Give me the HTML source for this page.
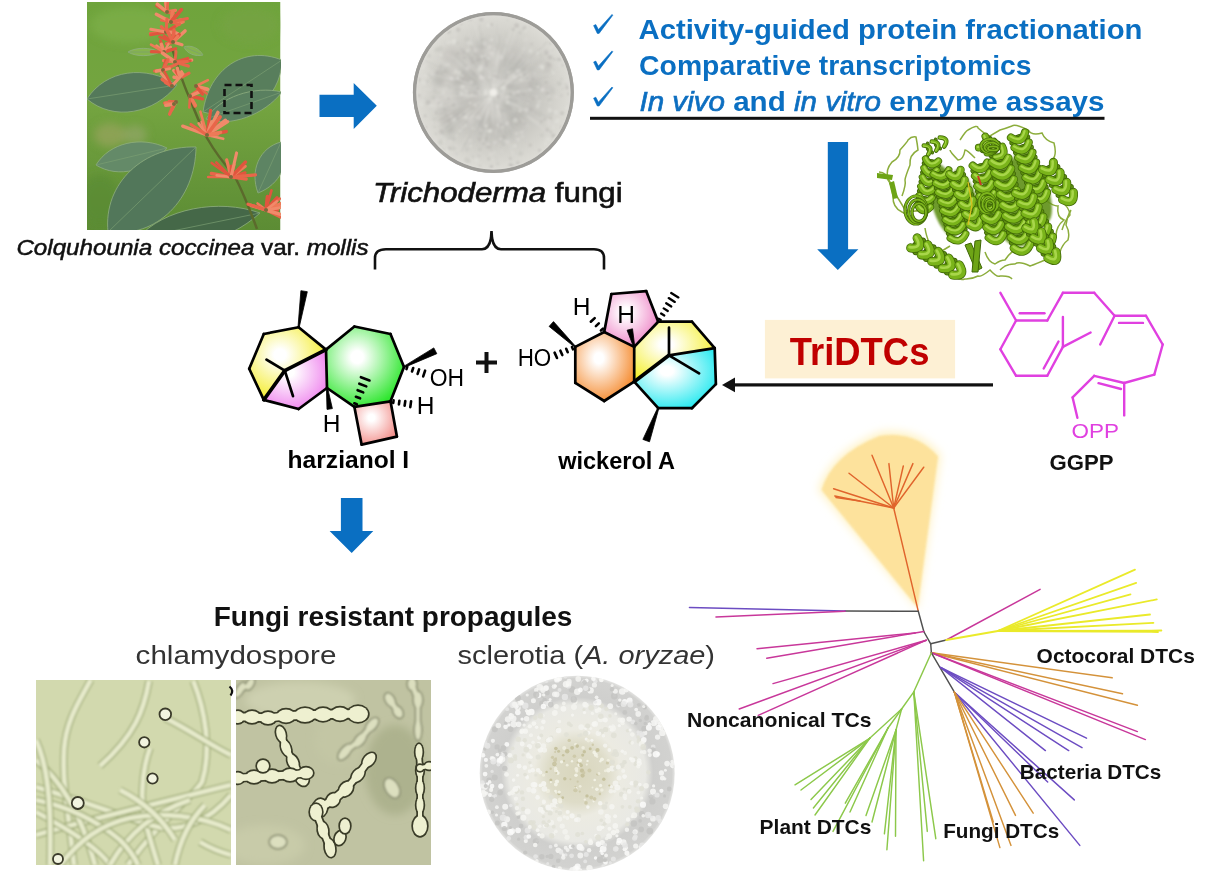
<!DOCTYPE html>
<html><head><meta charset="utf-8"><title>TriDTCs graphical abstract</title>
<style>
html,body{margin:0;padding:0;background:#fff;}
body{width:1230px;height:874px;overflow:hidden;font-family:"Liberation Sans",sans-serif;}
svg{display:block;}
</style></head><body>
<svg width="1230" height="874" viewBox="0 0 1230 874">
<rect width="1230" height="874" fill="#fff"/>
<defs>
<radialGradient id="petri" cx="50%" cy="50%" r="50%">
 <stop offset="0" stop-color="#e8e7e2"/><stop offset="0.08" stop-color="#d4d3ce"/>
 <stop offset="0.45" stop-color="#c2c1bc"/><stop offset="0.75" stop-color="#d2d1cb"/>
 <stop offset="0.95" stop-color="#dcdbd5"/><stop offset="1" stop-color="#b0afab"/>
</radialGradient>
<radialGradient id="scler" cx="50%" cy="50%" r="50%">
 <stop offset="0" stop-color="#d9d6bd"/><stop offset="0.3" stop-color="#dedcc8"/>
 <stop offset="0.45" stop-color="#ecebe2"/><stop offset="0.7" stop-color="#e9e9e4"/>
 <stop offset="0.78" stop-color="#cfcfcd"/><stop offset="0.97" stop-color="#d2d2d0"/><stop offset="1" stop-color="#e4e4e2"/>
</radialGradient>
<linearGradient id="plantbg" x1="0" y1="0" x2="0" y2="1">
 <stop offset="0" stop-color="#6fa43c"/><stop offset="0.45" stop-color="#74a440"/><stop offset="1" stop-color="#5c8c34"/>
</linearGradient>
<radialGradient id="wedgeg" cx="0.5" cy="1" r="1">
 <stop offset="0" stop-color="#fde7a8"/><stop offset="1" stop-color="#fde09a"/>
</radialGradient>
<radialGradient id="gG" cx="0.4" cy="0.38" r="0.65"><stop offset="0" stop-color="#ffffff"/><stop offset="0.12" stop-color="#ffffff"/><stop offset="1" stop-color="#2ee62e"/></radialGradient>
<radialGradient id="gY" cx="0.4" cy="0.38" r="0.65"><stop offset="0" stop-color="#ffffff"/><stop offset="0.12" stop-color="#ffffff"/><stop offset="1" stop-color="#f4ec2a"/></radialGradient>
<radialGradient id="gP" cx="0.4" cy="0.38" r="0.65"><stop offset="0" stop-color="#ffffff"/><stop offset="0.12" stop-color="#ffffff"/><stop offset="1" stop-color="#ef88ee"/></radialGradient>
<radialGradient id="gS" cx="0.4" cy="0.38" r="0.65"><stop offset="0" stop-color="#ffffff"/><stop offset="0.12" stop-color="#ffffff"/><stop offset="1" stop-color="#f3928e"/></radialGradient>
<radialGradient id="gO" cx="0.4" cy="0.38" r="0.65"><stop offset="0" stop-color="#ffffff"/><stop offset="0.12" stop-color="#ffffff"/><stop offset="1" stop-color="#f58d33"/></radialGradient>
<radialGradient id="gC" cx="0.4" cy="0.38" r="0.65"><stop offset="0" stop-color="#ffffff"/><stop offset="0.12" stop-color="#ffffff"/><stop offset="1" stop-color="#2eeaf0"/></radialGradient>
<radialGradient id="gP2" cx="0.4" cy="0.38" r="0.65"><stop offset="0" stop-color="#ffffff"/><stop offset="0.12" stop-color="#ffffff"/><stop offset="1" stop-color="#ee84c6"/></radialGradient>
<radialGradient id="gY2" cx="0.4" cy="0.38" r="0.65"><stop offset="0" stop-color="#ffffff"/><stop offset="0.12" stop-color="#ffffff"/><stop offset="1" stop-color="#f5ef2e"/></radialGradient>
<filter id="blur1"><feGaussianBlur stdDeviation="1.2"/></filter>
<filter id="blur2"><feGaussianBlur stdDeviation="2.5"/></filter>
<filter id="blur4"><feGaussianBlur stdDeviation="4"/></filter>
<clipPath id="cplant"><rect x="87" y="2" width="193.5" height="228"/></clipPath>
<clipPath id="cm1"><rect x="36" y="680" width="195" height="185"/></clipPath>
<clipPath id="cm2"><rect x="236" y="680" width="195" height="185"/></clipPath>
<clipPath id="cpetri"><circle cx="493.4" cy="92.5" r="80"/></clipPath>
<clipPath id="cscl"><circle cx="577.2" cy="773.2" r="97.5"/></clipPath>
</defs>
<g clip-path="url(#cplant)"><rect x="87" y="2" width="193.5" height="228" fill="url(#plantbg)"/><g filter="url(#blur4)"><ellipse cx="110" cy="135" rx="16" ry="12" fill="#93a45a" opacity="0.8"/><ellipse cx="135" cy="135" rx="12" ry="10" fill="#9aa870" opacity="0.6"/><ellipse cx="130" cy="25" rx="40" ry="18" fill="#80b24c" opacity="0.6"/><ellipse cx="250" cy="25" rx="30" ry="18" fill="#77a444" opacity="0.6"/><ellipse cx="100" cy="200" rx="20" ry="25" fill="#5a8a34" opacity="0.7"/></g><path d="M87.0,99.0 C113.5,121.4 153.9,114.1 177.0,85.0 C146.1,64.3 105.5,69.6 87.0,99.0Z" fill="#54795a" stroke="#8fae80" stroke-width="0.8"/><path d="M87.0,99.0 L177.0,85.0" stroke="#7a9e72" stroke-width="1" opacity="0.7"/><path d="M282.0,60.0 C243.7,44.8 208.9,69.3 203.0,112.0 C244.5,123.5 280.8,101.2 282.0,60.0Z" fill="#587e5c" stroke="#8fae80" stroke-width="0.8"/><path d="M282.0,60.0 L203.0,112.0" stroke="#7a9e72" stroke-width="1" opacity="0.7"/><path d="M206.0,119.0 C230.4,127.6 264.4,114.8 282.0,92.0 C254.0,85.4 219.6,96.9 206.0,119.0Z" fill="#5a8060" stroke="#8fae80" stroke-width="0.8"/><path d="M206.0,119.0 L282.0,92.0" stroke="#7a9e72" stroke-width="1" opacity="0.7"/><path d="M96.0,165.0 C118.1,179.0 149.9,170.6 167.0,148.0 C141.5,135.6 109.4,142.5 96.0,165.0Z" fill="#648a68" stroke="#8fae80" stroke-width="0.8"/><path d="M96.0,165.0 L167.0,148.0" stroke="#7a9e72" stroke-width="1" opacity="0.7"/><path d="M108.0,232.0 C156.9,238.6 195.4,199.3 196.0,147.0 C143.8,145.7 103.1,182.9 108.0,232.0Z" fill="#52775a" stroke="#8fae80" stroke-width="0.8"/><path d="M108.0,232.0 L196.0,147.0" stroke="#7a9e72" stroke-width="1" opacity="0.7"/><path d="M138.0,238.0 C173.3,255.0 228.0,242.8 260.0,213.0 C218.8,198.2 163.7,208.5 138.0,238.0Z" fill="#456848" stroke="#8fae80" stroke-width="0.8"/><path d="M138.0,238.0 L260.0,213.0" stroke="#7a9e72" stroke-width="1" opacity="0.7"/><path d="M281.0,142.0 C259.3,147.6 249.6,170.8 258.0,193.0 C280.2,184.6 291.2,161.9 281.0,142.0Z" fill="#5d8463" stroke="#8fae80" stroke-width="0.8"/><path d="M281.0,142.0 L258.0,193.0" stroke="#7a9e72" stroke-width="1" opacity="0.7"/><path d="M172,48 C180,75 188,95 191,101 C197,118 203,130 207,138 C215,152 225,165 234,175 C242,190 250,210 257,229" stroke="#5b6a2c" stroke-width="2.5" fill="none"/><path d="M128.0,52.0 C136.0,57.0 150.4,56.8 160.0,52.0 C150.4,47.2 136.0,47.0 128.0,52.0Z" fill="#86b44e" stroke="#8fae80" stroke-width="0.8"/><path d="M128.0,52.0 L160.0,52.0" stroke="#7a9e72" stroke-width="1" opacity="0.7"/><path d="M184.0,47.0 C186.8,53.6 195.4,57.0 203.0,55.0 C199.2,48.2 190.7,44.4 184.0,47.0Z" fill="#86b44e" stroke="#8fae80" stroke-width="0.8"/><path d="M184.0,47.0 L203.0,55.0" stroke="#7a9e72" stroke-width="1" opacity="0.7"/><line x1="167.0" y1="12.0" x2="156.9" y2="5.6" stroke="#e0553e" stroke-width="3.5" stroke-linecap="round"/><line x1="167.0" y1="12.0" x2="165.8" y2="-0.3" stroke="#e8664a" stroke-width="3.5" stroke-linecap="round"/><line x1="167.0" y1="12.0" x2="165.6" y2="0.0" stroke="#ee7a58" stroke-width="3.6" stroke-linecap="round"/><line x1="167.0" y1="12.0" x2="165.3" y2="-3.1" stroke="#f08a6a" stroke-width="2.9" stroke-linecap="round"/><line x1="167.0" y1="12.0" x2="175.4" y2="10.4" stroke="#ee7a58" stroke-width="3.5" stroke-linecap="round"/><line x1="167.0" y1="12.0" x2="168.3" y2="-2.1" stroke="#e8664a" stroke-width="2.7" stroke-linecap="round"/><line x1="167.0" y1="12.0" x2="173.4" y2="13.2" stroke="#e8664a" stroke-width="3.4" stroke-linecap="round"/><line x1="167.0" y1="12.0" x2="157.3" y2="4.1" stroke="#f08a6a" stroke-width="3.3" stroke-linecap="round"/><circle cx="167" cy="12" r="2" fill="#7a6a3a"/><line x1="171.0" y1="22.0" x2="181.3" y2="22.5" stroke="#f08a6a" stroke-width="3.6" stroke-linecap="round"/><line x1="171.0" y1="22.0" x2="161.1" y2="20.3" stroke="#e8664a" stroke-width="2.6" stroke-linecap="round"/><line x1="171.0" y1="22.0" x2="156.3" y2="14.3" stroke="#f08a6a" stroke-width="3.4" stroke-linecap="round"/><line x1="171.0" y1="22.0" x2="181.4" y2="19.8" stroke="#f08a6a" stroke-width="3.1" stroke-linecap="round"/><line x1="171.0" y1="22.0" x2="172.4" y2="11.6" stroke="#ee7a58" stroke-width="3.5" stroke-linecap="round"/><line x1="171.0" y1="22.0" x2="181.4" y2="9.6" stroke="#e0553e" stroke-width="3.6" stroke-linecap="round"/><line x1="171.0" y1="22.0" x2="175.8" y2="15.8" stroke="#e0553e" stroke-width="3.6" stroke-linecap="round"/><line x1="171.0" y1="22.0" x2="183.3" y2="21.8" stroke="#ee7a58" stroke-width="3.2" stroke-linecap="round"/><line x1="171.0" y1="22.0" x2="179.5" y2="24.7" stroke="#e8664a" stroke-width="2.6" stroke-linecap="round"/><line x1="171.0" y1="22.0" x2="187.5" y2="18.5" stroke="#e8664a" stroke-width="2.9" stroke-linecap="round"/><circle cx="171" cy="22" r="2" fill="#7a6a3a"/><line x1="166.0" y1="32.0" x2="150.2" y2="33.5" stroke="#e8664a" stroke-width="2.8" stroke-linecap="round"/><line x1="166.0" y1="32.0" x2="179.4" y2="24.0" stroke="#e8664a" stroke-width="3.2" stroke-linecap="round"/><line x1="166.0" y1="32.0" x2="174.6" y2="26.6" stroke="#e0553e" stroke-width="3.1" stroke-linecap="round"/><line x1="166.0" y1="32.0" x2="175.1" y2="32.4" stroke="#ee7a58" stroke-width="3.6" stroke-linecap="round"/><line x1="166.0" y1="32.0" x2="161.4" y2="26.9" stroke="#e8664a" stroke-width="3.5" stroke-linecap="round"/><line x1="166.0" y1="32.0" x2="174.9" y2="34.2" stroke="#e0553e" stroke-width="2.7" stroke-linecap="round"/><line x1="166.0" y1="32.0" x2="150.7" y2="34.9" stroke="#e0553e" stroke-width="2.9" stroke-linecap="round"/><line x1="166.0" y1="32.0" x2="150.8" y2="29.2" stroke="#f08a6a" stroke-width="3.0" stroke-linecap="round"/><line x1="166.0" y1="32.0" x2="167.0" y2="19.0" stroke="#e8664a" stroke-width="3.2" stroke-linecap="round"/><line x1="166.0" y1="32.0" x2="177.5" y2="33.4" stroke="#f08a6a" stroke-width="3.2" stroke-linecap="round"/><circle cx="166" cy="32" r="2" fill="#7a6a3a"/><line x1="173.0" y1="42.0" x2="185.0" y2="31.0" stroke="#f08a6a" stroke-width="3.6" stroke-linecap="round"/><line x1="173.0" y1="42.0" x2="174.0" y2="30.0" stroke="#e8664a" stroke-width="3.4" stroke-linecap="round"/><line x1="173.0" y1="42.0" x2="182.0" y2="44.8" stroke="#f08a6a" stroke-width="3.2" stroke-linecap="round"/><line x1="173.0" y1="42.0" x2="176.2" y2="36.2" stroke="#e0553e" stroke-width="3.0" stroke-linecap="round"/><line x1="173.0" y1="42.0" x2="179.3" y2="34.4" stroke="#e0553e" stroke-width="3.3" stroke-linecap="round"/><line x1="173.0" y1="42.0" x2="166.6" y2="43.7" stroke="#e8664a" stroke-width="3.6" stroke-linecap="round"/><line x1="173.0" y1="42.0" x2="164.0" y2="35.6" stroke="#e0553e" stroke-width="2.7" stroke-linecap="round"/><line x1="173.0" y1="42.0" x2="159.6" y2="36.9" stroke="#e0553e" stroke-width="2.8" stroke-linecap="round"/><line x1="173.0" y1="42.0" x2="166.4" y2="29.1" stroke="#e8664a" stroke-width="3.6" stroke-linecap="round"/><line x1="173.0" y1="42.0" x2="177.8" y2="36.3" stroke="#ee7a58" stroke-width="3.2" stroke-linecap="round"/><circle cx="173" cy="42" r="2" fill="#7a6a3a"/><line x1="164.0" y1="52.0" x2="156.6" y2="45.9" stroke="#f08a6a" stroke-width="3.2" stroke-linecap="round"/><line x1="164.0" y1="52.0" x2="151.4" y2="51.7" stroke="#e0553e" stroke-width="3.2" stroke-linecap="round"/><line x1="164.0" y1="52.0" x2="151.0" y2="44.7" stroke="#ee7a58" stroke-width="2.6" stroke-linecap="round"/><line x1="164.0" y1="52.0" x2="170.7" y2="47.0" stroke="#f08a6a" stroke-width="2.8" stroke-linecap="round"/><line x1="164.0" y1="52.0" x2="169.7" y2="49.1" stroke="#ee7a58" stroke-width="2.8" stroke-linecap="round"/><line x1="164.0" y1="52.0" x2="175.8" y2="48.6" stroke="#e0553e" stroke-width="2.9" stroke-linecap="round"/><line x1="164.0" y1="52.0" x2="170.6" y2="49.9" stroke="#e0553e" stroke-width="3.1" stroke-linecap="round"/><line x1="164.0" y1="52.0" x2="160.5" y2="40.8" stroke="#e0553e" stroke-width="3.0" stroke-linecap="round"/><line x1="164.0" y1="52.0" x2="168.5" y2="44.0" stroke="#f08a6a" stroke-width="2.5" stroke-linecap="round"/><line x1="164.0" y1="52.0" x2="161.3" y2="44.3" stroke="#f08a6a" stroke-width="3.5" stroke-linecap="round"/><circle cx="164" cy="52" r="2" fill="#7a6a3a"/><line x1="175.0" y1="62.0" x2="191.8" y2="60.1" stroke="#f08a6a" stroke-width="3.1" stroke-linecap="round"/><line x1="175.0" y1="62.0" x2="188.3" y2="66.0" stroke="#e8664a" stroke-width="3.3" stroke-linecap="round"/><line x1="175.0" y1="62.0" x2="187.8" y2="58.4" stroke="#e0553e" stroke-width="3.1" stroke-linecap="round"/><line x1="175.0" y1="62.0" x2="190.4" y2="60.8" stroke="#e0553e" stroke-width="2.6" stroke-linecap="round"/><line x1="175.0" y1="62.0" x2="169.7" y2="58.4" stroke="#ee7a58" stroke-width="3.5" stroke-linecap="round"/><line x1="175.0" y1="62.0" x2="187.3" y2="61.6" stroke="#e8664a" stroke-width="3.0" stroke-linecap="round"/><line x1="175.0" y1="62.0" x2="163.5" y2="60.7" stroke="#ee7a58" stroke-width="3.2" stroke-linecap="round"/><line x1="175.0" y1="62.0" x2="176.0" y2="51.5" stroke="#e8664a" stroke-width="2.9" stroke-linecap="round"/><line x1="175.0" y1="62.0" x2="162.4" y2="53.0" stroke="#f08a6a" stroke-width="3.4" stroke-linecap="round"/><circle cx="175" cy="62" r="2" fill="#7a6a3a"/><line x1="163.0" y1="70.0" x2="154.6" y2="71.0" stroke="#e8664a" stroke-width="3.1" stroke-linecap="round"/><line x1="163.0" y1="70.0" x2="170.4" y2="67.3" stroke="#e0553e" stroke-width="3.5" stroke-linecap="round"/><line x1="163.0" y1="70.0" x2="176.9" y2="64.2" stroke="#e8664a" stroke-width="3.0" stroke-linecap="round"/><line x1="163.0" y1="70.0" x2="165.8" y2="60.0" stroke="#e0553e" stroke-width="2.8" stroke-linecap="round"/><line x1="163.0" y1="70.0" x2="168.1" y2="59.5" stroke="#e8664a" stroke-width="3.0" stroke-linecap="round"/><line x1="163.0" y1="70.0" x2="168.3" y2="67.1" stroke="#e8664a" stroke-width="3.4" stroke-linecap="round"/><line x1="163.0" y1="70.0" x2="156.5" y2="71.1" stroke="#f08a6a" stroke-width="3.6" stroke-linecap="round"/><line x1="163.0" y1="70.0" x2="169.8" y2="68.6" stroke="#f08a6a" stroke-width="2.8" stroke-linecap="round"/><circle cx="163" cy="70" r="2" fill="#7a6a3a"/><line x1="180.0" y1="78.0" x2="173.6" y2="70.5" stroke="#f08a6a" stroke-width="3.1" stroke-linecap="round"/><line x1="180.0" y1="78.0" x2="175.9" y2="71.0" stroke="#e0553e" stroke-width="3.0" stroke-linecap="round"/><line x1="180.0" y1="78.0" x2="174.0" y2="77.2" stroke="#f08a6a" stroke-width="3.4" stroke-linecap="round"/><line x1="180.0" y1="78.0" x2="181.6" y2="71.7" stroke="#f08a6a" stroke-width="3.2" stroke-linecap="round"/><line x1="180.0" y1="78.0" x2="189.0" y2="73.2" stroke="#e8664a" stroke-width="3.2" stroke-linecap="round"/><line x1="180.0" y1="78.0" x2="177.4" y2="68.2" stroke="#f08a6a" stroke-width="3.3" stroke-linecap="round"/><circle cx="180" cy="78" r="2" fill="#7a6a3a"/><line x1="172.0" y1="86.0" x2="161.3" y2="73.5" stroke="#f08a6a" stroke-width="3.0" stroke-linecap="round"/><line x1="172.0" y1="86.0" x2="162.1" y2="79.4" stroke="#e8664a" stroke-width="3.4" stroke-linecap="round"/><line x1="172.0" y1="86.0" x2="165.5" y2="82.4" stroke="#e8664a" stroke-width="3.5" stroke-linecap="round"/><line x1="172.0" y1="86.0" x2="164.6" y2="71.9" stroke="#e0553e" stroke-width="2.6" stroke-linecap="round"/><line x1="172.0" y1="86.0" x2="182.9" y2="73.8" stroke="#f08a6a" stroke-width="3.2" stroke-linecap="round"/><circle cx="172" cy="86" r="2" fill="#7a6a3a"/><line x1="190.0" y1="96.0" x2="195.2" y2="106.1" stroke="#e8664a" stroke-width="3.4" stroke-linecap="round"/><line x1="190.0" y1="96.0" x2="195.4" y2="105.4" stroke="#ee7a58" stroke-width="3.4" stroke-linecap="round"/><line x1="190.0" y1="96.0" x2="197.1" y2="91.2" stroke="#e8664a" stroke-width="3.2" stroke-linecap="round"/><line x1="190.0" y1="96.0" x2="202.6" y2="98.8" stroke="#e0553e" stroke-width="3.4" stroke-linecap="round"/><line x1="190.0" y1="96.0" x2="202.0" y2="90.9" stroke="#f08a6a" stroke-width="3.4" stroke-linecap="round"/><line x1="190.0" y1="96.0" x2="189.3" y2="107.5" stroke="#e8664a" stroke-width="2.5" stroke-linecap="round"/><circle cx="190" cy="96" r="2" fill="#7a6a3a"/><line x1="176.0" y1="102.0" x2="166.9" y2="102.5" stroke="#ee7a58" stroke-width="2.6" stroke-linecap="round"/><line x1="176.0" y1="102.0" x2="164.4" y2="103.0" stroke="#e8664a" stroke-width="3.1" stroke-linecap="round"/><line x1="176.0" y1="102.0" x2="169.0" y2="101.1" stroke="#e8664a" stroke-width="2.8" stroke-linecap="round"/><line x1="176.0" y1="102.0" x2="172.5" y2="108.6" stroke="#f08a6a" stroke-width="2.8" stroke-linecap="round"/><circle cx="176" cy="102" r="2" fill="#7a6a3a"/><line x1="207.0" y1="135.0" x2="217.9" y2="112.5" stroke="#f08a6a" stroke-width="3.6" stroke-linecap="round"/><line x1="207.0" y1="135.0" x2="202.0" y2="122.2" stroke="#f08a6a" stroke-width="3.4" stroke-linecap="round"/><line x1="207.0" y1="135.0" x2="223.2" y2="138.8" stroke="#f08a6a" stroke-width="2.7" stroke-linecap="round"/><line x1="207.0" y1="135.0" x2="200.4" y2="111.7" stroke="#ee7a58" stroke-width="2.6" stroke-linecap="round"/><line x1="207.0" y1="135.0" x2="227.7" y2="121.6" stroke="#f08a6a" stroke-width="3.1" stroke-linecap="round"/><line x1="207.0" y1="135.0" x2="219.0" y2="132.9" stroke="#ee7a58" stroke-width="2.7" stroke-linecap="round"/><line x1="207.0" y1="135.0" x2="210.6" y2="110.3" stroke="#e0553e" stroke-width="3.2" stroke-linecap="round"/><line x1="207.0" y1="135.0" x2="226.2" y2="131.5" stroke="#e0553e" stroke-width="3.5" stroke-linecap="round"/><line x1="207.0" y1="135.0" x2="198.7" y2="123.4" stroke="#f08a6a" stroke-width="2.7" stroke-linecap="round"/><line x1="207.0" y1="135.0" x2="211.7" y2="122.0" stroke="#f08a6a" stroke-width="3.4" stroke-linecap="round"/><line x1="207.0" y1="135.0" x2="182.7" y2="126.1" stroke="#f08a6a" stroke-width="3.3" stroke-linecap="round"/><line x1="207.0" y1="135.0" x2="190.9" y2="124.4" stroke="#e8664a" stroke-width="3.0" stroke-linecap="round"/><line x1="207.0" y1="135.0" x2="225.5" y2="120.2" stroke="#f08a6a" stroke-width="3.4" stroke-linecap="round"/><line x1="207.0" y1="135.0" x2="217.7" y2="134.1" stroke="#ee7a58" stroke-width="3.5" stroke-linecap="round"/><line x1="207.0" y1="135.0" x2="220.2" y2="116.9" stroke="#e8664a" stroke-width="3.6" stroke-linecap="round"/><line x1="207.0" y1="135.0" x2="220.6" y2="132.4" stroke="#ee7a58" stroke-width="3.4" stroke-linecap="round"/><circle cx="207" cy="135" r="2" fill="#7a6a3a"/><line x1="231.0" y1="177.0" x2="211.4" y2="173.5" stroke="#e8664a" stroke-width="3.5" stroke-linecap="round"/><line x1="231.0" y1="177.0" x2="211.7" y2="163.0" stroke="#e0553e" stroke-width="2.7" stroke-linecap="round"/><line x1="231.0" y1="177.0" x2="208.2" y2="177.0" stroke="#e8664a" stroke-width="2.6" stroke-linecap="round"/><line x1="231.0" y1="177.0" x2="245.1" y2="172.8" stroke="#e0553e" stroke-width="3.0" stroke-linecap="round"/><line x1="231.0" y1="177.0" x2="243.0" y2="167.4" stroke="#e8664a" stroke-width="2.9" stroke-linecap="round"/><line x1="231.0" y1="177.0" x2="226.7" y2="159.8" stroke="#ee7a58" stroke-width="3.2" stroke-linecap="round"/><line x1="231.0" y1="177.0" x2="245.3" y2="166.3" stroke="#ee7a58" stroke-width="3.1" stroke-linecap="round"/><line x1="231.0" y1="177.0" x2="216.7" y2="175.4" stroke="#f08a6a" stroke-width="2.6" stroke-linecap="round"/><line x1="231.0" y1="177.0" x2="255.5" y2="174.9" stroke="#e8664a" stroke-width="3.1" stroke-linecap="round"/><line x1="231.0" y1="177.0" x2="245.5" y2="162.0" stroke="#e0553e" stroke-width="3.3" stroke-linecap="round"/><line x1="231.0" y1="177.0" x2="216.3" y2="162.3" stroke="#e0553e" stroke-width="2.6" stroke-linecap="round"/><line x1="231.0" y1="177.0" x2="246.3" y2="179.1" stroke="#e8664a" stroke-width="3.2" stroke-linecap="round"/><line x1="231.0" y1="177.0" x2="231.4" y2="166.1" stroke="#e0553e" stroke-width="3.2" stroke-linecap="round"/><line x1="231.0" y1="177.0" x2="234.3" y2="164.5" stroke="#ee7a58" stroke-width="2.7" stroke-linecap="round"/><line x1="231.0" y1="177.0" x2="251.4" y2="175.5" stroke="#e8664a" stroke-width="2.6" stroke-linecap="round"/><line x1="231.0" y1="177.0" x2="236.6" y2="152.9" stroke="#f08a6a" stroke-width="3.1" stroke-linecap="round"/><circle cx="231" cy="177" r="2" fill="#7a6a3a"/><line x1="266.0" y1="210.0" x2="277.0" y2="197.8" stroke="#e0553e" stroke-width="3.4" stroke-linecap="round"/><line x1="266.0" y1="210.0" x2="275.6" y2="203.6" stroke="#ee7a58" stroke-width="3.3" stroke-linecap="round"/><line x1="266.0" y1="210.0" x2="271.5" y2="190.4" stroke="#e0553e" stroke-width="2.6" stroke-linecap="round"/><line x1="266.0" y1="210.0" x2="257.5" y2="203.4" stroke="#ee7a58" stroke-width="2.5" stroke-linecap="round"/><line x1="266.0" y1="210.0" x2="267.4" y2="196.6" stroke="#e0553e" stroke-width="3.5" stroke-linecap="round"/><line x1="266.0" y1="210.0" x2="280.6" y2="217.2" stroke="#e8664a" stroke-width="2.9" stroke-linecap="round"/><line x1="266.0" y1="210.0" x2="277.6" y2="210.3" stroke="#e0553e" stroke-width="3.1" stroke-linecap="round"/><line x1="266.0" y1="210.0" x2="279.8" y2="198.6" stroke="#e8664a" stroke-width="2.7" stroke-linecap="round"/><line x1="266.0" y1="210.0" x2="250.9" y2="205.3" stroke="#f08a6a" stroke-width="3.4" stroke-linecap="round"/><line x1="266.0" y1="210.0" x2="282.9" y2="202.9" stroke="#ee7a58" stroke-width="3.4" stroke-linecap="round"/><line x1="266.0" y1="210.0" x2="283.3" y2="206.8" stroke="#ee7a58" stroke-width="3.1" stroke-linecap="round"/><line x1="266.0" y1="210.0" x2="253.4" y2="205.3" stroke="#e0553e" stroke-width="2.5" stroke-linecap="round"/><line x1="266.0" y1="210.0" x2="288.2" y2="206.4" stroke="#f08a6a" stroke-width="2.8" stroke-linecap="round"/><line x1="266.0" y1="210.0" x2="279.7" y2="214.1" stroke="#f08a6a" stroke-width="3.6" stroke-linecap="round"/><line x1="266.0" y1="210.0" x2="277.1" y2="201.2" stroke="#f08a6a" stroke-width="2.5" stroke-linecap="round"/><line x1="266.0" y1="210.0" x2="248.0" y2="204.3" stroke="#e8664a" stroke-width="3.3" stroke-linecap="round"/><circle cx="266" cy="210" r="2" fill="#7a6a3a"/><line x1="196.0" y1="86.0" x2="207.3" y2="90.0" stroke="#f08a6a" stroke-width="2.7" stroke-linecap="round"/><line x1="196.0" y1="86.0" x2="204.1" y2="91.4" stroke="#f08a6a" stroke-width="2.6" stroke-linecap="round"/><line x1="196.0" y1="86.0" x2="207.9" y2="80.2" stroke="#ee7a58" stroke-width="2.6" stroke-linecap="round"/><line x1="196.0" y1="86.0" x2="206.6" y2="93.5" stroke="#e8664a" stroke-width="2.5" stroke-linecap="round"/><line x1="196.0" y1="86.0" x2="207.7" y2="89.0" stroke="#f08a6a" stroke-width="3.1" stroke-linecap="round"/><line x1="196.0" y1="86.0" x2="202.6" y2="94.3" stroke="#e0553e" stroke-width="3.3" stroke-linecap="round"/><circle cx="196" cy="86" r="2" fill="#7a6a3a"/><line x1="174.0" y1="104.0" x2="169.6" y2="114.2" stroke="#e8664a" stroke-width="3.3" stroke-linecap="round"/><line x1="174.0" y1="104.0" x2="166.0" y2="104.8" stroke="#ee7a58" stroke-width="3.5" stroke-linecap="round"/><line x1="174.0" y1="104.0" x2="165.4" y2="103.1" stroke="#ee7a58" stroke-width="3.0" stroke-linecap="round"/><line x1="174.0" y1="104.0" x2="171.8" y2="109.8" stroke="#e8664a" stroke-width="3.4" stroke-linecap="round"/><line x1="174.0" y1="104.0" x2="165.8" y2="105.4" stroke="#f08a6a" stroke-width="3.3" stroke-linecap="round"/><circle cx="174" cy="104" r="2" fill="#7a6a3a"/></g><rect x="224.5" y="85" width="27" height="28" fill="none" stroke="#111" stroke-width="2.6" stroke-dasharray="7,4"/>
<polygon points="319.5,94.8 353.7,94.8 353.7,83 376.8,105.8 353.7,129 353.7,117 319.5,117" fill="#0A6FC2"/>
<polygon points="827.8,142 848.1,142 848.1,249.3 858.4,249.3 837.8,270 817.2,249.3 827.8,249.3" fill="#0A6FC2"/>
<polygon points="340.9,498 362.5,498 362.5,531 373.3,531 351.7,553.1 329.6,531 340.9,531" fill="#0A6FC2"/>
<circle cx="493.4" cy="92.5" r="80.5" fill="url(#petri)"/><g clip-path="url(#cpetri)"><g filter="url(#blur2)"><circle cx="453.7" cy="104.7" r="6.3" fill="#d8d7d2" opacity="0.55"/><circle cx="509.3" cy="72.0" r="7.1" fill="#d8d7d2" opacity="0.55"/><circle cx="499.3" cy="71.3" r="4.7" fill="#c4c3be" opacity="0.55"/><circle cx="439.6" cy="79.2" r="7.0" fill="#b3b2ad" opacity="0.55"/><circle cx="464.0" cy="115.0" r="7.1" fill="#bdbcb7" opacity="0.55"/><circle cx="503.5" cy="74.5" r="5.0" fill="#b3b2ad" opacity="0.55"/><circle cx="494.4" cy="111.7" r="5.6" fill="#d8d7d2" opacity="0.55"/><circle cx="471.4" cy="78.3" r="7.2" fill="#bdbcb7" opacity="0.55"/><circle cx="447.6" cy="92.6" r="7.3" fill="#d8d7d2" opacity="0.55"/><circle cx="459.1" cy="115.2" r="7.5" fill="#b3b2ad" opacity="0.55"/><circle cx="482.4" cy="117.9" r="4.1" fill="#c4c3be" opacity="0.55"/><circle cx="472.6" cy="83.8" r="8.2" fill="#b3b2ad" opacity="0.55"/><circle cx="449.4" cy="130.6" r="5.1" fill="#b3b2ad" opacity="0.55"/><circle cx="511.5" cy="83.6" r="8.9" fill="#d8d7d2" opacity="0.55"/><circle cx="476.6" cy="105.2" r="7.9" fill="#bdbcb7" opacity="0.55"/><circle cx="490.7" cy="114.0" r="4.1" fill="#c4c3be" opacity="0.55"/><circle cx="445.5" cy="122.9" r="5.2" fill="#bdbcb7" opacity="0.55"/><circle cx="509.9" cy="104.7" r="4.9" fill="#d8d7d2" opacity="0.55"/><circle cx="459.1" cy="79.1" r="8.9" fill="#bdbcb7" opacity="0.55"/><circle cx="497.8" cy="57.2" r="4.6" fill="#d8d7d2" opacity="0.55"/><circle cx="469.7" cy="105.4" r="8.3" fill="#c4c3be" opacity="0.55"/><circle cx="535.8" cy="85.8" r="5.1" fill="#b3b2ad" opacity="0.55"/><circle cx="451.0" cy="125.7" r="4.2" fill="#b3b2ad" opacity="0.55"/><circle cx="515.6" cy="121.6" r="7.9" fill="#b3b2ad" opacity="0.55"/><circle cx="478.9" cy="119.3" r="4.4" fill="#b3b2ad" opacity="0.55"/><circle cx="504.9" cy="135.7" r="7.0" fill="#b3b2ad" opacity="0.55"/><circle cx="467.8" cy="119.2" r="8.2" fill="#d8d7d2" opacity="0.55"/><circle cx="515.9" cy="118.3" r="5.6" fill="#bdbcb7" opacity="0.55"/><circle cx="499.3" cy="135.7" r="4.8" fill="#bdbcb7" opacity="0.55"/><circle cx="465.0" cy="62.6" r="8.4" fill="#d8d7d2" opacity="0.55"/><circle cx="465.0" cy="70.9" r="4.5" fill="#b3b2ad" opacity="0.55"/><circle cx="464.8" cy="90.3" r="5.3" fill="#d8d7d2" opacity="0.55"/><circle cx="512.6" cy="54.0" r="6.6" fill="#c4c3be" opacity="0.55"/><circle cx="546.7" cy="67.1" r="5.1" fill="#bdbcb7" opacity="0.55"/><circle cx="443.3" cy="72.9" r="5.4" fill="#b3b2ad" opacity="0.55"/><circle cx="516.5" cy="79.3" r="4.3" fill="#b3b2ad" opacity="0.55"/><circle cx="469.2" cy="107.5" r="4.9" fill="#b3b2ad" opacity="0.55"/><circle cx="464.9" cy="123.4" r="4.5" fill="#bdbcb7" opacity="0.55"/><circle cx="517.2" cy="120.7" r="7.3" fill="#c4c3be" opacity="0.55"/><circle cx="478.0" cy="52.8" r="6.9" fill="#bdbcb7" opacity="0.55"/><circle cx="527.1" cy="75.0" r="7.5" fill="#c4c3be" opacity="0.55"/><circle cx="511.8" cy="88.1" r="6.4" fill="#b3b2ad" opacity="0.55"/><circle cx="489.6" cy="61.3" r="4.4" fill="#b3b2ad" opacity="0.55"/><circle cx="446.5" cy="78.5" r="8.0" fill="#bdbcb7" opacity="0.55"/><circle cx="521.6" cy="75.8" r="8.5" fill="#d8d7d2" opacity="0.55"/><circle cx="517.9" cy="66.8" r="8.3" fill="#b3b2ad" opacity="0.55"/><circle cx="453.7" cy="73.0" r="5.9" fill="#d8d7d2" opacity="0.55"/><circle cx="514.4" cy="94.1" r="7.2" fill="#b3b2ad" opacity="0.55"/><circle cx="548.3" cy="90.2" r="5.9" fill="#c4c3be" opacity="0.55"/><circle cx="489.4" cy="50.3" r="6.3" fill="#d8d7d2" opacity="0.55"/><circle cx="454.9" cy="82.3" r="5.6" fill="#b3b2ad" opacity="0.55"/><circle cx="509.5" cy="102.4" r="6.5" fill="#b3b2ad" opacity="0.55"/><circle cx="450.8" cy="55.2" r="8.5" fill="#c4c3be" opacity="0.55"/><circle cx="477.2" cy="110.2" r="6.6" fill="#bdbcb7" opacity="0.55"/><circle cx="494.2" cy="60.1" r="6.5" fill="#d8d7d2" opacity="0.55"/><circle cx="495.3" cy="127.4" r="5.0" fill="#c4c3be" opacity="0.55"/><circle cx="446.4" cy="114.3" r="8.4" fill="#bdbcb7" opacity="0.55"/><circle cx="461.6" cy="120.7" r="5.0" fill="#c4c3be" opacity="0.55"/><circle cx="515.1" cy="117.0" r="7.6" fill="#b3b2ad" opacity="0.55"/><circle cx="521.6" cy="83.3" r="4.6" fill="#bdbcb7" opacity="0.55"/><circle cx="437.4" cy="102.7" r="5.9" fill="#d8d7d2" opacity="0.55"/><circle cx="447.5" cy="86.7" r="5.6" fill="#d8d7d2" opacity="0.55"/><circle cx="507.5" cy="66.4" r="7.4" fill="#b3b2ad" opacity="0.55"/><circle cx="487.0" cy="124.8" r="7.2" fill="#b3b2ad" opacity="0.55"/><circle cx="471.9" cy="107.1" r="5.2" fill="#c4c3be" opacity="0.55"/><circle cx="506.0" cy="108.0" r="6.2" fill="#b3b2ad" opacity="0.55"/><circle cx="462.2" cy="59.3" r="8.8" fill="#c4c3be" opacity="0.55"/><circle cx="482.8" cy="68.3" r="5.3" fill="#d8d7d2" opacity="0.55"/><circle cx="482.3" cy="44.0" r="4.9" fill="#b3b2ad" opacity="0.55"/><circle cx="488.8" cy="124.7" r="6.0" fill="#bdbcb7" opacity="0.55"/></g><g filter="url(#blur1)"><line x1="505.3" y1="48.5" x2="507.9" y2="38.9" stroke="#c9c8c3" stroke-width="0.9" opacity="0.35"/><line x1="462.4" y1="101.8" x2="435.5" y2="109.9" stroke="#c9c8c3" stroke-width="1.2" opacity="0.35"/><line x1="478.1" y1="70.7" x2="463.2" y2="49.4" stroke="#b8b7b2" stroke-width="1.2" opacity="0.35"/><line x1="486.1" y1="82.2" x2="472.2" y2="62.8" stroke="#e4e3de" stroke-width="1.0" opacity="0.35"/><line x1="533.1" y1="63.6" x2="557.0" y2="46.3" stroke="#b8b7b2" stroke-width="1.0" opacity="0.35"/><line x1="492.7" y1="88.8" x2="488.9" y2="70.1" stroke="#e4e3de" stroke-width="1.2" opacity="0.35"/><line x1="456.2" y1="80.3" x2="438.4" y2="74.5" stroke="#e4e3de" stroke-width="1.0" opacity="0.35"/><line x1="509.0" y1="75.4" x2="514.9" y2="68.9" stroke="#b8b7b2" stroke-width="1.3" opacity="0.35"/><line x1="515.1" y1="79.9" x2="541.0" y2="64.7" stroke="#c9c8c3" stroke-width="1.6" opacity="0.35"/><line x1="445.8" y1="94.7" x2="436.0" y2="95.2" stroke="#d9d8d3" stroke-width="1.2" opacity="0.35"/><line x1="454.2" y1="77.3" x2="435.2" y2="70.0" stroke="#d9d8d3" stroke-width="1.2" opacity="0.35"/><line x1="509.7" y1="68.1" x2="517.9" y2="55.7" stroke="#c9c8c3" stroke-width="1.6" opacity="0.35"/><line x1="515.1" y1="69.4" x2="525.1" y2="58.7" stroke="#d9d8d3" stroke-width="1.6" opacity="0.35"/><line x1="463.8" y1="88.0" x2="451.5" y2="86.1" stroke="#e4e3de" stroke-width="1.2" opacity="0.35"/><line x1="490.0" y1="89.9" x2="466.9" y2="71.8" stroke="#c9c8c3" stroke-width="1.2" opacity="0.35"/><line x1="502.1" y1="91.9" x2="512.1" y2="91.3" stroke="#d9d8d3" stroke-width="0.9" opacity="0.35"/><line x1="471.6" y1="87.1" x2="443.4" y2="80.1" stroke="#c9c8c3" stroke-width="1.0" opacity="0.35"/><line x1="484.6" y1="94.0" x2="467.3" y2="96.9" stroke="#c9c8c3" stroke-width="1.2" opacity="0.35"/><line x1="511.0" y1="106.8" x2="517.7" y2="112.3" stroke="#b8b7b2" stroke-width="0.9" opacity="0.35"/><line x1="494.1" y1="88.5" x2="496.4" y2="76.4" stroke="#d9d8d3" stroke-width="0.8" opacity="0.35"/><line x1="485.5" y1="128.7" x2="482.7" y2="141.7" stroke="#c9c8c3" stroke-width="0.9" opacity="0.35"/><line x1="492.3" y1="83.8" x2="490.0" y2="64.7" stroke="#b8b7b2" stroke-width="1.4" opacity="0.35"/><line x1="480.1" y1="50.3" x2="477.5" y2="42.1" stroke="#c9c8c3" stroke-width="1.5" opacity="0.35"/><line x1="472.3" y1="73.7" x2="452.1" y2="55.7" stroke="#d9d8d3" stroke-width="1.2" opacity="0.35"/><line x1="512.3" y1="67.0" x2="528.2" y2="45.4" stroke="#d9d8d3" stroke-width="1.5" opacity="0.35"/><line x1="480.0" y1="78.6" x2="471.7" y2="70.0" stroke="#b8b7b2" stroke-width="1.5" opacity="0.35"/><line x1="506.9" y1="129.7" x2="511.1" y2="141.3" stroke="#e4e3de" stroke-width="0.9" opacity="0.35"/><line x1="495.9" y1="129.6" x2="496.8" y2="143.2" stroke="#e4e3de" stroke-width="1.1" opacity="0.35"/><line x1="520.0" y1="82.2" x2="541.9" y2="73.7" stroke="#d9d8d3" stroke-width="1.1" opacity="0.35"/><line x1="491.9" y1="89.0" x2="487.0" y2="77.6" stroke="#b8b7b2" stroke-width="1.5" opacity="0.35"/><line x1="501.7" y1="90.8" x2="520.4" y2="87.1" stroke="#b8b7b2" stroke-width="1.2" opacity="0.35"/><line x1="488.7" y1="81.6" x2="485.0" y2="72.8" stroke="#e4e3de" stroke-width="0.8" opacity="0.35"/><line x1="495.8" y1="60.8" x2="497.9" y2="32.9" stroke="#c9c8c3" stroke-width="0.9" opacity="0.35"/><line x1="498.4" y1="104.0" x2="509.0" y2="128.3" stroke="#b8b7b2" stroke-width="1.5" opacity="0.35"/><line x1="498.3" y1="95.8" x2="522.2" y2="112.1" stroke="#c9c8c3" stroke-width="0.9" opacity="0.35"/><line x1="510.9" y1="104.7" x2="525.2" y2="114.6" stroke="#b8b7b2" stroke-width="1.1" opacity="0.35"/><line x1="490.5" y1="90.4" x2="471.6" y2="76.5" stroke="#d9d8d3" stroke-width="0.9" opacity="0.35"/><line x1="457.2" y1="103.3" x2="441.0" y2="108.1" stroke="#d9d8d3" stroke-width="1.3" opacity="0.35"/><line x1="526.7" y1="115.1" x2="539.2" y2="123.6" stroke="#e4e3de" stroke-width="1.4" opacity="0.35"/><line x1="481.2" y1="50.8" x2="475.1" y2="29.8" stroke="#c9c8c3" stroke-width="1.3" opacity="0.35"/><line x1="504.5" y1="120.9" x2="510.1" y2="135.3" stroke="#b8b7b2" stroke-width="1.0" opacity="0.35"/><line x1="521.6" y1="117.8" x2="530.2" y2="125.5" stroke="#c9c8c3" stroke-width="0.9" opacity="0.35"/><line x1="479.8" y1="117.3" x2="472.0" y2="131.5" stroke="#c9c8c3" stroke-width="1.4" opacity="0.35"/><line x1="462.7" y1="113.1" x2="454.8" y2="118.5" stroke="#b8b7b2" stroke-width="1.0" opacity="0.35"/><line x1="529.5" y1="119.0" x2="553.5" y2="136.6" stroke="#e4e3de" stroke-width="1.0" opacity="0.35"/><line x1="525.7" y1="80.8" x2="540.2" y2="75.6" stroke="#c9c8c3" stroke-width="1.3" opacity="0.35"/><line x1="472.5" y1="88.1" x2="443.2" y2="81.9" stroke="#d9d8d3" stroke-width="1.4" opacity="0.35"/><line x1="497.0" y1="43.6" x2="497.6" y2="35.1" stroke="#e4e3de" stroke-width="1.4" opacity="0.35"/><line x1="492.5" y1="114.4" x2="492.1" y2="123.5" stroke="#d9d8d3" stroke-width="1.3" opacity="0.35"/><line x1="508.5" y1="93.5" x2="522.6" y2="94.5" stroke="#b8b7b2" stroke-width="1.2" opacity="0.35"/><line x1="445.0" y1="90.1" x2="424.5" y2="89.1" stroke="#e4e3de" stroke-width="1.3" opacity="0.35"/><line x1="495.8" y1="86.4" x2="503.5" y2="66.7" stroke="#e4e3de" stroke-width="1.1" opacity="0.35"/><line x1="513.0" y1="84.5" x2="540.2" y2="73.5" stroke="#c9c8c3" stroke-width="1.2" opacity="0.35"/><line x1="474.3" y1="79.3" x2="458.8" y2="68.5" stroke="#b8b7b2" stroke-width="1.2" opacity="0.35"/><line x1="476.9" y1="80.9" x2="465.2" y2="72.6" stroke="#b8b7b2" stroke-width="1.2" opacity="0.35"/><line x1="485.7" y1="128.4" x2="482.7" y2="142.6" stroke="#e4e3de" stroke-width="1.4" opacity="0.35"/><line x1="465.3" y1="75.7" x2="450.7" y2="67.0" stroke="#c9c8c3" stroke-width="0.8" opacity="0.35"/><line x1="484.8" y1="112.4" x2="476.5" y2="131.5" stroke="#b8b7b2" stroke-width="0.9" opacity="0.35"/><line x1="512.6" y1="79.5" x2="528.0" y2="69.2" stroke="#d9d8d3" stroke-width="0.8" opacity="0.35"/><line x1="526.9" y1="116.3" x2="549.7" y2="132.6" stroke="#d9d8d3" stroke-width="1.6" opacity="0.35"/><line x1="506.2" y1="63.8" x2="510.5" y2="54.2" stroke="#c9c8c3" stroke-width="1.2" opacity="0.35"/><line x1="495.0" y1="97.7" x2="500.6" y2="116.5" stroke="#e4e3de" stroke-width="1.1" opacity="0.35"/><line x1="507.8" y1="109.9" x2="521.4" y2="126.2" stroke="#c9c8c3" stroke-width="1.1" opacity="0.35"/><line x1="491.8" y1="51.2" x2="491.4" y2="40.2" stroke="#b8b7b2" stroke-width="1.4" opacity="0.35"/><line x1="494.0" y1="100.8" x2="496.0" y2="128.4" stroke="#b8b7b2" stroke-width="1.0" opacity="0.35"/><line x1="464.8" y1="68.9" x2="446.8" y2="54.0" stroke="#d9d8d3" stroke-width="1.3" opacity="0.35"/><line x1="493.7" y1="80.6" x2="493.9" y2="67.1" stroke="#d9d8d3" stroke-width="1.5" opacity="0.35"/><line x1="499.1" y1="93.9" x2="512.6" y2="97.4" stroke="#c9c8c3" stroke-width="0.8" opacity="0.35"/><line x1="506.5" y1="95.7" x2="520.2" y2="99.0" stroke="#e4e3de" stroke-width="1.5" opacity="0.35"/><line x1="500.9" y1="104.4" x2="516.6" y2="129.5" stroke="#c9c8c3" stroke-width="1.2" opacity="0.35"/><line x1="498.1" y1="111.1" x2="504.1" y2="134.7" stroke="#e4e3de" stroke-width="1.4" opacity="0.35"/><line x1="454.0" y1="106.0" x2="429.0" y2="114.6" stroke="#d9d8d3" stroke-width="1.2" opacity="0.35"/><line x1="493.0" y1="71.2" x2="492.9" y2="59.9" stroke="#d9d8d3" stroke-width="1.3" opacity="0.35"/><line x1="511.7" y1="91.3" x2="531.7" y2="89.9" stroke="#d9d8d3" stroke-width="1.1" opacity="0.35"/><line x1="488.3" y1="98.0" x2="469.7" y2="118.0" stroke="#e4e3de" stroke-width="1.2" opacity="0.35"/><line x1="466.4" y1="104.8" x2="442.8" y2="115.6" stroke="#c9c8c3" stroke-width="1.0" opacity="0.35"/><line x1="494.4" y1="86.0" x2="496.5" y2="73.5" stroke="#e4e3de" stroke-width="1.4" opacity="0.35"/><line x1="454.5" y1="93.8" x2="439.3" y2="94.3" stroke="#d9d8d3" stroke-width="1.0" opacity="0.35"/><line x1="483.3" y1="77.2" x2="467.9" y2="53.8" stroke="#b8b7b2" stroke-width="1.4" opacity="0.35"/><line x1="451.5" y1="73.0" x2="425.5" y2="60.9" stroke="#b8b7b2" stroke-width="1.2" opacity="0.35"/><line x1="499.1" y1="76.1" x2="504.0" y2="62.0" stroke="#c9c8c3" stroke-width="1.6" opacity="0.35"/><line x1="489.9" y1="65.5" x2="488.7" y2="55.7" stroke="#b8b7b2" stroke-width="0.8" opacity="0.35"/><line x1="479.9" y1="65.2" x2="468.6" y2="42.3" stroke="#b8b7b2" stroke-width="1.4" opacity="0.35"/><line x1="452.5" y1="81.8" x2="432.7" y2="76.7" stroke="#d9d8d3" stroke-width="0.9" opacity="0.35"/><line x1="452.0" y1="104.7" x2="427.2" y2="112.0" stroke="#d9d8d3" stroke-width="1.2" opacity="0.35"/><line x1="464.9" y1="84.4" x2="436.7" y2="76.4" stroke="#c9c8c3" stroke-width="0.9" opacity="0.35"/><line x1="455.1" y1="80.9" x2="445.7" y2="78.0" stroke="#e4e3de" stroke-width="1.0" opacity="0.35"/><line x1="507.4" y1="103.4" x2="514.2" y2="108.7" stroke="#d9d8d3" stroke-width="0.9" opacity="0.35"/><line x1="502.6" y1="71.6" x2="512.2" y2="50.0" stroke="#c9c8c3" stroke-width="1.4" opacity="0.35"/><line x1="454.8" y1="87.2" x2="438.3" y2="85.0" stroke="#b8b7b2" stroke-width="1.4" opacity="0.35"/><line x1="488.7" y1="100.7" x2="479.4" y2="116.9" stroke="#e4e3de" stroke-width="1.4" opacity="0.35"/><line x1="512.6" y1="81.1" x2="535.1" y2="67.8" stroke="#b8b7b2" stroke-width="1.5" opacity="0.35"/><line x1="507.9" y1="52.9" x2="517.4" y2="27.0" stroke="#e4e3de" stroke-width="1.2" opacity="0.35"/><line x1="483.3" y1="53.1" x2="479.0" y2="36.3" stroke="#c9c8c3" stroke-width="1.5" opacity="0.35"/><line x1="493.7" y1="103.1" x2="494.3" y2="125.1" stroke="#d9d8d3" stroke-width="1.1" opacity="0.35"/><line x1="472.0" y1="110.4" x2="461.2" y2="119.3" stroke="#e4e3de" stroke-width="1.2" opacity="0.35"/><line x1="491.3" y1="75.4" x2="489.9" y2="64.0" stroke="#d9d8d3" stroke-width="1.5" opacity="0.35"/><line x1="493.5" y1="88.7" x2="493.8" y2="70.1" stroke="#e4e3de" stroke-width="1.1" opacity="0.35"/><line x1="499.8" y1="111.3" x2="506.6" y2="131.1" stroke="#c9c8c3" stroke-width="1.3" opacity="0.35"/><line x1="495.3" y1="104.0" x2="497.6" y2="118.0" stroke="#d9d8d3" stroke-width="1.5" opacity="0.35"/><line x1="523.4" y1="80.1" x2="549.9" y2="69.0" stroke="#c9c8c3" stroke-width="1.5" opacity="0.35"/><line x1="471.6" y1="94.6" x2="442.7" y2="97.4" stroke="#e4e3de" stroke-width="1.2" opacity="0.35"/><line x1="494.4" y1="97.7" x2="499.6" y2="126.1" stroke="#c9c8c3" stroke-width="1.6" opacity="0.35"/><line x1="504.3" y1="54.7" x2="511.3" y2="30.3" stroke="#e4e3de" stroke-width="1.3" opacity="0.35"/><line x1="493.7" y1="96.0" x2="495.1" y2="114.3" stroke="#b8b7b2" stroke-width="1.2" opacity="0.35"/><line x1="493.9" y1="115.3" x2="494.5" y2="142.5" stroke="#c9c8c3" stroke-width="0.9" opacity="0.35"/><line x1="486.8" y1="106.2" x2="474.9" y2="130.6" stroke="#d9d8d3" stroke-width="1.3" opacity="0.35"/><line x1="508.9" y1="91.8" x2="528.7" y2="91.0" stroke="#d9d8d3" stroke-width="1.3" opacity="0.35"/><line x1="498.9" y1="103.8" x2="511.1" y2="129.2" stroke="#d9d8d3" stroke-width="1.5" opacity="0.35"/><line x1="507.0" y1="100.3" x2="527.7" y2="112.0" stroke="#e4e3de" stroke-width="1.5" opacity="0.35"/><line x1="491.0" y1="86.0" x2="482.5" y2="63.1" stroke="#b8b7b2" stroke-width="0.8" opacity="0.35"/><line x1="498.0" y1="103.7" x2="506.8" y2="124.9" stroke="#c9c8c3" stroke-width="1.0" opacity="0.35"/><line x1="466.7" y1="85.0" x2="455.7" y2="82.0" stroke="#b8b7b2" stroke-width="1.1" opacity="0.35"/><line x1="469.2" y1="108.8" x2="444.4" y2="125.6" stroke="#e4e3de" stroke-width="1.1" opacity="0.35"/><line x1="490.3" y1="85.1" x2="483.9" y2="69.8" stroke="#c9c8c3" stroke-width="1.4" opacity="0.35"/><line x1="495.3" y1="84.0" x2="499.1" y2="66.6" stroke="#c9c8c3" stroke-width="1.4" opacity="0.35"/><line x1="476.8" y1="95.1" x2="466.4" y2="96.7" stroke="#e4e3de" stroke-width="1.5" opacity="0.35"/><line x1="514.0" y1="62.0" x2="529.6" y2="38.9" stroke="#d9d8d3" stroke-width="1.0" opacity="0.35"/><line x1="473.2" y1="112.4" x2="462.9" y2="122.7" stroke="#b8b7b2" stroke-width="1.4" opacity="0.35"/><line x1="486.7" y1="90.1" x2="475.3" y2="85.9" stroke="#c9c8c3" stroke-width="1.4" opacity="0.35"/><line x1="470.7" y1="134.1" x2="461.0" y2="152.0" stroke="#b8b7b2" stroke-width="1.2" opacity="0.35"/><line x1="487.6" y1="97.7" x2="471.6" y2="112.3" stroke="#d9d8d3" stroke-width="1.3" opacity="0.35"/><line x1="490.4" y1="81.4" x2="486.1" y2="65.2" stroke="#c9c8c3" stroke-width="1.3" opacity="0.35"/><line x1="504.9" y1="99.8" x2="514.6" y2="106.0" stroke="#e4e3de" stroke-width="1.1" opacity="0.35"/><line x1="495.9" y1="73.6" x2="499.4" y2="47.7" stroke="#d9d8d3" stroke-width="1.3" opacity="0.35"/><line x1="497.8" y1="51.1" x2="499.5" y2="34.7" stroke="#b8b7b2" stroke-width="1.5" opacity="0.35"/><line x1="466.8" y1="66.5" x2="451.4" y2="51.5" stroke="#b8b7b2" stroke-width="1.6" opacity="0.35"/><line x1="501.8" y1="59.5" x2="507.1" y2="38.8" stroke="#e4e3de" stroke-width="1.0" opacity="0.35"/><line x1="499.9" y1="108.6" x2="506.6" y2="125.1" stroke="#c9c8c3" stroke-width="1.0" opacity="0.35"/><line x1="485.1" y1="107.1" x2="480.0" y2="116.0" stroke="#d9d8d3" stroke-width="1.0" opacity="0.35"/><line x1="476.9" y1="88.4" x2="464.1" y2="85.2" stroke="#d9d8d3" stroke-width="1.3" opacity="0.35"/><line x1="508.4" y1="136.9" x2="518.0" y2="165.3" stroke="#d9d8d3" stroke-width="1.3" opacity="0.35"/><line x1="526.9" y1="98.2" x2="551.6" y2="102.4" stroke="#d9d8d3" stroke-width="1.0" opacity="0.35"/><line x1="461.7" y1="76.0" x2="448.2" y2="68.9" stroke="#b8b7b2" stroke-width="1.0" opacity="0.35"/><line x1="511.4" y1="76.2" x2="529.2" y2="60.1" stroke="#d9d8d3" stroke-width="1.5" opacity="0.35"/><line x1="465.1" y1="84.6" x2="445.6" y2="79.1" stroke="#b8b7b2" stroke-width="0.9" opacity="0.35"/><line x1="492.2" y1="47.4" x2="491.8" y2="32.0" stroke="#d9d8d3" stroke-width="0.9" opacity="0.35"/><line x1="500.9" y1="77.7" x2="513.4" y2="53.0" stroke="#d9d8d3" stroke-width="1.4" opacity="0.35"/><line x1="486.4" y1="100.7" x2="472.6" y2="116.7" stroke="#e4e3de" stroke-width="1.2" opacity="0.35"/><line x1="460.7" y1="115.2" x2="437.3" y2="131.4" stroke="#d9d8d3" stroke-width="1.0" opacity="0.35"/><line x1="475.5" y1="59.3" x2="467.7" y2="44.9" stroke="#e4e3de" stroke-width="0.9" opacity="0.35"/><line x1="489.5" y1="94.9" x2="472.8" y2="105.2" stroke="#e4e3de" stroke-width="1.3" opacity="0.35"/><line x1="506.1" y1="116.8" x2="512.4" y2="129.1" stroke="#b8b7b2" stroke-width="0.8" opacity="0.35"/><line x1="501.2" y1="56.4" x2="506.6" y2="31.7" stroke="#c9c8c3" stroke-width="1.6" opacity="0.35"/><line x1="473.1" y1="77.7" x2="459.3" y2="67.7" stroke="#c9c8c3" stroke-width="1.4" opacity="0.35"/><line x1="443.9" y1="96.9" x2="417.5" y2="99.3" stroke="#c9c8c3" stroke-width="1.5" opacity="0.35"/><line x1="499.6" y1="98.1" x2="520.8" y2="117.4" stroke="#b8b7b2" stroke-width="1.2" opacity="0.35"/><line x1="452.0" y1="111.3" x2="438.3" y2="117.5" stroke="#e4e3de" stroke-width="1.0" opacity="0.35"/><line x1="476.0" y1="76.9" x2="463.9" y2="66.1" stroke="#b8b7b2" stroke-width="1.4" opacity="0.35"/><line x1="483.0" y1="121.6" x2="479.8" y2="130.6" stroke="#e4e3de" stroke-width="1.5" opacity="0.35"/><line x1="495.5" y1="136.5" x2="496.9" y2="165.8" stroke="#c9c8c3" stroke-width="1.4" opacity="0.35"/><line x1="479.4" y1="90.2" x2="464.8" y2="87.7" stroke="#c9c8c3" stroke-width="1.6" opacity="0.35"/><line x1="529.8" y1="58.2" x2="547.3" y2="41.7" stroke="#b8b7b2" stroke-width="1.5" opacity="0.35"/><line x1="457.4" y1="111.9" x2="446.1" y2="118.0" stroke="#c9c8c3" stroke-width="1.3" opacity="0.35"/><line x1="499.7" y1="88.1" x2="520.6" y2="73.6" stroke="#e4e3de" stroke-width="1.5" opacity="0.35"/><line x1="471.8" y1="81.3" x2="458.9" y2="74.7" stroke="#b8b7b2" stroke-width="0.8" opacity="0.35"/><line x1="504.6" y1="113.4" x2="513.0" y2="129.2" stroke="#c9c8c3" stroke-width="0.9" opacity="0.35"/><line x1="488.5" y1="79.6" x2="483.3" y2="65.8" stroke="#c9c8c3" stroke-width="1.5" opacity="0.35"/><line x1="484.0" y1="117.2" x2="473.9" y2="143.9" stroke="#c9c8c3" stroke-width="1.5" opacity="0.35"/><line x1="506.1" y1="134.0" x2="512.9" y2="156.2" stroke="#e4e3de" stroke-width="1.0" opacity="0.35"/><line x1="503.7" y1="75.8" x2="513.4" y2="60.1" stroke="#d9d8d3" stroke-width="1.3" opacity="0.35"/><line x1="484.0" y1="64.7" x2="477.6" y2="46.1" stroke="#d9d8d3" stroke-width="1.0" opacity="0.35"/><line x1="497.3" y1="88.8" x2="504.8" y2="81.8" stroke="#b8b7b2" stroke-width="1.6" opacity="0.35"/><line x1="490.0" y1="115.0" x2="485.9" y2="142.0" stroke="#b8b7b2" stroke-width="1.4" opacity="0.35"/><line x1="515.5" y1="83.4" x2="524.5" y2="79.7" stroke="#d9d8d3" stroke-width="1.5" opacity="0.35"/><line x1="519.2" y1="116.9" x2="529.3" y2="126.5" stroke="#d9d8d3" stroke-width="1.2" opacity="0.35"/><line x1="488.9" y1="107.7" x2="481.7" y2="132.3" stroke="#e4e3de" stroke-width="1.3" opacity="0.35"/><line x1="495.7" y1="109.5" x2="499.4" y2="137.6" stroke="#d9d8d3" stroke-width="1.0" opacity="0.35"/><line x1="488.8" y1="86.9" x2="469.9" y2="64.1" stroke="#c9c8c3" stroke-width="1.5" opacity="0.35"/><line x1="534.2" y1="112.9" x2="541.5" y2="116.6" stroke="#b8b7b2" stroke-width="1.2" opacity="0.35"/><line x1="467.0" y1="106.3" x2="456.7" y2="111.6" stroke="#d9d8d3" stroke-width="1.0" opacity="0.35"/><line x1="488.2" y1="120.8" x2="486.0" y2="132.7" stroke="#d9d8d3" stroke-width="1.6" opacity="0.35"/><line x1="517.5" y1="97.7" x2="541.5" y2="102.8" stroke="#c9c8c3" stroke-width="0.8" opacity="0.35"/><line x1="497.9" y1="88.8" x2="505.2" y2="82.9" stroke="#b8b7b2" stroke-width="1.1" opacity="0.35"/><line x1="488.9" y1="93.0" x2="474.6" y2="94.5" stroke="#d9d8d3" stroke-width="1.3" opacity="0.35"/><line x1="494.5" y1="84.3" x2="496.8" y2="66.9" stroke="#c9c8c3" stroke-width="1.2" opacity="0.35"/><line x1="492.0" y1="129.1" x2="491.1" y2="153.0" stroke="#b8b7b2" stroke-width="1.2" opacity="0.35"/><line x1="498.8" y1="122.3" x2="502.3" y2="140.9" stroke="#e4e3de" stroke-width="1.0" opacity="0.35"/><line x1="498.8" y1="91.5" x2="516.3" y2="88.2" stroke="#d9d8d3" stroke-width="1.1" opacity="0.35"/><line x1="468.8" y1="72.6" x2="448.8" y2="56.4" stroke="#c9c8c3" stroke-width="1.4" opacity="0.35"/><line x1="496.2" y1="89.0" x2="502.7" y2="80.8" stroke="#d9d8d3" stroke-width="1.3" opacity="0.35"/><line x1="454.7" y1="81.7" x2="441.9" y2="78.2" stroke="#d9d8d3" stroke-width="0.8" opacity="0.35"/><line x1="461.6" y1="108.6" x2="438.3" y2="120.4" stroke="#b8b7b2" stroke-width="1.4" opacity="0.35"/><line x1="459.8" y1="92.8" x2="440.6" y2="93.0" stroke="#c9c8c3" stroke-width="1.0" opacity="0.35"/><line x1="512.4" y1="122.4" x2="526.5" y2="144.6" stroke="#c9c8c3" stroke-width="0.8" opacity="0.35"/><line x1="476.4" y1="103.2" x2="465.6" y2="110.0" stroke="#e4e3de" stroke-width="0.9" opacity="0.35"/><line x1="494.5" y1="61.3" x2="494.8" y2="50.3" stroke="#c9c8c3" stroke-width="1.2" opacity="0.35"/><line x1="496.5" y1="92.2" x2="513.5" y2="90.7" stroke="#d9d8d3" stroke-width="0.9" opacity="0.35"/><line x1="469.8" y1="83.8" x2="442.9" y2="73.9" stroke="#e4e3de" stroke-width="1.3" opacity="0.35"/><line x1="483.3" y1="44.7" x2="478.9" y2="23.7" stroke="#b8b7b2" stroke-width="1.0" opacity="0.35"/><line x1="479.8" y1="87.9" x2="462.6" y2="82.1" stroke="#d9d8d3" stroke-width="1.1" opacity="0.35"/><line x1="467.9" y1="134.5" x2="456.7" y2="152.8" stroke="#e4e3de" stroke-width="0.9" opacity="0.35"/><line x1="450.6" y1="67.1" x2="429.8" y2="54.8" stroke="#d9d8d3" stroke-width="1.2" opacity="0.35"/><line x1="460.1" y1="119.1" x2="447.2" y2="129.3" stroke="#e4e3de" stroke-width="1.0" opacity="0.35"/><line x1="486.7" y1="102.0" x2="475.2" y2="118.5" stroke="#d9d8d3" stroke-width="1.2" opacity="0.35"/><line x1="468.4" y1="110.6" x2="448.4" y2="125.1" stroke="#c9c8c3" stroke-width="1.2" opacity="0.35"/><line x1="528.3" y1="91.0" x2="555.2" y2="89.9" stroke="#d9d8d3" stroke-width="1.2" opacity="0.35"/><line x1="488.8" y1="95.0" x2="476.5" y2="101.9" stroke="#b8b7b2" stroke-width="1.3" opacity="0.35"/><line x1="455.8" y1="88.0" x2="436.7" y2="85.7" stroke="#d9d8d3" stroke-width="1.0" opacity="0.35"/><line x1="486.8" y1="100.3" x2="468.4" y2="122.2" stroke="#b8b7b2" stroke-width="0.9" opacity="0.35"/><line x1="495.8" y1="134.9" x2="496.4" y2="145.5" stroke="#b8b7b2" stroke-width="1.5" opacity="0.35"/><line x1="452.4" y1="105.9" x2="436.8" y2="110.9" stroke="#b8b7b2" stroke-width="1.4" opacity="0.35"/><line x1="487.9" y1="91.8" x2="471.3" y2="89.8" stroke="#d9d8d3" stroke-width="1.2" opacity="0.35"/><line x1="503.8" y1="117.6" x2="507.9" y2="127.6" stroke="#d9d8d3" stroke-width="1.0" opacity="0.35"/><line x1="468.0" y1="105.6" x2="458.3" y2="110.7" stroke="#b8b7b2" stroke-width="1.1" opacity="0.35"/><line x1="473.6" y1="98.7" x2="447.5" y2="106.9" stroke="#b8b7b2" stroke-width="1.2" opacity="0.35"/><line x1="484.4" y1="95.4" x2="466.1" y2="101.5" stroke="#b8b7b2" stroke-width="1.0" opacity="0.35"/><line x1="488.4" y1="111.0" x2="485.0" y2="123.3" stroke="#e4e3de" stroke-width="1.5" opacity="0.35"/><line x1="492.9" y1="66.8" x2="492.8" y2="58.6" stroke="#b8b7b2" stroke-width="1.3" opacity="0.35"/><line x1="532.7" y1="110.1" x2="551.3" y2="118.4" stroke="#b8b7b2" stroke-width="1.3" opacity="0.35"/><line x1="535.5" y1="80.3" x2="548.1" y2="76.7" stroke="#b8b7b2" stroke-width="0.9" opacity="0.35"/><line x1="474.1" y1="101.9" x2="465.8" y2="106.0" stroke="#c9c8c3" stroke-width="1.5" opacity="0.35"/><line x1="485.6" y1="127.7" x2="482.9" y2="140.3" stroke="#c9c8c3" stroke-width="1.0" opacity="0.35"/><line x1="495.6" y1="73.1" x2="498.3" y2="49.6" stroke="#e4e3de" stroke-width="1.4" opacity="0.35"/><line x1="527.5" y1="70.1" x2="543.0" y2="59.9" stroke="#b8b7b2" stroke-width="1.4" opacity="0.35"/><line x1="459.5" y1="80.7" x2="451.4" y2="77.9" stroke="#c9c8c3" stroke-width="0.9" opacity="0.35"/><line x1="532.1" y1="67.8" x2="543.9" y2="60.3" stroke="#c9c8c3" stroke-width="1.2" opacity="0.35"/><line x1="471.9" y1="79.6" x2="458.9" y2="71.8" stroke="#b8b7b2" stroke-width="0.9" opacity="0.35"/><line x1="511.2" y1="96.5" x2="527.0" y2="100.1" stroke="#b8b7b2" stroke-width="1.0" opacity="0.35"/><line x1="487.6" y1="82.3" x2="478.6" y2="66.3" stroke="#b8b7b2" stroke-width="1.6" opacity="0.35"/><line x1="473.8" y1="115.4" x2="455.2" y2="137.2" stroke="#e4e3de" stroke-width="1.3" opacity="0.35"/><line x1="477.2" y1="77.1" x2="464.8" y2="65.3" stroke="#b8b7b2" stroke-width="0.9" opacity="0.35"/><line x1="469.9" y1="97.9" x2="441.4" y2="104.5" stroke="#c9c8c3" stroke-width="0.8" opacity="0.35"/><line x1="511.0" y1="112.7" x2="520.8" y2="123.9" stroke="#b8b7b2" stroke-width="1.2" opacity="0.35"/><line x1="524.6" y1="96.7" x2="538.4" y2="98.5" stroke="#b8b7b2" stroke-width="1.3" opacity="0.35"/><line x1="493.7" y1="95.5" x2="495.6" y2="115.4" stroke="#c9c8c3" stroke-width="0.8" opacity="0.35"/><line x1="452.4" y1="80.0" x2="428.6" y2="72.8" stroke="#e4e3de" stroke-width="1.3" opacity="0.35"/><line x1="454.4" y1="76.8" x2="427.2" y2="65.9" stroke="#b8b7b2" stroke-width="1.0" opacity="0.35"/><line x1="496.5" y1="94.9" x2="516.9" y2="110.5" stroke="#d9d8d3" stroke-width="1.4" opacity="0.35"/><line x1="474.6" y1="48.0" x2="464.5" y2="23.9" stroke="#d9d8d3" stroke-width="1.1" opacity="0.35"/><line x1="478.2" y1="54.6" x2="472.8" y2="41.2" stroke="#c9c8c3" stroke-width="1.0" opacity="0.35"/><line x1="493.2" y1="64.4" x2="493.1" y2="51.2" stroke="#d9d8d3" stroke-width="1.1" opacity="0.35"/><line x1="480.9" y1="48.1" x2="474.3" y2="24.8" stroke="#e4e3de" stroke-width="1.6" opacity="0.35"/><line x1="511.8" y1="51.9" x2="518.0" y2="38.4" stroke="#c9c8c3" stroke-width="1.2" opacity="0.35"/><line x1="491.3" y1="88.1" x2="482.0" y2="68.5" stroke="#c9c8c3" stroke-width="1.5" opacity="0.35"/><line x1="507.5" y1="97.4" x2="525.6" y2="103.7" stroke="#c9c8c3" stroke-width="1.0" opacity="0.35"/><line x1="480.0" y1="77.3" x2="464.7" y2="60.1" stroke="#d9d8d3" stroke-width="1.1" opacity="0.35"/><line x1="495.9" y1="50.0" x2="497.4" y2="23.8" stroke="#c9c8c3" stroke-width="1.3" opacity="0.35"/><line x1="520.0" y1="119.3" x2="529.8" y2="129.2" stroke="#d9d8d3" stroke-width="0.9" opacity="0.35"/><line x1="468.7" y1="116.6" x2="459.4" y2="125.7" stroke="#d9d8d3" stroke-width="1.6" opacity="0.35"/><circle cx="429.4" cy="103.9" r="1.4" fill="#dddcd7" opacity="0.5"/><circle cx="488.2" cy="131.3" r="1.6" fill="#e4e3de" opacity="0.5"/><circle cx="480.9" cy="66.3" r="2.1" fill="#dddcd7" opacity="0.5"/><circle cx="505.2" cy="103.4" r="1.6" fill="#c6c5c0" opacity="0.5"/><circle cx="425.6" cy="75.8" r="1.5" fill="#e4e3de" opacity="0.5"/><circle cx="550.1" cy="102.0" r="1.3" fill="#e4e3de" opacity="0.5"/><circle cx="540.5" cy="113.7" r="1.4" fill="#c6c5c0" opacity="0.5"/><circle cx="484.6" cy="43.4" r="2.6" fill="#dddcd7" opacity="0.5"/><circle cx="443.5" cy="134.1" r="2.3" fill="#c6c5c0" opacity="0.5"/><circle cx="513.1" cy="118.5" r="1.9" fill="#b7b6b1" opacity="0.5"/><circle cx="551.7" cy="48.3" r="1.2" fill="#e4e3de" opacity="0.5"/><circle cx="488.6" cy="102.2" r="1.4" fill="#dddcd7" opacity="0.5"/><circle cx="457.6" cy="118.5" r="1.8" fill="#b7b6b1" opacity="0.5"/><circle cx="467.0" cy="122.2" r="1.2" fill="#b7b6b1" opacity="0.5"/><circle cx="561.4" cy="95.5" r="1.0" fill="#b7b6b1" opacity="0.5"/><circle cx="478.4" cy="117.5" r="2.6" fill="#dddcd7" opacity="0.5"/><circle cx="481.7" cy="100.1" r="2.3" fill="#c6c5c0" opacity="0.5"/><circle cx="478.5" cy="103.9" r="1.4" fill="#c6c5c0" opacity="0.5"/><circle cx="560.6" cy="65.3" r="1.9" fill="#e4e3de" opacity="0.5"/><circle cx="509.2" cy="86.4" r="2.5" fill="#b7b6b1" opacity="0.5"/><circle cx="431.2" cy="77.0" r="1.6" fill="#c6c5c0" opacity="0.5"/><circle cx="494.4" cy="49.1" r="1.0" fill="#e4e3de" opacity="0.5"/><circle cx="512.3" cy="166.5" r="2.2" fill="#b7b6b1" opacity="0.5"/><circle cx="489.8" cy="130.9" r="1.6" fill="#e4e3de" opacity="0.5"/><circle cx="516.6" cy="25.4" r="2.5" fill="#b7b6b1" opacity="0.5"/><circle cx="422.4" cy="100.5" r="1.4" fill="#e4e3de" opacity="0.5"/><circle cx="503.5" cy="86.1" r="1.4" fill="#dddcd7" opacity="0.5"/><circle cx="457.2" cy="123.1" r="2.3" fill="#c6c5c0" opacity="0.5"/><circle cx="452.3" cy="139.3" r="1.5" fill="#c6c5c0" opacity="0.5"/><circle cx="551.0" cy="118.1" r="1.4" fill="#b7b6b1" opacity="0.5"/><circle cx="500.9" cy="124.7" r="2.2" fill="#b7b6b1" opacity="0.5"/><circle cx="431.8" cy="74.1" r="1.6" fill="#dddcd7" opacity="0.5"/><circle cx="520.0" cy="132.0" r="1.7" fill="#dddcd7" opacity="0.5"/><circle cx="548.6" cy="95.8" r="1.2" fill="#e4e3de" opacity="0.5"/><circle cx="561.5" cy="70.7" r="1.0" fill="#dddcd7" opacity="0.5"/><circle cx="502.6" cy="110.4" r="1.9" fill="#b7b6b1" opacity="0.5"/><circle cx="470.1" cy="140.8" r="1.8" fill="#dddcd7" opacity="0.5"/><circle cx="507.4" cy="20.3" r="1.1" fill="#c6c5c0" opacity="0.5"/><circle cx="435.7" cy="140.2" r="2.2" fill="#dddcd7" opacity="0.5"/><circle cx="485.7" cy="91.3" r="2.5" fill="#e4e3de" opacity="0.5"/><circle cx="551.0" cy="113.4" r="2.4" fill="#c6c5c0" opacity="0.5"/><circle cx="531.7" cy="44.0" r="1.2" fill="#b7b6b1" opacity="0.5"/><circle cx="488.6" cy="25.4" r="2.1" fill="#e4e3de" opacity="0.5"/><circle cx="451.1" cy="116.0" r="1.6" fill="#dddcd7" opacity="0.5"/><circle cx="477.8" cy="88.4" r="1.8" fill="#b7b6b1" opacity="0.5"/><circle cx="453.7" cy="104.9" r="2.0" fill="#b7b6b1" opacity="0.5"/><circle cx="521.0" cy="79.8" r="1.5" fill="#e4e3de" opacity="0.5"/><circle cx="491.1" cy="154.0" r="2.2" fill="#dddcd7" opacity="0.5"/><circle cx="542.8" cy="89.2" r="2.2" fill="#dddcd7" opacity="0.5"/><circle cx="514.2" cy="76.9" r="2.3" fill="#dddcd7" opacity="0.5"/><circle cx="448.7" cy="31.6" r="2.3" fill="#b7b6b1" opacity="0.5"/><circle cx="415.9" cy="86.8" r="1.3" fill="#b7b6b1" opacity="0.5"/><circle cx="537.7" cy="103.4" r="1.7" fill="#c6c5c0" opacity="0.5"/><circle cx="422.7" cy="76.1" r="1.8" fill="#dddcd7" opacity="0.5"/><circle cx="530.4" cy="83.4" r="1.9" fill="#b7b6b1" opacity="0.5"/><circle cx="506.0" cy="39.3" r="1.1" fill="#dddcd7" opacity="0.5"/><circle cx="475.0" cy="92.9" r="2.3" fill="#b7b6b1" opacity="0.5"/><circle cx="520.7" cy="131.0" r="1.5" fill="#b7b6b1" opacity="0.5"/><circle cx="562.1" cy="59.5" r="2.3" fill="#dddcd7" opacity="0.5"/><circle cx="518.0" cy="114.9" r="1.0" fill="#e4e3de" opacity="0.5"/><circle cx="471.3" cy="44.1" r="1.1" fill="#e4e3de" opacity="0.5"/><circle cx="528.8" cy="89.8" r="2.4" fill="#c6c5c0" opacity="0.5"/><circle cx="488.6" cy="58.2" r="1.6" fill="#e4e3de" opacity="0.5"/><circle cx="519.9" cy="32.9" r="2.1" fill="#c6c5c0" opacity="0.5"/><circle cx="502.6" cy="127.0" r="1.3" fill="#dddcd7" opacity="0.5"/><circle cx="479.5" cy="84.8" r="1.2" fill="#c6c5c0" opacity="0.5"/><circle cx="550.2" cy="70.4" r="1.5" fill="#c6c5c0" opacity="0.5"/><circle cx="513.9" cy="93.5" r="2.2" fill="#dddcd7" opacity="0.5"/><circle cx="465.6" cy="125.9" r="1.3" fill="#e4e3de" opacity="0.5"/><circle cx="529.6" cy="110.0" r="2.3" fill="#c6c5c0" opacity="0.5"/><circle cx="449.1" cy="121.0" r="2.5" fill="#b7b6b1" opacity="0.5"/><circle cx="456.2" cy="146.3" r="1.8" fill="#dddcd7" opacity="0.5"/><circle cx="513.6" cy="110.9" r="2.5" fill="#c6c5c0" opacity="0.5"/><circle cx="548.8" cy="122.1" r="2.5" fill="#dddcd7" opacity="0.5"/><circle cx="442.2" cy="136.1" r="1.7" fill="#dddcd7" opacity="0.5"/><circle cx="539.8" cy="112.3" r="1.9" fill="#c6c5c0" opacity="0.5"/><circle cx="471.5" cy="58.6" r="2.1" fill="#b7b6b1" opacity="0.5"/><circle cx="495.1" cy="142.5" r="1.9" fill="#dddcd7" opacity="0.5"/><circle cx="525.8" cy="56.3" r="1.5" fill="#c6c5c0" opacity="0.5"/><circle cx="524.2" cy="27.5" r="1.9" fill="#b7b6b1" opacity="0.5"/><circle cx="553.3" cy="135.7" r="2.3" fill="#b7b6b1" opacity="0.5"/><circle cx="506.9" cy="93.9" r="2.6" fill="#c6c5c0" opacity="0.5"/><circle cx="522.6" cy="25.7" r="1.8" fill="#dddcd7" opacity="0.5"/><circle cx="459.1" cy="133.1" r="1.8" fill="#c6c5c0" opacity="0.5"/><circle cx="482.3" cy="76.8" r="2.6" fill="#dddcd7" opacity="0.5"/><circle cx="542.4" cy="90.2" r="2.0" fill="#dddcd7" opacity="0.5"/><circle cx="469.8" cy="18.2" r="2.6" fill="#b7b6b1" opacity="0.5"/><circle cx="454.9" cy="34.9" r="1.8" fill="#dddcd7" opacity="0.5"/><circle cx="445.9" cy="64.7" r="1.8" fill="#dddcd7" opacity="0.5"/><circle cx="550.7" cy="131.9" r="1.3" fill="#b7b6b1" opacity="0.5"/><circle cx="456.9" cy="42.9" r="2.1" fill="#c6c5c0" opacity="0.5"/><circle cx="546.1" cy="82.4" r="1.7" fill="#b7b6b1" opacity="0.5"/><circle cx="519.9" cy="131.9" r="2.5" fill="#c6c5c0" opacity="0.5"/><circle cx="503.0" cy="85.1" r="1.7" fill="#c6c5c0" opacity="0.5"/><circle cx="422.0" cy="63.7" r="1.5" fill="#b7b6b1" opacity="0.5"/><circle cx="465.9" cy="91.2" r="1.2" fill="#dddcd7" opacity="0.5"/><circle cx="540.8" cy="121.9" r="1.6" fill="#c6c5c0" opacity="0.5"/><circle cx="494.9" cy="152.4" r="1.1" fill="#e4e3de" opacity="0.5"/><circle cx="504.0" cy="143.8" r="1.7" fill="#b7b6b1" opacity="0.5"/><circle cx="508.3" cy="72.2" r="1.2" fill="#dddcd7" opacity="0.5"/><circle cx="463.5" cy="79.7" r="1.7" fill="#b7b6b1" opacity="0.5"/><circle cx="523.9" cy="94.6" r="2.2" fill="#b7b6b1" opacity="0.5"/><circle cx="486.2" cy="62.5" r="1.6" fill="#b7b6b1" opacity="0.5"/><circle cx="419.0" cy="95.6" r="1.6" fill="#b7b6b1" opacity="0.5"/><circle cx="482.3" cy="126.9" r="2.1" fill="#b7b6b1" opacity="0.5"/><circle cx="428.9" cy="128.4" r="2.0" fill="#dddcd7" opacity="0.5"/><circle cx="550.8" cy="42.9" r="1.6" fill="#b7b6b1" opacity="0.5"/><circle cx="472.9" cy="156.4" r="1.4" fill="#c6c5c0" opacity="0.5"/><circle cx="553.3" cy="127.6" r="1.6" fill="#e4e3de" opacity="0.5"/><circle cx="445.9" cy="114.7" r="1.5" fill="#b7b6b1" opacity="0.5"/><circle cx="462.5" cy="86.4" r="1.9" fill="#e4e3de" opacity="0.5"/><circle cx="463.7" cy="114.2" r="2.1" fill="#b7b6b1" opacity="0.5"/><circle cx="539.2" cy="102.0" r="1.8" fill="#dddcd7" opacity="0.5"/><circle cx="427.6" cy="81.3" r="1.7" fill="#c6c5c0" opacity="0.5"/><circle cx="499.8" cy="91.1" r="2.5" fill="#c6c5c0" opacity="0.5"/><circle cx="453.3" cy="137.6" r="2.3" fill="#c6c5c0" opacity="0.5"/><circle cx="510.4" cy="158.5" r="1.5" fill="#b7b6b1" opacity="0.5"/><circle cx="437.4" cy="93.3" r="1.1" fill="#c6c5c0" opacity="0.5"/><circle cx="526.1" cy="114.1" r="2.3" fill="#c6c5c0" opacity="0.5"/><circle cx="552.3" cy="70.8" r="1.6" fill="#c6c5c0" opacity="0.5"/><circle cx="479.1" cy="155.2" r="1.6" fill="#b7b6b1" opacity="0.5"/><circle cx="499.4" cy="131.1" r="1.5" fill="#b7b6b1" opacity="0.5"/><circle cx="522.6" cy="29.7" r="1.1" fill="#c6c5c0" opacity="0.5"/><circle cx="494.9" cy="75.5" r="1.9" fill="#b7b6b1" opacity="0.5"/><circle cx="549.3" cy="65.0" r="2.0" fill="#b7b6b1" opacity="0.5"/><circle cx="478.7" cy="59.8" r="2.3" fill="#b7b6b1" opacity="0.5"/><circle cx="448.6" cy="98.4" r="1.3" fill="#b7b6b1" opacity="0.5"/><circle cx="549.3" cy="124.8" r="1.6" fill="#dddcd7" opacity="0.5"/><circle cx="444.6" cy="109.1" r="1.7" fill="#b7b6b1" opacity="0.5"/><circle cx="546.6" cy="52.5" r="2.5" fill="#b7b6b1" opacity="0.5"/><circle cx="449.5" cy="148.5" r="2.1" fill="#b7b6b1" opacity="0.5"/><circle cx="441.6" cy="131.5" r="2.5" fill="#b7b6b1" opacity="0.5"/><circle cx="505.5" cy="141.2" r="2.3" fill="#dddcd7" opacity="0.5"/><circle cx="545.5" cy="143.5" r="1.7" fill="#e4e3de" opacity="0.5"/><circle cx="553.3" cy="47.0" r="2.1" fill="#dddcd7" opacity="0.5"/><circle cx="542.7" cy="68.6" r="1.8" fill="#e4e3de" opacity="0.5"/><circle cx="436.0" cy="99.1" r="2.2" fill="#dddcd7" opacity="0.5"/><circle cx="489.2" cy="101.0" r="2.0" fill="#dddcd7" opacity="0.5"/><circle cx="443.4" cy="141.3" r="1.7" fill="#e4e3de" opacity="0.5"/><circle cx="448.4" cy="64.4" r="1.8" fill="#dddcd7" opacity="0.5"/><circle cx="537.7" cy="87.1" r="1.4" fill="#e4e3de" opacity="0.5"/><circle cx="488.7" cy="159.0" r="1.4" fill="#b7b6b1" opacity="0.5"/><circle cx="558.6" cy="120.3" r="1.4" fill="#e4e3de" opacity="0.5"/><circle cx="510.4" cy="164.9" r="1.9" fill="#b7b6b1" opacity="0.5"/><circle cx="566.9" cy="81.2" r="1.6" fill="#e4e3de" opacity="0.5"/><circle cx="518.3" cy="115.2" r="2.1" fill="#b7b6b1" opacity="0.5"/><circle cx="463.2" cy="92.4" r="1.9" fill="#c6c5c0" opacity="0.5"/><circle cx="450.7" cy="78.2" r="1.7" fill="#dddcd7" opacity="0.5"/><circle cx="539.2" cy="84.0" r="1.2" fill="#c6c5c0" opacity="0.5"/><circle cx="501.1" cy="56.9" r="2.4" fill="#dddcd7" opacity="0.5"/><circle cx="489.8" cy="46.9" r="2.2" fill="#dddcd7" opacity="0.5"/><circle cx="429.1" cy="55.9" r="2.1" fill="#c6c5c0" opacity="0.5"/><circle cx="443.4" cy="149.9" r="2.0" fill="#c6c5c0" opacity="0.5"/><circle cx="530.9" cy="24.9" r="1.4" fill="#b7b6b1" opacity="0.5"/><circle cx="550.1" cy="99.8" r="2.1" fill="#c6c5c0" opacity="0.5"/><circle cx="480.1" cy="149.4" r="1.8" fill="#c6c5c0" opacity="0.5"/><circle cx="487.5" cy="133.7" r="2.5" fill="#c6c5c0" opacity="0.5"/><circle cx="521.5" cy="132.3" r="2.0" fill="#dddcd7" opacity="0.5"/><circle cx="429.1" cy="74.3" r="1.5" fill="#c6c5c0" opacity="0.5"/><circle cx="431.6" cy="123.0" r="1.8" fill="#dddcd7" opacity="0.5"/><circle cx="475.5" cy="50.3" r="2.5" fill="#dddcd7" opacity="0.5"/><circle cx="434.8" cy="90.4" r="2.4" fill="#c6c5c0" opacity="0.5"/><circle cx="544.9" cy="118.9" r="1.5" fill="#b7b6b1" opacity="0.5"/><circle cx="568.7" cy="93.8" r="1.3" fill="#b7b6b1" opacity="0.5"/><circle cx="462.2" cy="126.8" r="1.1" fill="#dddcd7" opacity="0.5"/><circle cx="483.2" cy="74.9" r="1.7" fill="#b7b6b1" opacity="0.5"/><circle cx="539.5" cy="150.5" r="1.7" fill="#b7b6b1" opacity="0.5"/><circle cx="483.6" cy="71.8" r="2.0" fill="#c6c5c0" opacity="0.5"/><circle cx="558.6" cy="59.4" r="1.7" fill="#b7b6b1" opacity="0.5"/><circle cx="471.6" cy="94.4" r="1.0" fill="#e4e3de" opacity="0.5"/><circle cx="562.1" cy="65.3" r="1.2" fill="#b7b6b1" opacity="0.5"/><circle cx="479.4" cy="135.5" r="2.5" fill="#c6c5c0" opacity="0.5"/><circle cx="568.6" cy="81.1" r="2.4" fill="#dddcd7" opacity="0.5"/><circle cx="503.6" cy="88.1" r="2.3" fill="#e4e3de" opacity="0.5"/><circle cx="552.3" cy="91.2" r="2.5" fill="#c6c5c0" opacity="0.5"/><circle cx="541.5" cy="121.5" r="1.2" fill="#b7b6b1" opacity="0.5"/><circle cx="480.7" cy="133.4" r="1.7" fill="#b7b6b1" opacity="0.5"/><circle cx="513.3" cy="119.6" r="1.0" fill="#b7b6b1" opacity="0.5"/><circle cx="556.7" cy="121.3" r="2.3" fill="#e4e3de" opacity="0.5"/><circle cx="455.6" cy="117.3" r="1.6" fill="#c6c5c0" opacity="0.5"/><circle cx="524.2" cy="69.7" r="1.9" fill="#b7b6b1" opacity="0.5"/><circle cx="448.8" cy="85.1" r="1.7" fill="#c6c5c0" opacity="0.5"/><circle cx="500.6" cy="165.4" r="1.3" fill="#dddcd7" opacity="0.5"/><circle cx="506.0" cy="143.4" r="2.3" fill="#dddcd7" opacity="0.5"/><circle cx="474.5" cy="125.5" r="2.0" fill="#c6c5c0" opacity="0.5"/><circle cx="440.7" cy="65.9" r="1.3" fill="#b7b6b1" opacity="0.5"/><circle cx="498.2" cy="135.1" r="2.2" fill="#c6c5c0" opacity="0.5"/><circle cx="497.5" cy="106.4" r="1.9" fill="#dddcd7" opacity="0.5"/><circle cx="553.4" cy="124.8" r="1.7" fill="#dddcd7" opacity="0.5"/><circle cx="549.3" cy="108.7" r="1.6" fill="#dddcd7" opacity="0.5"/><circle cx="447.2" cy="150.9" r="2.6" fill="#e4e3de" opacity="0.5"/><circle cx="437.6" cy="123.6" r="1.5" fill="#dddcd7" opacity="0.5"/><circle cx="505.5" cy="46.0" r="1.9" fill="#c6c5c0" opacity="0.5"/><circle cx="512.5" cy="85.5" r="1.1" fill="#b7b6b1" opacity="0.5"/><circle cx="568.0" cy="108.1" r="2.5" fill="#e4e3de" opacity="0.5"/><circle cx="515.3" cy="120.2" r="2.5" fill="#e4e3de" opacity="0.5"/><circle cx="534.8" cy="73.5" r="1.2" fill="#dddcd7" opacity="0.5"/><circle cx="476.6" cy="18.5" r="1.4" fill="#dddcd7" opacity="0.5"/><circle cx="482.0" cy="56.3" r="1.6" fill="#e4e3de" opacity="0.5"/><circle cx="482.5" cy="18.3" r="2.5" fill="#dddcd7" opacity="0.5"/><circle cx="523.6" cy="107.1" r="2.1" fill="#c6c5c0" opacity="0.5"/><circle cx="525.0" cy="123.4" r="1.4" fill="#b7b6b1" opacity="0.5"/><circle cx="423.6" cy="82.8" r="2.2" fill="#e4e3de" opacity="0.5"/><circle cx="418.6" cy="79.8" r="2.0" fill="#b7b6b1" opacity="0.5"/><circle cx="567.9" cy="100.3" r="1.3" fill="#dddcd7" opacity="0.5"/><circle cx="464.9" cy="144.0" r="1.8" fill="#c6c5c0" opacity="0.5"/><circle cx="540.6" cy="55.0" r="2.0" fill="#c6c5c0" opacity="0.5"/><circle cx="523.6" cy="48.7" r="1.2" fill="#dddcd7" opacity="0.5"/><circle cx="430.4" cy="104.9" r="2.2" fill="#e4e3de" opacity="0.5"/><circle cx="479.0" cy="102.9" r="1.1" fill="#dddcd7" opacity="0.5"/><circle cx="435.9" cy="133.7" r="1.0" fill="#b7b6b1" opacity="0.5"/><circle cx="425.5" cy="127.6" r="1.7" fill="#b7b6b1" opacity="0.5"/><circle cx="497.4" cy="101.3" r="2.6" fill="#c6c5c0" opacity="0.5"/><circle cx="456.2" cy="154.0" r="2.1" fill="#c6c5c0" opacity="0.5"/><circle cx="493.1" cy="159.7" r="1.6" fill="#dddcd7" opacity="0.5"/><circle cx="537.7" cy="52.9" r="1.7" fill="#e4e3de" opacity="0.5"/><circle cx="459.6" cy="72.0" r="1.4" fill="#e4e3de" opacity="0.5"/><circle cx="559.7" cy="64.2" r="1.7" fill="#dddcd7" opacity="0.5"/><circle cx="424.1" cy="64.4" r="2.5" fill="#dddcd7" opacity="0.5"/><circle cx="470.8" cy="146.0" r="1.3" fill="#e4e3de" opacity="0.5"/><circle cx="532.7" cy="79.0" r="2.0" fill="#b7b6b1" opacity="0.5"/><circle cx="547.4" cy="93.6" r="1.8" fill="#b7b6b1" opacity="0.5"/><circle cx="542.8" cy="66.3" r="2.1" fill="#e4e3de" opacity="0.5"/><circle cx="467.7" cy="50.4" r="1.9" fill="#e4e3de" opacity="0.5"/><circle cx="457.6" cy="53.4" r="1.5" fill="#b7b6b1" opacity="0.5"/><circle cx="481.0" cy="77.6" r="2.6" fill="#dddcd7" opacity="0.5"/><circle cx="483.6" cy="143.5" r="1.4" fill="#b7b6b1" opacity="0.5"/><circle cx="550.0" cy="111.1" r="2.3" fill="#e4e3de" opacity="0.5"/><circle cx="491.2" cy="166.6" r="1.7" fill="#b7b6b1" opacity="0.5"/><circle cx="422.1" cy="66.7" r="2.4" fill="#e4e3de" opacity="0.5"/><circle cx="518.8" cy="128.2" r="2.5" fill="#c6c5c0" opacity="0.5"/><circle cx="454.2" cy="40.9" r="2.3" fill="#e4e3de" opacity="0.5"/><circle cx="567.4" cy="82.5" r="2.3" fill="#dddcd7" opacity="0.5"/><circle cx="476.7" cy="24.3" r="1.2" fill="#dddcd7" opacity="0.5"/><circle cx="428.2" cy="102.5" r="2.5" fill="#b7b6b1" opacity="0.5"/><circle cx="548.6" cy="100.5" r="1.8" fill="#c6c5c0" opacity="0.5"/><circle cx="453.8" cy="42.1" r="2.5" fill="#e4e3de" opacity="0.5"/><circle cx="481.2" cy="76.9" r="1.2" fill="#dddcd7" opacity="0.5"/><circle cx="565.8" cy="84.4" r="1.4" fill="#c6c5c0" opacity="0.5"/><circle cx="440.6" cy="48.6" r="2.6" fill="#c6c5c0" opacity="0.5"/><circle cx="473.6" cy="73.2" r="1.7" fill="#b7b6b1" opacity="0.5"/><circle cx="452.4" cy="119.4" r="1.9" fill="#b7b6b1" opacity="0.5"/><circle cx="551.9" cy="70.8" r="1.4" fill="#e4e3de" opacity="0.5"/><circle cx="489.7" cy="77.5" r="1.8" fill="#dddcd7" opacity="0.5"/><circle cx="530.6" cy="87.6" r="2.1" fill="#b7b6b1" opacity="0.5"/><circle cx="449.8" cy="88.1" r="2.1" fill="#c6c5c0" opacity="0.5"/><circle cx="533.1" cy="99.3" r="1.5" fill="#b7b6b1" opacity="0.5"/><circle cx="560.2" cy="59.6" r="1.9" fill="#c6c5c0" opacity="0.5"/><circle cx="455.9" cy="71.7" r="2.2" fill="#e4e3de" opacity="0.5"/><circle cx="472.8" cy="128.2" r="1.1" fill="#e4e3de" opacity="0.5"/><circle cx="547.2" cy="129.9" r="1.8" fill="#b7b6b1" opacity="0.5"/><circle cx="492.1" cy="53.5" r="2.5" fill="#dddcd7" opacity="0.5"/><circle cx="459.6" cy="131.2" r="1.1" fill="#e4e3de" opacity="0.5"/><circle cx="537.4" cy="107.5" r="1.3" fill="#e4e3de" opacity="0.5"/><circle cx="554.2" cy="59.2" r="1.2" fill="#b7b6b1" opacity="0.5"/><circle cx="434.5" cy="118.9" r="1.9" fill="#c6c5c0" opacity="0.5"/><circle cx="485.8" cy="96.7" r="1.3" fill="#b7b6b1" opacity="0.5"/><circle cx="495.3" cy="74.0" r="1.3" fill="#dddcd7" opacity="0.5"/><circle cx="561.3" cy="79.1" r="1.4" fill="#c6c5c0" opacity="0.5"/><circle cx="498.1" cy="77.3" r="1.7" fill="#b7b6b1" opacity="0.5"/><circle cx="470.2" cy="103.0" r="1.3" fill="#e4e3de" opacity="0.5"/><circle cx="492.2" cy="166.7" r="1.0" fill="#b7b6b1" opacity="0.5"/><circle cx="433.7" cy="105.9" r="2.6" fill="#dddcd7" opacity="0.5"/><circle cx="424.3" cy="93.3" r="1.6" fill="#dddcd7" opacity="0.5"/><circle cx="455.4" cy="40.5" r="1.1" fill="#e4e3de" opacity="0.5"/><circle cx="486.5" cy="65.4" r="1.9" fill="#b7b6b1" opacity="0.5"/><circle cx="453.9" cy="120.2" r="2.2" fill="#e4e3de" opacity="0.5"/><circle cx="467.3" cy="68.3" r="2.4" fill="#dddcd7" opacity="0.5"/><circle cx="433.8" cy="97.5" r="2.5" fill="#c6c5c0" opacity="0.5"/><circle cx="464.2" cy="58.0" r="1.4" fill="#b7b6b1" opacity="0.5"/><circle cx="530.4" cy="50.9" r="2.2" fill="#e4e3de" opacity="0.5"/><circle cx="516.7" cy="67.6" r="2.3" fill="#b7b6b1" opacity="0.5"/><circle cx="479.8" cy="42.1" r="2.1" fill="#c6c5c0" opacity="0.5"/><circle cx="507.8" cy="141.9" r="2.0" fill="#dddcd7" opacity="0.5"/><circle cx="456.9" cy="115.3" r="1.7" fill="#b7b6b1" opacity="0.5"/><circle cx="421.3" cy="104.6" r="2.1" fill="#e4e3de" opacity="0.5"/><circle cx="469.1" cy="42.7" r="2.4" fill="#e4e3de" opacity="0.5"/><circle cx="526.5" cy="109.4" r="2.2" fill="#dddcd7" opacity="0.5"/><circle cx="553.4" cy="72.9" r="1.7" fill="#e4e3de" opacity="0.5"/><circle cx="472.3" cy="62.0" r="1.9" fill="#b7b6b1" opacity="0.5"/><circle cx="538.6" cy="86.8" r="1.0" fill="#e4e3de" opacity="0.5"/><circle cx="434.4" cy="126.8" r="1.1" fill="#c6c5c0" opacity="0.5"/><circle cx="440.6" cy="142.2" r="2.6" fill="#c6c5c0" opacity="0.5"/><circle cx="517.9" cy="162.9" r="1.8" fill="#b7b6b1" opacity="0.5"/><circle cx="527.7" cy="104.0" r="1.1" fill="#e4e3de" opacity="0.5"/><circle cx="558.6" cy="83.3" r="2.2" fill="#c6c5c0" opacity="0.5"/><circle cx="459.0" cy="73.9" r="1.9" fill="#e4e3de" opacity="0.5"/><circle cx="522.1" cy="90.2" r="2.3" fill="#c6c5c0" opacity="0.5"/><circle cx="482.0" cy="91.9" r="1.8" fill="#c6c5c0" opacity="0.5"/><circle cx="461.5" cy="93.5" r="2.1" fill="#e4e3de" opacity="0.5"/><circle cx="476.4" cy="160.4" r="2.1" fill="#e4e3de" opacity="0.5"/><circle cx="507.4" cy="102.4" r="1.8" fill="#e4e3de" opacity="0.5"/><circle cx="552.2" cy="89.2" r="1.6" fill="#c6c5c0" opacity="0.5"/><circle cx="494.6" cy="71.1" r="1.9" fill="#c6c5c0" opacity="0.5"/><circle cx="516.5" cy="133.4" r="1.6" fill="#dddcd7" opacity="0.5"/><circle cx="486.5" cy="138.7" r="1.9" fill="#b7b6b1" opacity="0.5"/><circle cx="453.7" cy="122.2" r="2.0" fill="#c6c5c0" opacity="0.5"/><circle cx="524.2" cy="39.9" r="1.3" fill="#dddcd7" opacity="0.5"/><circle cx="510.3" cy="107.9" r="2.2" fill="#b7b6b1" opacity="0.5"/><circle cx="488.5" cy="146.8" r="2.1" fill="#b7b6b1" opacity="0.5"/><circle cx="481.9" cy="135.9" r="2.1" fill="#c6c5c0" opacity="0.5"/><circle cx="455.4" cy="154.9" r="2.4" fill="#dddcd7" opacity="0.5"/><circle cx="489.5" cy="80.1" r="2.0" fill="#c6c5c0" opacity="0.5"/><circle cx="530.1" cy="89.5" r="2.0" fill="#dddcd7" opacity="0.5"/><circle cx="466.9" cy="149.4" r="2.3" fill="#c6c5c0" opacity="0.5"/><circle cx="518.2" cy="71.1" r="2.5" fill="#dddcd7" opacity="0.5"/><circle cx="479.1" cy="63.5" r="2.0" fill="#c6c5c0" opacity="0.5"/><circle cx="453.8" cy="148.3" r="2.4" fill="#c6c5c0" opacity="0.5"/><circle cx="500.3" cy="139.1" r="1.8" fill="#dddcd7" opacity="0.5"/><circle cx="458.3" cy="29.7" r="2.2" fill="#b7b6b1" opacity="0.5"/><circle cx="461.3" cy="24.0" r="1.2" fill="#b7b6b1" opacity="0.5"/><circle cx="538.0" cy="105.2" r="2.0" fill="#e4e3de" opacity="0.5"/><circle cx="506.1" cy="77.6" r="1.7" fill="#b7b6b1" opacity="0.5"/><circle cx="544.8" cy="59.4" r="1.1" fill="#c6c5c0" opacity="0.5"/><circle cx="530.3" cy="145.1" r="1.7" fill="#b7b6b1" opacity="0.5"/><circle cx="479.2" cy="149.2" r="1.4" fill="#c6c5c0" opacity="0.5"/><circle cx="568.4" cy="94.1" r="1.4" fill="#c6c5c0" opacity="0.5"/><circle cx="536.6" cy="96.9" r="1.4" fill="#dddcd7" opacity="0.5"/><circle cx="547.8" cy="139.3" r="2.1" fill="#e4e3de" opacity="0.5"/><circle cx="514.6" cy="146.0" r="2.1" fill="#e4e3de" opacity="0.5"/><circle cx="443.3" cy="92.4" r="1.6" fill="#e4e3de" opacity="0.5"/><circle cx="488.3" cy="144.2" r="1.5" fill="#dddcd7" opacity="0.5"/><circle cx="479.4" cy="139.3" r="2.0" fill="#b7b6b1" opacity="0.5"/><circle cx="485.8" cy="125.8" r="2.1" fill="#e4e3de" opacity="0.5"/><circle cx="491.6" cy="39.9" r="1.8" fill="#e4e3de" opacity="0.5"/><circle cx="502.1" cy="151.3" r="1.1" fill="#dddcd7" opacity="0.5"/><circle cx="494.9" cy="169.3" r="1.8" fill="#e4e3de" opacity="0.5"/><circle cx="466.8" cy="159.9" r="2.6" fill="#c6c5c0" opacity="0.5"/><circle cx="562.5" cy="128.0" r="2.4" fill="#b7b6b1" opacity="0.5"/><circle cx="513.2" cy="29.6" r="1.7" fill="#b7b6b1" opacity="0.5"/><circle cx="567.1" cy="87.7" r="1.9" fill="#b7b6b1" opacity="0.5"/><circle cx="518.1" cy="139.6" r="2.1" fill="#dddcd7" opacity="0.5"/><circle cx="504.2" cy="143.5" r="2.6" fill="#c6c5c0" opacity="0.5"/><circle cx="547.3" cy="63.6" r="1.4" fill="#b7b6b1" opacity="0.5"/><circle cx="473.4" cy="62.4" r="1.4" fill="#b7b6b1" opacity="0.5"/><circle cx="481.1" cy="122.9" r="2.6" fill="#b7b6b1" opacity="0.5"/><circle cx="507.0" cy="123.5" r="2.2" fill="#dddcd7" opacity="0.5"/><circle cx="506.9" cy="97.6" r="2.3" fill="#dddcd7" opacity="0.5"/><circle cx="448.8" cy="42.3" r="2.0" fill="#e4e3de" opacity="0.5"/><circle cx="563.0" cy="85.7" r="1.5" fill="#dddcd7" opacity="0.5"/><circle cx="498.2" cy="96.7" r="2.4" fill="#b7b6b1" opacity="0.5"/><circle cx="469.0" cy="161.4" r="1.6" fill="#c6c5c0" opacity="0.5"/><circle cx="463.3" cy="52.2" r="1.4" fill="#b7b6b1" opacity="0.5"/><circle cx="479.9" cy="166.0" r="1.1" fill="#b7b6b1" opacity="0.5"/><circle cx="508.2" cy="127.5" r="2.5" fill="#c6c5c0" opacity="0.5"/><circle cx="479.7" cy="69.2" r="2.5" fill="#e4e3de" opacity="0.5"/><circle cx="490.6" cy="98.4" r="1.8" fill="#e4e3de" opacity="0.5"/><circle cx="451.0" cy="130.3" r="1.2" fill="#b7b6b1" opacity="0.5"/><circle cx="454.7" cy="139.5" r="1.6" fill="#c6c5c0" opacity="0.5"/><circle cx="552.0" cy="70.5" r="1.3" fill="#dddcd7" opacity="0.5"/><circle cx="556.5" cy="97.0" r="1.7" fill="#dddcd7" opacity="0.5"/><circle cx="477.3" cy="94.1" r="1.2" fill="#b7b6b1" opacity="0.5"/><circle cx="465.8" cy="117.2" r="2.0" fill="#e4e3de" opacity="0.5"/><circle cx="491.6" cy="24.5" r="1.6" fill="#b7b6b1" opacity="0.5"/><circle cx="530.8" cy="109.3" r="2.4" fill="#b7b6b1" opacity="0.5"/><circle cx="496.7" cy="155.2" r="1.1" fill="#dddcd7" opacity="0.5"/><circle cx="562.1" cy="113.2" r="1.9" fill="#b7b6b1" opacity="0.5"/><circle cx="497.6" cy="125.3" r="1.2" fill="#e4e3de" opacity="0.5"/><circle cx="512.5" cy="151.9" r="1.1" fill="#dddcd7" opacity="0.5"/><circle cx="525.5" cy="31.0" r="1.2" fill="#e4e3de" opacity="0.5"/><circle cx="442.8" cy="69.4" r="1.0" fill="#e4e3de" opacity="0.5"/><circle cx="466.0" cy="165.0" r="1.3" fill="#b7b6b1" opacity="0.5"/><circle cx="489.5" cy="99.0" r="1.5" fill="#e4e3de" opacity="0.5"/><circle cx="479.2" cy="154.5" r="1.6" fill="#dddcd7" opacity="0.5"/><circle cx="481.0" cy="46.6" r="2.5" fill="#b7b6b1" opacity="0.5"/><circle cx="533.6" cy="103.1" r="1.4" fill="#c6c5c0" opacity="0.5"/><circle cx="518.0" cy="92.0" r="2.0" fill="#dddcd7" opacity="0.5"/><circle cx="523.6" cy="58.3" r="1.2" fill="#c6c5c0" opacity="0.5"/><circle cx="560.0" cy="84.0" r="1.9" fill="#c6c5c0" opacity="0.5"/><circle cx="467.1" cy="39.4" r="2.6" fill="#c6c5c0" opacity="0.5"/><circle cx="527.0" cy="39.0" r="1.4" fill="#dddcd7" opacity="0.5"/><circle cx="470.0" cy="93.0" r="1.7" fill="#b7b6b1" opacity="0.5"/><circle cx="462.1" cy="75.6" r="1.3" fill="#e4e3de" opacity="0.5"/><circle cx="425.1" cy="115.9" r="1.4" fill="#b7b6b1" opacity="0.5"/><circle cx="450.3" cy="141.1" r="1.9" fill="#dddcd7" opacity="0.5"/><circle cx="489.5" cy="140.4" r="2.2" fill="#c6c5c0" opacity="0.5"/><circle cx="541.9" cy="135.3" r="2.0" fill="#c6c5c0" opacity="0.5"/><circle cx="438.9" cy="103.2" r="1.1" fill="#b7b6b1" opacity="0.5"/><circle cx="485.4" cy="55.7" r="1.3" fill="#e4e3de" opacity="0.5"/><circle cx="441.1" cy="104.9" r="1.4" fill="#e4e3de" opacity="0.5"/><circle cx="457.9" cy="78.0" r="1.9" fill="#e4e3de" opacity="0.5"/><circle cx="438.6" cy="41.9" r="1.2" fill="#dddcd7" opacity="0.5"/><circle cx="440.9" cy="54.9" r="1.7" fill="#e4e3de" opacity="0.5"/><circle cx="520.5" cy="153.4" r="2.5" fill="#c6c5c0" opacity="0.5"/><circle cx="516.2" cy="101.3" r="1.2" fill="#b7b6b1" opacity="0.5"/><circle cx="475.8" cy="57.2" r="1.9" fill="#c6c5c0" opacity="0.5"/><circle cx="522.8" cy="55.1" r="1.1" fill="#b7b6b1" opacity="0.5"/><circle cx="461.3" cy="49.3" r="1.0" fill="#b7b6b1" opacity="0.5"/><circle cx="503.8" cy="109.3" r="1.2" fill="#c6c5c0" opacity="0.5"/><circle cx="437.0" cy="49.7" r="2.5" fill="#c6c5c0" opacity="0.5"/><circle cx="449.6" cy="137.6" r="2.4" fill="#c6c5c0" opacity="0.5"/><circle cx="437.3" cy="72.7" r="2.1" fill="#b7b6b1" opacity="0.5"/><circle cx="534.7" cy="85.9" r="2.0" fill="#c6c5c0" opacity="0.5"/><circle cx="485.5" cy="94.1" r="2.4" fill="#e4e3de" opacity="0.5"/><circle cx="419.5" cy="100.9" r="1.8" fill="#dddcd7" opacity="0.5"/><circle cx="519.8" cy="102.7" r="2.1" fill="#c6c5c0" opacity="0.5"/><circle cx="562.7" cy="88.4" r="1.1" fill="#c6c5c0" opacity="0.5"/><circle cx="454.1" cy="60.7" r="1.6" fill="#c6c5c0" opacity="0.5"/><circle cx="541.0" cy="66.5" r="2.1" fill="#e4e3de" opacity="0.5"/><circle cx="507.0" cy="75.0" r="1.1" fill="#b7b6b1" opacity="0.5"/><circle cx="475.6" cy="105.5" r="1.7" fill="#dddcd7" opacity="0.5"/><circle cx="471.2" cy="82.3" r="2.2" fill="#dddcd7" opacity="0.5"/><circle cx="453.6" cy="107.0" r="1.6" fill="#c6c5c0" opacity="0.5"/><circle cx="550.0" cy="57.5" r="2.4" fill="#b7b6b1" opacity="0.5"/><circle cx="465.2" cy="95.5" r="1.2" fill="#dddcd7" opacity="0.5"/><circle cx="541.3" cy="45.9" r="1.3" fill="#dddcd7" opacity="0.5"/><circle cx="436.2" cy="112.7" r="1.5" fill="#b7b6b1" opacity="0.5"/><circle cx="555.9" cy="112.2" r="2.2" fill="#e4e3de" opacity="0.5"/><circle cx="505.0" cy="102.0" r="1.8" fill="#c6c5c0" opacity="0.5"/><circle cx="549.7" cy="51.9" r="2.3" fill="#dddcd7" opacity="0.5"/><circle cx="521.4" cy="75.1" r="1.5" fill="#e4e3de" opacity="0.5"/><circle cx="524.3" cy="74.7" r="1.7" fill="#b7b6b1" opacity="0.5"/><circle cx="522.4" cy="136.6" r="1.5" fill="#dddcd7" opacity="0.5"/><circle cx="481.3" cy="19.4" r="2.3" fill="#b7b6b1" opacity="0.5"/><circle cx="498.5" cy="164.0" r="1.4" fill="#c6c5c0" opacity="0.5"/><circle cx="451.8" cy="78.4" r="2.0" fill="#dddcd7" opacity="0.5"/><circle cx="490.4" cy="130.8" r="2.4" fill="#e4e3de" opacity="0.5"/><circle cx="527.5" cy="78.3" r="1.2" fill="#b7b6b1" opacity="0.5"/><circle cx="519.9" cy="110.7" r="1.8" fill="#e4e3de" opacity="0.5"/><circle cx="464.4" cy="55.4" r="1.1" fill="#c6c5c0" opacity="0.5"/><circle cx="493.4" cy="92.5" r="3.5" fill="#f2f1ec" opacity="0.8"/></g></g><circle cx="493.4" cy="92.5" r="78.8" fill="none" stroke="#9d9c98" stroke-width="3.4"/><circle cx="493.4" cy="92.5" r="76.2" fill="none" stroke="#dcdbd6" stroke-width="1.6" opacity="0.8"/>
<text x="16.4" y="255.3" font-family="Liberation Sans, sans-serif" font-size="22" font-weight="normal" font-style="normal" fill="#111" textLength="352.2" lengthAdjust="spacingAndGlyphs" stroke="#111" stroke-width="0.5"><tspan font-style="italic">Colquhounia coccinea</tspan> var. <tspan font-style="italic">mollis</tspan></text>
<text x="373" y="201.5" font-family="Liberation Sans, sans-serif" font-size="28" font-weight="normal" font-style="normal" fill="#111" textLength="249.7" lengthAdjust="spacingAndGlyphs" stroke="#111" stroke-width="0.6"><tspan font-style="italic">Trichoderma</tspan> fungi</text>
<text x="638.6" y="38.8" font-family="Liberation Sans, sans-serif" font-size="28" font-weight="bold" font-style="normal" fill="#0A6FC2" textLength="503.8" lengthAdjust="spacingAndGlyphs" >Activity-guided protein fractionation</text>
<polygon points="593.6,25.599999999999998 595.8000000000001,24.599999999999998 598.4000000000001,29.599999999999998 612.0,14.399999999999999 612.8000000000001,15.199999999999996 599.1,33.4 597.3000000000001,33.4" fill="#0A6FC2" stroke="#0A6FC2" stroke-width="0.6" stroke-linejoin="round"/>
<text x="639.1" y="74.6" font-family="Liberation Sans, sans-serif" font-size="28" font-weight="bold" font-style="normal" fill="#0A6FC2" textLength="392.5" lengthAdjust="spacingAndGlyphs" >Comparative transcriptomics</text>
<polygon points="593.6,62.099999999999994 595.8000000000001,61.099999999999994 598.4000000000001,66.1 612.0,50.9 612.8000000000001,51.699999999999996 599.1,69.89999999999999 597.3000000000001,69.89999999999999" fill="#0A6FC2" stroke="#0A6FC2" stroke-width="0.6" stroke-linejoin="round"/>
<text x="639.5" y="111.2" font-family="Liberation Sans, sans-serif" font-size="28" font-weight="bold" font-style="normal" fill="#0A6FC2" textLength="465" lengthAdjust="spacingAndGlyphs" ><tspan font-style="italic" font-weight="normal" stroke="#1570bf" stroke-width="0.7">In vivo</tspan> and <tspan font-style="italic" font-weight="normal" stroke="#1570bf" stroke-width="0.7">in vitro</tspan> enzyme assays</text>
<polygon points="593.6,98.2 595.8000000000001,97.2 598.4000000000001,102.2 612.0,87.0 612.8000000000001,87.80000000000001 599.1,106.0 597.3000000000001,106.0" fill="#0A6FC2" stroke="#0A6FC2" stroke-width="0.6" stroke-linejoin="round"/>
<rect x="590" y="116.8" width="514.5" height="3" fill="#111"/>
<path d="M375,269.5 L375,258 Q375,249.3 386,249.3 L482,249.3 Q489,249.3 491,238 L491.5,231 L492,238 Q494,249.3 501,249.3 L594,249.3 Q604,249.3 604,258 L604,269.5" stroke="#111" stroke-width="2.6" fill="none"/>
<polygon points="263.8,334.0 298.6,327.2 326.0,349.6 284.8,370.6 263.8,399.9 249.2,368.8" fill="url(#gY)" stroke="none" stroke-width="2.7" stroke-linejoin="round" /><polygon points="284.8,370.6 326.0,349.6 327.0,388.0 298.6,409.0 263.8,399.9" fill="url(#gP)" stroke="none" stroke-width="2.7" stroke-linejoin="round" /><polygon points="326.0,349.6 354.4,326.5 390.5,334.0 404.0,366.9 390.5,401.3 354.4,406.9 327.0,388.0" fill="url(#gG)" stroke="none" stroke-width="2.7" stroke-linejoin="round" /><polygon points="354.4,406.9 390.5,401.3 396.9,436.6 361.6,444.6" fill="url(#gS)" stroke="none" stroke-width="2.7" stroke-linejoin="round" /><line x1="263.8" y1="334.0" x2="298.6" y2="327.2" stroke="#000" stroke-width="2.7" stroke-linecap="round" /><line x1="298.6" y1="327.2" x2="326.0" y2="349.6" stroke="#000" stroke-width="2.7" stroke-linecap="round" /><line x1="263.8" y1="399.9" x2="249.2" y2="368.8" stroke="#000" stroke-width="2.7" stroke-linecap="round" /><line x1="249.2" y1="368.8" x2="263.8" y2="334.0" stroke="#000" stroke-width="2.7" stroke-linecap="round" /><line x1="326.0" y1="349.6" x2="327.0" y2="388.0" stroke="#000" stroke-width="2.7" stroke-linecap="round" /><line x1="327.0" y1="388.0" x2="298.6" y2="409.0" stroke="#000" stroke-width="2.7" stroke-linecap="round" /><line x1="298.6" y1="409.0" x2="263.8" y2="399.9" stroke="#000" stroke-width="2.7" stroke-linecap="round" /><line x1="326.0" y1="349.6" x2="354.4" y2="326.5" stroke="#000" stroke-width="2.7" stroke-linecap="round" /><line x1="354.4" y1="326.5" x2="390.5" y2="334.0" stroke="#000" stroke-width="2.7" stroke-linecap="round" /><line x1="390.5" y1="334.0" x2="404.0" y2="366.9" stroke="#000" stroke-width="2.7" stroke-linecap="round" /><line x1="404.0" y1="366.9" x2="390.5" y2="401.3" stroke="#000" stroke-width="2.7" stroke-linecap="round" /><line x1="390.5" y1="401.3" x2="354.4" y2="406.9" stroke="#000" stroke-width="2.7" stroke-linecap="round" /><line x1="354.4" y1="406.9" x2="327.0" y2="388.0" stroke="#000" stroke-width="2.7" stroke-linecap="round" /><line x1="354.4" y1="406.9" x2="361.6" y2="444.6" stroke="#000" stroke-width="2.7" stroke-linecap="round" /><line x1="361.6" y1="444.6" x2="396.9" y2="436.6" stroke="#000" stroke-width="2.7" stroke-linecap="round" /><line x1="396.9" y1="436.6" x2="390.5" y2="401.3" stroke="#000" stroke-width="2.7" stroke-linecap="round" /><line x1="263.8" y1="399.9" x2="284.8" y2="370.6" stroke="#000" stroke-width="3.6" stroke-linecap="round" /><line x1="284.8" y1="370.6" x2="326.0" y2="349.6" stroke="#000" stroke-width="3.6" stroke-linecap="round" /><line x1="284.8" y1="370.6" x2="266.5" y2="359.6" stroke="#000" stroke-width="2.7" stroke-linecap="round" /><line x1="284.8" y1="370.6" x2="293.0" y2="396.2" stroke="#000" stroke-width="2.7" stroke-linecap="round" /><polygon points="299.2,327.3 307.3,291.7 300.9,290.7 298.0,327.1" fill="#000" stroke="#000" stroke-width="0.8" stroke-linejoin="round" /><polygon points="404.3,367.4 436.8,353.7 433.8,347.9 403.7,366.4" fill="#000" stroke="#000" stroke-width="0.8" stroke-linejoin="round" /><polygon points="326.4,388.1 327.0,409.4 332.4,408.6 327.6,387.9" fill="#000" stroke="#000" stroke-width="0.8" stroke-linejoin="round" /><line x1="406.5" y1="369.1" x2="407.3" y2="366.6" stroke="#000" stroke-width="2.6" stroke-linecap="round" stroke-linecap="butt"/><line x1="412.0" y1="371.5" x2="413.2" y2="368.0" stroke="#000" stroke-width="2.6" stroke-linecap="round" stroke-linecap="butt"/><line x1="417.6" y1="373.9" x2="419.1" y2="369.4" stroke="#000" stroke-width="2.6" stroke-linecap="round" stroke-linecap="butt"/><line x1="423.2" y1="376.4" x2="425.1" y2="370.7" stroke="#000" stroke-width="2.6" stroke-linecap="round" stroke-linecap="butt"/><line x1="393.2" y1="403.0" x2="393.6" y2="400.4" stroke="#000" stroke-width="2.6" stroke-linecap="round" stroke-linecap="butt"/><line x1="398.9" y1="404.4" x2="399.4" y2="400.7" stroke="#000" stroke-width="2.6" stroke-linecap="round" stroke-linecap="butt"/><line x1="404.6" y1="405.7" x2="405.3" y2="401.0" stroke="#000" stroke-width="2.6" stroke-linecap="round" stroke-linecap="butt"/><line x1="410.3" y1="407.1" x2="411.1" y2="401.2" stroke="#000" stroke-width="2.6" stroke-linecap="round" stroke-linecap="butt"/><line x1="356.9" y1="404.3" x2="354.3" y2="403.3" stroke="#000" stroke-width="2.6" stroke-linecap="round" stroke-linecap="butt"/><line x1="360.1" y1="398.3" x2="355.9" y2="396.8" stroke="#000" stroke-width="2.6" stroke-linecap="round" stroke-linecap="butt"/><line x1="363.2" y1="392.4" x2="357.6" y2="390.2" stroke="#000" stroke-width="2.6" stroke-linecap="round" stroke-linecap="butt"/><line x1="366.3" y1="386.4" x2="359.3" y2="383.7" stroke="#000" stroke-width="2.6" stroke-linecap="round" stroke-linecap="butt"/><line x1="369.5" y1="380.5" x2="360.9" y2="377.2" stroke="#000" stroke-width="2.6" stroke-linecap="round" stroke-linecap="butt"/><text x="322.8" y="432" font-family="Liberation Sans, sans-serif" font-size="24.5" font-weight="normal" font-style="normal" fill="#000" >H</text><text x="429.7" y="386.2" font-family="Liberation Sans, sans-serif" font-size="24.5" font-weight="normal" font-style="normal" fill="#000" textLength="34.3" lengthAdjust="spacingAndGlyphs" >OH</text><text x="416.8" y="414.2" font-family="Liberation Sans, sans-serif" font-size="24.5" font-weight="normal" font-style="normal" fill="#000" >H</text><text x="287.6" y="468" font-family="Liberation Sans, sans-serif" font-size="23.6" font-weight="bold" font-style="normal" fill="#000" textLength="121.6" lengthAdjust="spacingAndGlyphs" >harzianol I</text>
<rect x="476" y="360.5" width="21" height="4" fill="#111"/><rect x="484.5" y="352" width="4" height="21" fill="#111"/>
<polygon points="575.3,346.9 604.2,332.0 634.2,346.9 634.2,381.7 604.2,401.0 575.3,382.9" fill="url(#gO)" stroke="none" stroke-width="2.7" stroke-linejoin="round" /><polygon points="604.2,332.0 611.4,294.0 646.2,291.1 658.2,321.7 634.2,346.9" fill="url(#gP2)" stroke="none" stroke-width="2.7" stroke-linejoin="round" /><polygon points="634.2,346.9 658.2,321.7 691.9,321.7 714.7,348.1 669.0,355.3 634.2,381.7" fill="url(#gY2)" stroke="none" stroke-width="2.7" stroke-linejoin="round" /><polygon points="634.2,381.7 669.0,355.3 714.7,348.1 715.9,384.1 691.9,408.2 658.2,408.2" fill="url(#gC)" stroke="none" stroke-width="2.7" stroke-linejoin="round" /><line x1="575.3" y1="346.9" x2="604.2" y2="332.0" stroke="#000" stroke-width="2.7" stroke-linecap="round" /><line x1="604.2" y1="332.0" x2="634.2" y2="346.9" stroke="#000" stroke-width="2.7" stroke-linecap="round" /><line x1="634.2" y1="346.9" x2="634.2" y2="381.7" stroke="#000" stroke-width="2.7" stroke-linecap="round" /><line x1="634.2" y1="381.7" x2="604.2" y2="401.0" stroke="#000" stroke-width="2.7" stroke-linecap="round" /><line x1="604.2" y1="401.0" x2="575.3" y2="382.9" stroke="#000" stroke-width="2.7" stroke-linecap="round" /><line x1="575.3" y1="382.9" x2="575.3" y2="346.9" stroke="#000" stroke-width="2.7" stroke-linecap="round" /><line x1="604.2" y1="332.0" x2="611.4" y2="294.0" stroke="#000" stroke-width="2.7" stroke-linecap="round" /><line x1="611.4" y1="294.0" x2="646.2" y2="291.1" stroke="#000" stroke-width="2.7" stroke-linecap="round" /><line x1="646.2" y1="291.1" x2="658.2" y2="321.7" stroke="#000" stroke-width="2.7" stroke-linecap="round" /><line x1="658.2" y1="321.7" x2="634.2" y2="346.9" stroke="#000" stroke-width="2.7" stroke-linecap="round" /><line x1="658.2" y1="321.7" x2="691.9" y2="321.7" stroke="#000" stroke-width="2.7" stroke-linecap="round" /><line x1="691.9" y1="321.7" x2="714.7" y2="348.1" stroke="#000" stroke-width="2.7" stroke-linecap="round" /><line x1="714.7" y1="348.1" x2="715.9" y2="384.1" stroke="#000" stroke-width="2.7" stroke-linecap="round" /><line x1="715.9" y1="384.1" x2="691.9" y2="408.2" stroke="#000" stroke-width="2.7" stroke-linecap="round" /><line x1="691.9" y1="408.2" x2="658.2" y2="408.2" stroke="#000" stroke-width="2.7" stroke-linecap="round" /><line x1="658.2" y1="408.2" x2="634.2" y2="381.7" stroke="#000" stroke-width="2.7" stroke-linecap="round" /><line x1="669.0" y1="355.3" x2="714.7" y2="348.1" stroke="#000" stroke-width="2.7" stroke-linecap="round" /><line x1="669.0" y1="355.3" x2="634.2" y2="381.7" stroke="#000" stroke-width="3.6" stroke-linecap="round" /><line x1="669.0" y1="355.3" x2="669.0" y2="327.7" stroke="#000" stroke-width="2.7" stroke-linecap="round" /><line x1="669.0" y1="355.3" x2="699.1" y2="373.3" stroke="#000" stroke-width="2.7" stroke-linecap="round" /><polygon points="657.6,408.0 642.9,439.4 649.5,441.8 658.8,408.4" fill="#000" stroke="#000" stroke-width="0.8" stroke-linejoin="round" /><polygon points="575.7,346.5 553.5,321.6 549.1,326.4 574.9,347.3" fill="#000" stroke="#000" stroke-width="0.8" stroke-linejoin="round" /><polygon points="634.8,346.8 632.5,328.8 627.1,330.2 633.6,347.0" fill="#000" stroke="#000" stroke-width="0.8" stroke-linejoin="round" /><line x1="660.8" y1="320.0" x2="658.6" y2="318.6" stroke="#000" stroke-width="2.3" stroke-linecap="round" stroke-linecap="butt"/><line x1="664.3" y1="315.5" x2="661.1" y2="313.5" stroke="#000" stroke-width="2.3" stroke-linecap="round" stroke-linecap="butt"/><line x1="667.8" y1="311.0" x2="663.7" y2="308.4" stroke="#000" stroke-width="2.3" stroke-linecap="round" stroke-linecap="butt"/><line x1="671.3" y1="306.5" x2="666.2" y2="303.2" stroke="#000" stroke-width="2.3" stroke-linecap="round" stroke-linecap="butt"/><line x1="674.8" y1="301.9" x2="668.7" y2="298.1" stroke="#000" stroke-width="2.3" stroke-linecap="round" stroke-linecap="butt"/><line x1="678.4" y1="297.4" x2="671.2" y2="293.0" stroke="#000" stroke-width="2.3" stroke-linecap="round" stroke-linecap="butt"/><line x1="572.0" y1="346.9" x2="573.0" y2="349.3" stroke="#000" stroke-width="2.6" stroke-linecap="round" stroke-linecap="butt"/><line x1="566.2" y1="348.8" x2="567.7" y2="352.2" stroke="#000" stroke-width="2.6" stroke-linecap="round" stroke-linecap="butt"/><line x1="560.4" y1="350.7" x2="562.3" y2="355.1" stroke="#000" stroke-width="2.6" stroke-linecap="round" stroke-linecap="butt"/><line x1="554.6" y1="352.6" x2="557.0" y2="358.0" stroke="#000" stroke-width="2.6" stroke-linecap="round" stroke-linecap="butt"/><line x1="602.9" y1="328.7" x2="600.9" y2="330.5" stroke="#000" stroke-width="2.6" stroke-linecap="round" stroke-linecap="butt"/><line x1="598.8" y1="323.4" x2="595.9" y2="326.1" stroke="#000" stroke-width="2.6" stroke-linecap="round" stroke-linecap="butt"/><line x1="594.7" y1="318.1" x2="590.8" y2="321.7" stroke="#000" stroke-width="2.6" stroke-linecap="round" stroke-linecap="butt"/><text x="517.7" y="366.2" font-family="Liberation Sans, sans-serif" font-size="24.5" font-weight="normal" font-style="normal" fill="#000" textLength="33.6" lengthAdjust="spacingAndGlyphs" >HO</text><text x="572.8" y="314.5" font-family="Liberation Sans, sans-serif" font-size="24.5" font-weight="normal" font-style="normal" fill="#000" >H</text><text x="617.2" y="323" font-family="Liberation Sans, sans-serif" font-size="24.5" font-weight="normal" font-style="normal" fill="#000" >H</text><text x="558.2" y="469" font-family="Liberation Sans, sans-serif" font-size="23.6" font-weight="bold" font-style="normal" fill="#000" textLength="116.8" lengthAdjust="spacingAndGlyphs" >wickerol A</text>
<rect x="764.9" y="319.9" width="190.2" height="58.5" fill="#fdf0d4"/>
<text x="789.8" y="365.4" font-family="Liberation Sans, sans-serif" font-size="38.6" font-weight="bold" font-style="normal" fill="#c00000" textLength="139.6" lengthAdjust="spacingAndGlyphs" >TriDTCs</text>
<rect x="733" y="383.3" width="260" height="3.2" fill="#111"/>
<polygon points="722,384.9 735,377.5 735,392.3" fill="#111"/>
<line x1="1000.4" y1="292.8" x2="1016.1" y2="320.5" stroke="#e040e0" stroke-width="2.4" stroke-linecap="round" /><line x1="1016.1" y1="320.5" x2="1047.3" y2="320.5" stroke="#e040e0" stroke-width="2.4" stroke-linecap="round" /><line x1="1047.3" y1="320.5" x2="1062.9" y2="292.8" stroke="#e040e0" stroke-width="2.4" stroke-linecap="round" /><line x1="1062.9" y1="292.8" x2="1094.2" y2="292.8" stroke="#e040e0" stroke-width="2.4" stroke-linecap="round" /><line x1="1094.2" y1="292.8" x2="1114.6" y2="315.7" stroke="#e040e0" stroke-width="2.4" stroke-linecap="round" /><line x1="1114.6" y1="315.7" x2="1145.9" y2="315.7" stroke="#e040e0" stroke-width="2.4" stroke-linecap="round" /><line x1="1114.6" y1="315.7" x2="1100.2" y2="344.5" stroke="#e040e0" stroke-width="2.4" stroke-linecap="round" /><line x1="1145.9" y1="315.7" x2="1162.7" y2="344.5" stroke="#e040e0" stroke-width="2.4" stroke-linecap="round" /><line x1="1162.7" y1="344.5" x2="1154.3" y2="374.6" stroke="#e040e0" stroke-width="2.4" stroke-linecap="round" /><line x1="1154.3" y1="374.6" x2="1124.2" y2="383.0" stroke="#e040e0" stroke-width="2.4" stroke-linecap="round" /><line x1="1124.2" y1="383.0" x2="1124.2" y2="415.4" stroke="#e040e0" stroke-width="2.4" stroke-linecap="round" /><line x1="1124.2" y1="383.0" x2="1094.2" y2="375.8" stroke="#e040e0" stroke-width="2.4" stroke-linecap="round" /><line x1="1094.2" y1="375.8" x2="1072.6" y2="397.4" stroke="#e040e0" stroke-width="2.4" stroke-linecap="round" /><line x1="1072.6" y1="397.4" x2="1077.4" y2="417.8" stroke="#e040e0" stroke-width="2.4" stroke-linecap="round" /><line x1="1016.1" y1="320.5" x2="1000.4" y2="349.3" stroke="#e040e0" stroke-width="2.4" stroke-linecap="round" /><line x1="1000.4" y1="349.3" x2="1016.1" y2="375.8" stroke="#e040e0" stroke-width="2.4" stroke-linecap="round" /><line x1="1016.1" y1="375.8" x2="1047.3" y2="375.8" stroke="#e040e0" stroke-width="2.4" stroke-linecap="round" /><line x1="1047.3" y1="375.8" x2="1062.9" y2="346.9" stroke="#e040e0" stroke-width="2.4" stroke-linecap="round" /><line x1="1062.9" y1="346.9" x2="1062.9" y2="316.9" stroke="#e040e0" stroke-width="2.4" stroke-linecap="round" /><line x1="1062.9" y1="346.9" x2="1090.6" y2="332.5" stroke="#e040e0" stroke-width="2.4" stroke-linecap="round" /><line x1="1019.7" y1="313.3" x2="1044.5" y2="313.3" stroke="#e040e0" stroke-width="2.4" stroke-linecap="round" /><line x1="1119.0" y1="322.9" x2="1143.0" y2="322.9" stroke="#e040e0" stroke-width="2.4" stroke-linecap="round" /><line x1="1043.7" y1="368.5" x2="1058.5" y2="341.5" stroke="#e040e0" stroke-width="2.4" stroke-linecap="round" /><line x1="1098.5" y1="383.2" x2="1121.0" y2="389.0" stroke="#e040e0" stroke-width="2.4" stroke-linecap="round" /><text x="1071.6" y="437.6" font-family="Liberation Sans, sans-serif" font-size="21" font-weight="normal" font-style="normal" fill="#e040e0" textLength="47.4" lengthAdjust="spacingAndGlyphs" >OPP</text><text x="1049.6" y="469.7" font-family="Liberation Sans, sans-serif" font-size="21.5" font-weight="bold" font-style="normal" fill="#111" textLength="64" lengthAdjust="spacingAndGlyphs" >GGPP</text>
<g><path d="M920.0,210.0 Q913.7,212.4 905.0,210.0 Q903.5,206.9 896.0,195.0 Q894.4,190.7 888.0,178.0 Q885.3,169.7 892.0,162.0 Q900.4,157.5 900.0,150.0 Q908.0,141.1 908.0,140.0 Q911.7,136.0 916.0,137.0 Q917.4,144.2 918.0,150.0 Q909.1,154.7 910.0,165.0 Q905.3,176.7 905.0,180.0 Q906.2,184.6 902.0,196.0" stroke="#8cad3c" stroke-width="1.5" fill="none"/><path d="M879.0,172.0 Q886.5,172.4 888.0,180.0 Q891.7,184.3 893.0,196.0 Q892.5,207.7 902.0,212.0 Q903.1,212.2 910.0,218.0" stroke="#8cad3c" stroke-width="1.5" fill="none"/><path d="M945.0,262.0 Q954.8,271.7 955.0,274.0 Q957.9,281.1 965.0,279.0 Q971.9,279.3 978.0,276.0 Q981.0,277.4 990.0,270.0 Q996.9,277.7 1000.0,276.0 Q1009.9,275.5 1012.0,279.0" stroke="#8cad3c" stroke-width="1.5" fill="none"/><path d="M1000.0,270.0 Q1006.1,263.7 1015.0,264.0 Q1019.0,260.7 1030.0,266.0 Q1035.5,264.0 1045.0,260.0 Q1047.5,257.8 1060.0,252.0 Q1062.4,244.1 1068.0,240.0 Q1070.2,232.3 1066.0,225.0 Q1066.7,217.3 1071.0,210.0" stroke="#8cad3c" stroke-width="1.5" fill="none"/><path d="M960.0,140.0 Q966.0,130.6 968.0,130.0 Q977.8,124.2 978.0,128.0 Q986.5,135.4 990.0,136.0 Q990.2,135.9 1000.0,130.0 Q1004.7,128.8 1012.0,126.0 Q1015.1,123.5 1028.0,130.0 Q1031.8,136.1 1042.0,133.0 Q1045.0,140.6 1054.0,143.0 Q1057.3,155.9 1052.0,160.0" stroke="#8cad3c" stroke-width="1.5" fill="none"/><path d="M925.0,228.0 Q925.9,235.0 930.0,245.0 Q935.2,251.3 940.0,252.0 Q941.1,251.5 950.0,246.0" stroke="#8cad3c" stroke-width="1.5" fill="none"/><path d="M1045.0,200.0 Q1054.5,206.6 1058.0,206.0 Q1056.4,217.5 1064.0,220.0 Q1055.9,226.4 1056.0,236.0 Q1052.6,245.2 1047.0,246.0" stroke="#8cad3c" stroke-width="1.5" fill="none"/><path d="M985.0,252.0 Q988.4,262.2 995.0,264.0 Q1000.5,260.1 1005.0,260.0 Q1010.7,250.8 1020.0,248.0" stroke="#8cad3c" stroke-width="1.5" fill="none"/><path d="M950.0,150.0 Q949.8,151.5 958.0,160.0 Q963.4,160.0 965.0,150.0 Q966.6,149.5 975.0,158.0" stroke="#8cad3c" stroke-width="1.5" fill="none"/><path d="M1060.0,200.0 Q1069.9,207.8 1070.0,215.0 Q1065.1,219.9 1062.0,230.0" stroke="#8cad3c" stroke-width="1.5" fill="none"/><g filter="url(#blur1)" opacity="0.9"><ellipse cx="945" cy="200" rx="14" ry="38" transform="rotate(-15 945 200)" fill="#5f8f14"/><ellipse cx="967" cy="200" rx="10" ry="32" transform="rotate(-20 967 200)" fill="#5f8f14"/><ellipse cx="1010" cy="200" rx="24" ry="48" transform="rotate(-15 1010 200)" fill="#5f8f14"/><ellipse cx="1033" cy="185" rx="14" ry="40" transform="rotate(-20 1033 185)" fill="#5f8f14"/><ellipse cx="987" cy="215" rx="8" ry="24" transform="rotate(-20 987 215)" fill="#5f8f14"/></g><path d="M927.8,143.5 Q926.0,150.0 932.2,152.5" stroke="#3a6006" stroke-width="3.8" fill="none" stroke-linecap="round"/><path d="M927.8,143.5 Q926.0,150.0 932.2,152.5" stroke="#5e8f10" stroke-width="2.4" fill="none" stroke-linecap="round"/><path d="M935.8,139.5 Q934.0,146.0 940.2,148.5" stroke="#3a6006" stroke-width="3.8" fill="none" stroke-linecap="round"/><path d="M935.8,139.5 Q934.0,146.0 940.2,148.5" stroke="#5e8f10" stroke-width="2.4" fill="none" stroke-linecap="round"/><path d="M928.2,154.5 Q934.0,146.0 923.8,145.5" stroke="#416a06" stroke-width="4.6" fill="none" stroke-linecap="round"/><path d="M928.2,154.5 Q934.0,146.0 923.8,145.5" stroke="#7ab41a" stroke-width="3.0" fill="none" stroke-linecap="round"/><path d="M928.2,154.5 Q934.0,146.0 923.8,145.5" stroke="#a8d64a" stroke-width="1.0" fill="none" stroke-linecap="round" transform="translate(-0.5,0.3)"/><path d="M936.2,150.5 Q942.0,142.0 931.8,141.5" stroke="#416a06" stroke-width="4.6" fill="none" stroke-linecap="round"/><path d="M936.2,150.5 Q942.0,142.0 931.8,141.5" stroke="#7ab41a" stroke-width="3.0" fill="none" stroke-linecap="round"/><path d="M936.2,150.5 Q942.0,142.0 931.8,141.5" stroke="#a8d64a" stroke-width="1.0" fill="none" stroke-linecap="round" transform="translate(-0.5,0.3)"/><path d="M944.2,146.5 Q950.0,138.0 939.8,137.5" stroke="#416a06" stroke-width="4.6" fill="none" stroke-linecap="round"/><path d="M944.2,146.5 Q950.0,138.0 939.8,137.5" stroke="#7ab41a" stroke-width="3.0" fill="none" stroke-linecap="round"/><path d="M944.2,146.5 Q950.0,138.0 939.8,137.5" stroke="#a8d64a" stroke-width="1.0" fill="none" stroke-linecap="round" transform="translate(-0.5,0.3)"/><path d="M937.6,165.7 Q932.0,160.0 924.8,163.5" stroke="#3a6006" stroke-width="6.0" fill="none" stroke-linecap="round"/><path d="M937.6,165.7 Q932.0,160.0 924.8,163.5" stroke="#5e8f10" stroke-width="4.6" fill="none" stroke-linecap="round"/><path d="M936.0,174.9 Q930.4,169.2 923.2,172.7" stroke="#3a6006" stroke-width="6.0" fill="none" stroke-linecap="round"/><path d="M936.0,174.9 Q930.4,169.2 923.2,172.7" stroke="#5e8f10" stroke-width="4.6" fill="none" stroke-linecap="round"/><path d="M934.4,184.1 Q928.8,178.4 921.6,181.9" stroke="#3a6006" stroke-width="6.0" fill="none" stroke-linecap="round"/><path d="M934.4,184.1 Q928.8,178.4 921.6,181.9" stroke="#5e8f10" stroke-width="4.6" fill="none" stroke-linecap="round"/><path d="M932.8,193.3 Q927.2,187.6 920.0,191.1" stroke="#3a6006" stroke-width="6.0" fill="none" stroke-linecap="round"/><path d="M932.8,193.3 Q927.2,187.6 920.0,191.1" stroke="#5e8f10" stroke-width="4.6" fill="none" stroke-linecap="round"/><path d="M931.2,202.5 Q925.6,196.8 918.4,200.3" stroke="#3a6006" stroke-width="6.0" fill="none" stroke-linecap="round"/><path d="M931.2,202.5 Q925.6,196.8 918.4,200.3" stroke="#5e8f10" stroke-width="4.6" fill="none" stroke-linecap="round"/><path d="M925.6,158.9 Q930.4,169.2 938.4,161.1" stroke="#416a06" stroke-width="7.4" fill="none" stroke-linecap="round"/><path d="M925.6,158.9 Q930.4,169.2 938.4,161.1" stroke="#7ab41a" stroke-width="5.8" fill="none" stroke-linecap="round"/><path d="M925.6,158.9 Q930.4,169.2 938.4,161.1" stroke="#a8d64a" stroke-width="2.0" fill="none" stroke-linecap="round" transform="translate(0.2,-1.1)"/><path d="M924.0,168.1 Q928.8,178.4 936.8,170.3" stroke="#416a06" stroke-width="7.4" fill="none" stroke-linecap="round"/><path d="M924.0,168.1 Q928.8,178.4 936.8,170.3" stroke="#7ab41a" stroke-width="5.8" fill="none" stroke-linecap="round"/><path d="M924.0,168.1 Q928.8,178.4 936.8,170.3" stroke="#a8d64a" stroke-width="2.0" fill="none" stroke-linecap="round" transform="translate(0.2,-1.1)"/><path d="M922.4,177.3 Q927.2,187.6 935.2,179.5" stroke="#416a06" stroke-width="7.4" fill="none" stroke-linecap="round"/><path d="M922.4,177.3 Q927.2,187.6 935.2,179.5" stroke="#7ab41a" stroke-width="5.8" fill="none" stroke-linecap="round"/><path d="M922.4,177.3 Q927.2,187.6 935.2,179.5" stroke="#a8d64a" stroke-width="2.0" fill="none" stroke-linecap="round" transform="translate(0.2,-1.1)"/><path d="M920.8,186.5 Q925.6,196.8 933.6,188.7" stroke="#416a06" stroke-width="7.4" fill="none" stroke-linecap="round"/><path d="M920.8,186.5 Q925.6,196.8 933.6,188.7" stroke="#7ab41a" stroke-width="5.8" fill="none" stroke-linecap="round"/><path d="M920.8,186.5 Q925.6,196.8 933.6,188.7" stroke="#a8d64a" stroke-width="2.0" fill="none" stroke-linecap="round" transform="translate(0.2,-1.1)"/><path d="M919.2,195.7 Q924.0,206.0 932.0,197.9" stroke="#416a06" stroke-width="7.4" fill="none" stroke-linecap="round"/><path d="M919.2,195.7 Q924.0,206.0 932.0,197.9" stroke="#7ab41a" stroke-width="5.8" fill="none" stroke-linecap="round"/><path d="M919.2,195.7 Q924.0,206.0 932.0,197.9" stroke="#a8d64a" stroke-width="2.0" fill="none" stroke-linecap="round" transform="translate(0.2,-1.1)"/><path d="M917.6,204.9 Q922.4,215.2 930.4,207.1" stroke="#416a06" stroke-width="7.4" fill="none" stroke-linecap="round"/><path d="M917.6,204.9 Q922.4,215.2 930.4,207.1" stroke="#7ab41a" stroke-width="5.8" fill="none" stroke-linecap="round"/><path d="M917.6,204.9 Q922.4,215.2 930.4,207.1" stroke="#a8d64a" stroke-width="2.0" fill="none" stroke-linecap="round" transform="translate(0.2,-1.1)"/><path d="M949.9,174.5 Q941.0,172.0 934.5,178.6" stroke="#3a6006" stroke-width="6.1" fill="none" stroke-linecap="round"/><path d="M949.9,174.5 Q941.0,172.0 934.5,178.6" stroke="#5e8f10" stroke-width="4.7" fill="none" stroke-linecap="round"/><path d="M952.4,183.7 Q943.4,181.1 936.9,187.8" stroke="#3a6006" stroke-width="6.1" fill="none" stroke-linecap="round"/><path d="M952.4,183.7 Q943.4,181.1 936.9,187.8" stroke="#5e8f10" stroke-width="4.7" fill="none" stroke-linecap="round"/><path d="M954.8,192.8 Q945.9,190.3 939.3,196.9" stroke="#3a6006" stroke-width="6.1" fill="none" stroke-linecap="round"/><path d="M954.8,192.8 Q945.9,190.3 939.3,196.9" stroke="#5e8f10" stroke-width="4.7" fill="none" stroke-linecap="round"/><path d="M957.2,201.9 Q948.3,199.4 941.8,206.1" stroke="#3a6006" stroke-width="6.1" fill="none" stroke-linecap="round"/><path d="M957.2,201.9 Q948.3,199.4 941.8,206.1" stroke="#5e8f10" stroke-width="4.7" fill="none" stroke-linecap="round"/><path d="M959.7,211.1 Q950.7,208.6 944.2,215.2" stroke="#3a6006" stroke-width="6.1" fill="none" stroke-linecap="round"/><path d="M959.7,211.1 Q950.7,208.6 944.2,215.2" stroke="#5e8f10" stroke-width="4.7" fill="none" stroke-linecap="round"/><path d="M962.1,220.2 Q953.1,217.7 946.6,224.3" stroke="#3a6006" stroke-width="6.1" fill="none" stroke-linecap="round"/><path d="M962.1,220.2 Q953.1,217.7 946.6,224.3" stroke="#5e8f10" stroke-width="4.7" fill="none" stroke-linecap="round"/><path d="M964.5,229.4 Q955.6,226.9 949.1,233.5" stroke="#3a6006" stroke-width="6.1" fill="none" stroke-linecap="round"/><path d="M964.5,229.4 Q955.6,226.9 949.1,233.5" stroke="#5e8f10" stroke-width="4.7" fill="none" stroke-linecap="round"/><path d="M933.3,174.1 Q943.4,181.1 948.7,169.9" stroke="#416a06" stroke-width="7.5" fill="none" stroke-linecap="round"/><path d="M933.3,174.1 Q943.4,181.1 948.7,169.9" stroke="#7ab41a" stroke-width="5.9" fill="none" stroke-linecap="round"/><path d="M933.3,174.1 Q943.4,181.1 948.7,169.9" stroke="#a8d64a" stroke-width="2.1" fill="none" stroke-linecap="round" transform="translate(-0.3,-1.1)"/><path d="M935.7,183.2 Q945.9,190.3 951.2,179.1" stroke="#416a06" stroke-width="7.5" fill="none" stroke-linecap="round"/><path d="M935.7,183.2 Q945.9,190.3 951.2,179.1" stroke="#7ab41a" stroke-width="5.9" fill="none" stroke-linecap="round"/><path d="M935.7,183.2 Q945.9,190.3 951.2,179.1" stroke="#a8d64a" stroke-width="2.1" fill="none" stroke-linecap="round" transform="translate(-0.3,-1.1)"/><path d="M938.1,192.3 Q948.3,199.4 953.6,188.2" stroke="#416a06" stroke-width="7.5" fill="none" stroke-linecap="round"/><path d="M938.1,192.3 Q948.3,199.4 953.6,188.2" stroke="#7ab41a" stroke-width="5.9" fill="none" stroke-linecap="round"/><path d="M938.1,192.3 Q948.3,199.4 953.6,188.2" stroke="#a8d64a" stroke-width="2.1" fill="none" stroke-linecap="round" transform="translate(-0.3,-1.1)"/><path d="M940.6,201.5 Q950.7,208.6 956.0,197.4" stroke="#416a06" stroke-width="7.5" fill="none" stroke-linecap="round"/><path d="M940.6,201.5 Q950.7,208.6 956.0,197.4" stroke="#7ab41a" stroke-width="5.9" fill="none" stroke-linecap="round"/><path d="M940.6,201.5 Q950.7,208.6 956.0,197.4" stroke="#a8d64a" stroke-width="2.1" fill="none" stroke-linecap="round" transform="translate(-0.3,-1.1)"/><path d="M943.0,210.6 Q953.1,217.7 958.4,206.5" stroke="#416a06" stroke-width="7.5" fill="none" stroke-linecap="round"/><path d="M943.0,210.6 Q953.1,217.7 958.4,206.5" stroke="#7ab41a" stroke-width="5.9" fill="none" stroke-linecap="round"/><path d="M943.0,210.6 Q953.1,217.7 958.4,206.5" stroke="#a8d64a" stroke-width="2.1" fill="none" stroke-linecap="round" transform="translate(-0.3,-1.1)"/><path d="M945.4,219.8 Q955.6,226.9 960.9,215.7" stroke="#416a06" stroke-width="7.5" fill="none" stroke-linecap="round"/><path d="M945.4,219.8 Q955.6,226.9 960.9,215.7" stroke="#7ab41a" stroke-width="5.9" fill="none" stroke-linecap="round"/><path d="M945.4,219.8 Q955.6,226.9 960.9,215.7" stroke="#a8d64a" stroke-width="2.1" fill="none" stroke-linecap="round" transform="translate(-0.3,-1.1)"/><path d="M947.8,228.9 Q958.0,236.0 963.3,224.8" stroke="#416a06" stroke-width="7.5" fill="none" stroke-linecap="round"/><path d="M947.8,228.9 Q958.0,236.0 963.3,224.8" stroke="#7ab41a" stroke-width="5.9" fill="none" stroke-linecap="round"/><path d="M947.8,228.9 Q958.0,236.0 963.3,224.8" stroke="#a8d64a" stroke-width="2.1" fill="none" stroke-linecap="round" transform="translate(-0.3,-1.1)"/><path d="M950.3,238.1 Q960.4,245.1 965.7,233.9" stroke="#416a06" stroke-width="7.5" fill="none" stroke-linecap="round"/><path d="M950.3,238.1 Q960.4,245.1 965.7,233.9" stroke="#7ab41a" stroke-width="5.9" fill="none" stroke-linecap="round"/><path d="M950.3,238.1 Q960.4,245.1 965.7,233.9" stroke="#a8d64a" stroke-width="2.1" fill="none" stroke-linecap="round" transform="translate(-0.3,-1.1)"/><path d="M962.6,174.8 Q955.0,172.0 951.4,179.2" stroke="#3a6006" stroke-width="6.7" fill="none" stroke-linecap="round"/><path d="M962.6,174.8 Q955.0,172.0 951.4,179.2" stroke="#5e8f10" stroke-width="5.3" fill="none" stroke-linecap="round"/><path d="M966.6,184.8 Q959.0,182.0 955.4,189.2" stroke="#3a6006" stroke-width="6.7" fill="none" stroke-linecap="round"/><path d="M966.6,184.8 Q959.0,182.0 955.4,189.2" stroke="#5e8f10" stroke-width="5.3" fill="none" stroke-linecap="round"/><path d="M970.6,194.8 Q963.0,192.0 959.4,199.2" stroke="#3a6006" stroke-width="6.7" fill="none" stroke-linecap="round"/><path d="M970.6,194.8 Q963.0,192.0 959.4,199.2" stroke="#5e8f10" stroke-width="5.3" fill="none" stroke-linecap="round"/><path d="M974.6,204.8 Q967.0,202.0 963.4,209.2" stroke="#3a6006" stroke-width="6.7" fill="none" stroke-linecap="round"/><path d="M974.6,204.8 Q967.0,202.0 963.4,209.2" stroke="#5e8f10" stroke-width="5.3" fill="none" stroke-linecap="round"/><path d="M978.6,214.8 Q971.0,212.0 967.4,219.2" stroke="#3a6006" stroke-width="6.7" fill="none" stroke-linecap="round"/><path d="M978.6,214.8 Q971.0,212.0 967.4,219.2" stroke="#5e8f10" stroke-width="5.3" fill="none" stroke-linecap="round"/><path d="M949.4,174.2 Q959.0,182.0 960.6,169.8" stroke="#416a06" stroke-width="8.3" fill="none" stroke-linecap="round"/><path d="M949.4,174.2 Q959.0,182.0 960.6,169.8" stroke="#7ab41a" stroke-width="6.7" fill="none" stroke-linecap="round"/><path d="M949.4,174.2 Q959.0,182.0 960.6,169.8" stroke="#a8d64a" stroke-width="2.3" fill="none" stroke-linecap="round" transform="translate(-0.5,-1.2)"/><path d="M953.4,184.2 Q963.0,192.0 964.6,179.8" stroke="#416a06" stroke-width="8.3" fill="none" stroke-linecap="round"/><path d="M953.4,184.2 Q963.0,192.0 964.6,179.8" stroke="#7ab41a" stroke-width="6.7" fill="none" stroke-linecap="round"/><path d="M953.4,184.2 Q963.0,192.0 964.6,179.8" stroke="#a8d64a" stroke-width="2.3" fill="none" stroke-linecap="round" transform="translate(-0.5,-1.2)"/><path d="M957.4,194.2 Q967.0,202.0 968.6,189.8" stroke="#416a06" stroke-width="8.3" fill="none" stroke-linecap="round"/><path d="M957.4,194.2 Q967.0,202.0 968.6,189.8" stroke="#7ab41a" stroke-width="6.7" fill="none" stroke-linecap="round"/><path d="M957.4,194.2 Q967.0,202.0 968.6,189.8" stroke="#a8d64a" stroke-width="2.3" fill="none" stroke-linecap="round" transform="translate(-0.5,-1.2)"/><path d="M961.4,204.2 Q971.0,212.0 972.6,199.8" stroke="#416a06" stroke-width="8.3" fill="none" stroke-linecap="round"/><path d="M961.4,204.2 Q971.0,212.0 972.6,199.8" stroke="#7ab41a" stroke-width="6.7" fill="none" stroke-linecap="round"/><path d="M961.4,204.2 Q971.0,212.0 972.6,199.8" stroke="#a8d64a" stroke-width="2.3" fill="none" stroke-linecap="round" transform="translate(-0.5,-1.2)"/><path d="M965.4,214.2 Q975.0,222.0 976.6,209.8" stroke="#416a06" stroke-width="8.3" fill="none" stroke-linecap="round"/><path d="M965.4,214.2 Q975.0,222.0 976.6,209.8" stroke="#7ab41a" stroke-width="6.7" fill="none" stroke-linecap="round"/><path d="M965.4,214.2 Q975.0,222.0 976.6,209.8" stroke="#a8d64a" stroke-width="2.3" fill="none" stroke-linecap="round" transform="translate(-0.5,-1.2)"/><path d="M969.4,224.2 Q979.0,232.0 980.6,219.8" stroke="#416a06" stroke-width="8.3" fill="none" stroke-linecap="round"/><path d="M969.4,224.2 Q979.0,232.0 980.6,219.8" stroke="#7ab41a" stroke-width="6.7" fill="none" stroke-linecap="round"/><path d="M969.4,224.2 Q979.0,232.0 980.6,219.8" stroke="#a8d64a" stroke-width="2.3" fill="none" stroke-linecap="round" transform="translate(-0.5,-1.2)"/><path d="M989.5,138.9 Q982.0,142.0 983.0,150.1" stroke="#3a6006" stroke-width="6.3" fill="none" stroke-linecap="round"/><path d="M989.5,138.9 Q982.0,142.0 983.0,150.1" stroke="#5e8f10" stroke-width="4.9" fill="none" stroke-linecap="round"/><path d="M998.0,143.9 Q990.5,147.0 991.5,155.1" stroke="#3a6006" stroke-width="6.3" fill="none" stroke-linecap="round"/><path d="M998.0,143.9 Q990.5,147.0 991.5,155.1" stroke="#5e8f10" stroke-width="4.9" fill="none" stroke-linecap="round"/><path d="M978.7,147.6 Q990.5,147.0 985.3,136.4" stroke="#416a06" stroke-width="7.7" fill="none" stroke-linecap="round"/><path d="M978.7,147.6 Q990.5,147.0 985.3,136.4" stroke="#7ab41a" stroke-width="6.1" fill="none" stroke-linecap="round"/><path d="M978.7,147.6 Q990.5,147.0 985.3,136.4" stroke="#a8d64a" stroke-width="2.1" fill="none" stroke-linecap="round" transform="translate(-1.1,-0.6)"/><path d="M987.2,152.6 Q999.0,152.0 993.8,141.4" stroke="#416a06" stroke-width="7.7" fill="none" stroke-linecap="round"/><path d="M987.2,152.6 Q999.0,152.0 993.8,141.4" stroke="#7ab41a" stroke-width="6.1" fill="none" stroke-linecap="round"/><path d="M987.2,152.6 Q999.0,152.0 993.8,141.4" stroke="#a8d64a" stroke-width="2.1" fill="none" stroke-linecap="round" transform="translate(-1.1,-0.6)"/><path d="M995.7,157.6 Q1007.5,157.0 1002.3,146.4" stroke="#416a06" stroke-width="7.7" fill="none" stroke-linecap="round"/><path d="M995.7,157.6 Q1007.5,157.0 1002.3,146.4" stroke="#7ab41a" stroke-width="6.1" fill="none" stroke-linecap="round"/><path d="M995.7,157.6 Q1007.5,157.0 1002.3,146.4" stroke="#a8d64a" stroke-width="2.1" fill="none" stroke-linecap="round" transform="translate(-1.1,-0.6)"/><path d="M988.5,167.5 Q980.0,164.0 973.8,170.8" stroke="#3a6006" stroke-width="6.6" fill="none" stroke-linecap="round"/><path d="M988.5,167.5 Q980.0,164.0 973.8,170.8" stroke="#5e8f10" stroke-width="5.2" fill="none" stroke-linecap="round"/><path d="M990.7,177.8 Q982.3,174.3 976.1,181.1" stroke="#3a6006" stroke-width="6.6" fill="none" stroke-linecap="round"/><path d="M990.7,177.8 Q982.3,174.3 976.1,181.1" stroke="#5e8f10" stroke-width="5.2" fill="none" stroke-linecap="round"/><path d="M993.0,188.1 Q984.6,184.6 978.4,191.3" stroke="#3a6006" stroke-width="6.6" fill="none" stroke-linecap="round"/><path d="M993.0,188.1 Q984.6,184.6 978.4,191.3" stroke="#5e8f10" stroke-width="5.2" fill="none" stroke-linecap="round"/><path d="M995.3,198.4 Q986.9,194.9 980.7,201.6" stroke="#3a6006" stroke-width="6.6" fill="none" stroke-linecap="round"/><path d="M995.3,198.4 Q986.9,194.9 980.7,201.6" stroke="#5e8f10" stroke-width="5.2" fill="none" stroke-linecap="round"/><path d="M997.6,208.7 Q989.1,205.1 983.0,211.9" stroke="#3a6006" stroke-width="6.6" fill="none" stroke-linecap="round"/><path d="M997.6,208.7 Q989.1,205.1 983.0,211.9" stroke="#5e8f10" stroke-width="5.2" fill="none" stroke-linecap="round"/><path d="M999.9,218.9 Q991.4,215.4 985.3,222.2" stroke="#3a6006" stroke-width="6.6" fill="none" stroke-linecap="round"/><path d="M999.9,218.9 Q991.4,215.4 985.3,222.2" stroke="#5e8f10" stroke-width="5.2" fill="none" stroke-linecap="round"/><path d="M1002.2,229.2 Q993.7,225.7 987.5,232.5" stroke="#3a6006" stroke-width="6.6" fill="none" stroke-linecap="round"/><path d="M1002.2,229.2 Q993.7,225.7 987.5,232.5" stroke="#5e8f10" stroke-width="5.2" fill="none" stroke-linecap="round"/><path d="M972.7,165.6 Q982.3,174.3 987.3,162.4" stroke="#416a06" stroke-width="8.1" fill="none" stroke-linecap="round"/><path d="M972.7,165.6 Q982.3,174.3 987.3,162.4" stroke="#7ab41a" stroke-width="6.5" fill="none" stroke-linecap="round"/><path d="M972.7,165.6 Q982.3,174.3 987.3,162.4" stroke="#a8d64a" stroke-width="2.3" fill="none" stroke-linecap="round" transform="translate(-0.3,-1.3)"/><path d="M975.0,175.9 Q984.6,184.6 989.6,172.7" stroke="#416a06" stroke-width="8.1" fill="none" stroke-linecap="round"/><path d="M975.0,175.9 Q984.6,184.6 989.6,172.7" stroke="#7ab41a" stroke-width="6.5" fill="none" stroke-linecap="round"/><path d="M975.0,175.9 Q984.6,184.6 989.6,172.7" stroke="#a8d64a" stroke-width="2.3" fill="none" stroke-linecap="round" transform="translate(-0.3,-1.3)"/><path d="M977.3,186.2 Q986.9,194.9 991.9,182.9" stroke="#416a06" stroke-width="8.1" fill="none" stroke-linecap="round"/><path d="M977.3,186.2 Q986.9,194.9 991.9,182.9" stroke="#7ab41a" stroke-width="6.5" fill="none" stroke-linecap="round"/><path d="M977.3,186.2 Q986.9,194.9 991.9,182.9" stroke="#a8d64a" stroke-width="2.3" fill="none" stroke-linecap="round" transform="translate(-0.3,-1.3)"/><path d="M979.5,196.5 Q989.1,205.1 994.2,193.2" stroke="#416a06" stroke-width="8.1" fill="none" stroke-linecap="round"/><path d="M979.5,196.5 Q989.1,205.1 994.2,193.2" stroke="#7ab41a" stroke-width="6.5" fill="none" stroke-linecap="round"/><path d="M979.5,196.5 Q989.1,205.1 994.2,193.2" stroke="#a8d64a" stroke-width="2.3" fill="none" stroke-linecap="round" transform="translate(-0.3,-1.3)"/><path d="M981.8,206.8 Q991.4,215.4 996.5,203.5" stroke="#416a06" stroke-width="8.1" fill="none" stroke-linecap="round"/><path d="M981.8,206.8 Q991.4,215.4 996.5,203.5" stroke="#7ab41a" stroke-width="6.5" fill="none" stroke-linecap="round"/><path d="M981.8,206.8 Q991.4,215.4 996.5,203.5" stroke="#a8d64a" stroke-width="2.3" fill="none" stroke-linecap="round" transform="translate(-0.3,-1.3)"/><path d="M984.1,217.1 Q993.7,225.7 998.7,213.8" stroke="#416a06" stroke-width="8.1" fill="none" stroke-linecap="round"/><path d="M984.1,217.1 Q993.7,225.7 998.7,213.8" stroke="#7ab41a" stroke-width="6.5" fill="none" stroke-linecap="round"/><path d="M984.1,217.1 Q993.7,225.7 998.7,213.8" stroke="#a8d64a" stroke-width="2.3" fill="none" stroke-linecap="round" transform="translate(-0.3,-1.3)"/><path d="M986.4,227.3 Q996.0,236.0 1001.0,224.1" stroke="#416a06" stroke-width="8.1" fill="none" stroke-linecap="round"/><path d="M986.4,227.3 Q996.0,236.0 1001.0,224.1" stroke="#7ab41a" stroke-width="6.5" fill="none" stroke-linecap="round"/><path d="M986.4,227.3 Q996.0,236.0 1001.0,224.1" stroke="#a8d64a" stroke-width="2.3" fill="none" stroke-linecap="round" transform="translate(-0.3,-1.3)"/><path d="M988.7,237.6 Q998.3,246.3 1003.3,234.4" stroke="#416a06" stroke-width="8.1" fill="none" stroke-linecap="round"/><path d="M988.7,237.6 Q998.3,246.3 1003.3,234.4" stroke="#7ab41a" stroke-width="6.5" fill="none" stroke-linecap="round"/><path d="M988.7,237.6 Q998.3,246.3 1003.3,234.4" stroke="#a8d64a" stroke-width="2.3" fill="none" stroke-linecap="round" transform="translate(-0.3,-1.3)"/><path d="M1009.6,163.3 Q1000.0,160.0 993.1,167.5" stroke="#3a6006" stroke-width="6.9" fill="none" stroke-linecap="round"/><path d="M1009.6,163.3 Q1000.0,160.0 993.1,167.5" stroke="#5e8f10" stroke-width="5.5" fill="none" stroke-linecap="round"/><path d="M1012.4,174.0 Q1002.8,170.8 995.9,178.2" stroke="#3a6006" stroke-width="6.9" fill="none" stroke-linecap="round"/><path d="M1012.4,174.0 Q1002.8,170.8 995.9,178.2" stroke="#5e8f10" stroke-width="5.5" fill="none" stroke-linecap="round"/><path d="M1015.1,184.8 Q1005.5,181.5 998.6,189.0" stroke="#3a6006" stroke-width="6.9" fill="none" stroke-linecap="round"/><path d="M1015.1,184.8 Q1005.5,181.5 998.6,189.0" stroke="#5e8f10" stroke-width="5.5" fill="none" stroke-linecap="round"/><path d="M1017.9,195.5 Q1008.2,192.2 1001.4,199.7" stroke="#3a6006" stroke-width="6.9" fill="none" stroke-linecap="round"/><path d="M1017.9,195.5 Q1008.2,192.2 1001.4,199.7" stroke="#5e8f10" stroke-width="5.5" fill="none" stroke-linecap="round"/><path d="M1020.6,206.3 Q1011.0,203.0 1004.1,210.5" stroke="#3a6006" stroke-width="6.9" fill="none" stroke-linecap="round"/><path d="M1020.6,206.3 Q1011.0,203.0 1004.1,210.5" stroke="#5e8f10" stroke-width="5.5" fill="none" stroke-linecap="round"/><path d="M1023.4,217.0 Q1013.8,213.8 1006.9,221.2" stroke="#3a6006" stroke-width="6.9" fill="none" stroke-linecap="round"/><path d="M1023.4,217.0 Q1013.8,213.8 1006.9,221.2" stroke="#5e8f10" stroke-width="5.5" fill="none" stroke-linecap="round"/><path d="M1026.1,227.8 Q1016.5,224.5 1009.6,232.0" stroke="#3a6006" stroke-width="6.9" fill="none" stroke-linecap="round"/><path d="M1026.1,227.8 Q1016.5,224.5 1009.6,232.0" stroke="#5e8f10" stroke-width="5.5" fill="none" stroke-linecap="round"/><path d="M1028.9,238.5 Q1019.2,235.2 1012.4,242.7" stroke="#3a6006" stroke-width="6.9" fill="none" stroke-linecap="round"/><path d="M1028.9,238.5 Q1019.2,235.2 1012.4,242.7" stroke="#5e8f10" stroke-width="5.5" fill="none" stroke-linecap="round"/><path d="M991.8,162.1 Q1002.8,170.8 1008.2,157.9" stroke="#416a06" stroke-width="8.5" fill="none" stroke-linecap="round"/><path d="M991.8,162.1 Q1002.8,170.8 1008.2,157.9" stroke="#7ab41a" stroke-width="6.9" fill="none" stroke-linecap="round"/><path d="M991.8,162.1 Q1002.8,170.8 1008.2,157.9" stroke="#a8d64a" stroke-width="2.4" fill="none" stroke-linecap="round" transform="translate(-0.3,-1.3)"/><path d="M994.5,172.9 Q1005.5,181.5 1011.0,168.6" stroke="#416a06" stroke-width="8.5" fill="none" stroke-linecap="round"/><path d="M994.5,172.9 Q1005.5,181.5 1011.0,168.6" stroke="#7ab41a" stroke-width="6.9" fill="none" stroke-linecap="round"/><path d="M994.5,172.9 Q1005.5,181.5 1011.0,168.6" stroke="#a8d64a" stroke-width="2.4" fill="none" stroke-linecap="round" transform="translate(-0.3,-1.3)"/><path d="M997.3,183.6 Q1008.2,192.2 1013.7,179.4" stroke="#416a06" stroke-width="8.5" fill="none" stroke-linecap="round"/><path d="M997.3,183.6 Q1008.2,192.2 1013.7,179.4" stroke="#7ab41a" stroke-width="6.9" fill="none" stroke-linecap="round"/><path d="M997.3,183.6 Q1008.2,192.2 1013.7,179.4" stroke="#a8d64a" stroke-width="2.4" fill="none" stroke-linecap="round" transform="translate(-0.3,-1.3)"/><path d="M1000.0,194.4 Q1011.0,203.0 1016.5,190.1" stroke="#416a06" stroke-width="8.5" fill="none" stroke-linecap="round"/><path d="M1000.0,194.4 Q1011.0,203.0 1016.5,190.1" stroke="#7ab41a" stroke-width="6.9" fill="none" stroke-linecap="round"/><path d="M1000.0,194.4 Q1011.0,203.0 1016.5,190.1" stroke="#a8d64a" stroke-width="2.4" fill="none" stroke-linecap="round" transform="translate(-0.3,-1.3)"/><path d="M1002.8,205.1 Q1013.8,213.8 1019.2,200.9" stroke="#416a06" stroke-width="8.5" fill="none" stroke-linecap="round"/><path d="M1002.8,205.1 Q1013.8,213.8 1019.2,200.9" stroke="#7ab41a" stroke-width="6.9" fill="none" stroke-linecap="round"/><path d="M1002.8,205.1 Q1013.8,213.8 1019.2,200.9" stroke="#a8d64a" stroke-width="2.4" fill="none" stroke-linecap="round" transform="translate(-0.3,-1.3)"/><path d="M1005.5,215.9 Q1016.5,224.5 1022.0,211.6" stroke="#416a06" stroke-width="8.5" fill="none" stroke-linecap="round"/><path d="M1005.5,215.9 Q1016.5,224.5 1022.0,211.6" stroke="#7ab41a" stroke-width="6.9" fill="none" stroke-linecap="round"/><path d="M1005.5,215.9 Q1016.5,224.5 1022.0,211.6" stroke="#a8d64a" stroke-width="2.4" fill="none" stroke-linecap="round" transform="translate(-0.3,-1.3)"/><path d="M1008.3,226.6 Q1019.2,235.2 1024.7,222.4" stroke="#416a06" stroke-width="8.5" fill="none" stroke-linecap="round"/><path d="M1008.3,226.6 Q1019.2,235.2 1024.7,222.4" stroke="#7ab41a" stroke-width="6.9" fill="none" stroke-linecap="round"/><path d="M1008.3,226.6 Q1019.2,235.2 1024.7,222.4" stroke="#a8d64a" stroke-width="2.4" fill="none" stroke-linecap="round" transform="translate(-0.3,-1.3)"/><path d="M1011.0,237.4 Q1022.0,246.0 1027.5,233.1" stroke="#416a06" stroke-width="8.5" fill="none" stroke-linecap="round"/><path d="M1011.0,237.4 Q1022.0,246.0 1027.5,233.1" stroke="#7ab41a" stroke-width="6.9" fill="none" stroke-linecap="round"/><path d="M1011.0,237.4 Q1022.0,246.0 1027.5,233.1" stroke="#a8d64a" stroke-width="2.4" fill="none" stroke-linecap="round" transform="translate(-0.3,-1.3)"/><path d="M1013.8,248.1 Q1024.8,256.8 1030.2,243.9" stroke="#416a06" stroke-width="8.5" fill="none" stroke-linecap="round"/><path d="M1013.8,248.1 Q1024.8,256.8 1030.2,243.9" stroke="#7ab41a" stroke-width="6.9" fill="none" stroke-linecap="round"/><path d="M1013.8,248.1 Q1024.8,256.8 1030.2,243.9" stroke="#a8d64a" stroke-width="2.4" fill="none" stroke-linecap="round" transform="translate(-0.3,-1.3)"/><path d="M1026.9,137.4 Q1018.0,135.0 1012.8,142.6" stroke="#3a6006" stroke-width="6.7" fill="none" stroke-linecap="round"/><path d="M1026.9,137.4 Q1018.0,135.0 1012.8,142.6" stroke="#5e8f10" stroke-width="5.3" fill="none" stroke-linecap="round"/><path d="M1030.5,147.4 Q1021.7,145.0 1016.5,152.6" stroke="#3a6006" stroke-width="6.7" fill="none" stroke-linecap="round"/><path d="M1030.5,147.4 Q1021.7,145.0 1016.5,152.6" stroke="#5e8f10" stroke-width="5.3" fill="none" stroke-linecap="round"/><path d="M1034.2,157.4 Q1025.3,155.0 1020.1,162.6" stroke="#3a6006" stroke-width="6.7" fill="none" stroke-linecap="round"/><path d="M1034.2,157.4 Q1025.3,155.0 1020.1,162.6" stroke="#5e8f10" stroke-width="5.3" fill="none" stroke-linecap="round"/><path d="M1037.9,167.4 Q1029.0,165.0 1023.8,172.6" stroke="#3a6006" stroke-width="6.7" fill="none" stroke-linecap="round"/><path d="M1037.9,167.4 Q1029.0,165.0 1023.8,172.6" stroke="#5e8f10" stroke-width="5.3" fill="none" stroke-linecap="round"/><path d="M1041.5,177.4 Q1032.7,175.0 1027.5,182.6" stroke="#3a6006" stroke-width="6.7" fill="none" stroke-linecap="round"/><path d="M1041.5,177.4 Q1032.7,175.0 1027.5,182.6" stroke="#5e8f10" stroke-width="5.3" fill="none" stroke-linecap="round"/><path d="M1045.2,187.4 Q1036.3,185.0 1031.1,192.6" stroke="#3a6006" stroke-width="6.7" fill="none" stroke-linecap="round"/><path d="M1045.2,187.4 Q1036.3,185.0 1031.1,192.6" stroke="#5e8f10" stroke-width="5.3" fill="none" stroke-linecap="round"/><path d="M1011.0,137.6 Q1021.7,145.0 1025.0,132.4" stroke="#416a06" stroke-width="8.2" fill="none" stroke-linecap="round"/><path d="M1011.0,137.6 Q1021.7,145.0 1025.0,132.4" stroke="#7ab41a" stroke-width="6.6" fill="none" stroke-linecap="round"/><path d="M1011.0,137.6 Q1021.7,145.0 1025.0,132.4" stroke="#a8d64a" stroke-width="2.3" fill="none" stroke-linecap="round" transform="translate(-0.5,-1.2)"/><path d="M1014.6,147.6 Q1025.3,155.0 1028.7,142.4" stroke="#416a06" stroke-width="8.2" fill="none" stroke-linecap="round"/><path d="M1014.6,147.6 Q1025.3,155.0 1028.7,142.4" stroke="#7ab41a" stroke-width="6.6" fill="none" stroke-linecap="round"/><path d="M1014.6,147.6 Q1025.3,155.0 1028.7,142.4" stroke="#a8d64a" stroke-width="2.3" fill="none" stroke-linecap="round" transform="translate(-0.5,-1.2)"/><path d="M1018.3,157.6 Q1029.0,165.0 1032.4,152.4" stroke="#416a06" stroke-width="8.2" fill="none" stroke-linecap="round"/><path d="M1018.3,157.6 Q1029.0,165.0 1032.4,152.4" stroke="#7ab41a" stroke-width="6.6" fill="none" stroke-linecap="round"/><path d="M1018.3,157.6 Q1029.0,165.0 1032.4,152.4" stroke="#a8d64a" stroke-width="2.3" fill="none" stroke-linecap="round" transform="translate(-0.5,-1.2)"/><path d="M1022.0,167.6 Q1032.7,175.0 1036.0,162.4" stroke="#416a06" stroke-width="8.2" fill="none" stroke-linecap="round"/><path d="M1022.0,167.6 Q1032.7,175.0 1036.0,162.4" stroke="#7ab41a" stroke-width="6.6" fill="none" stroke-linecap="round"/><path d="M1022.0,167.6 Q1032.7,175.0 1036.0,162.4" stroke="#a8d64a" stroke-width="2.3" fill="none" stroke-linecap="round" transform="translate(-0.5,-1.2)"/><path d="M1025.6,177.6 Q1036.3,185.0 1039.7,172.4" stroke="#416a06" stroke-width="8.2" fill="none" stroke-linecap="round"/><path d="M1025.6,177.6 Q1036.3,185.0 1039.7,172.4" stroke="#7ab41a" stroke-width="6.6" fill="none" stroke-linecap="round"/><path d="M1025.6,177.6 Q1036.3,185.0 1039.7,172.4" stroke="#a8d64a" stroke-width="2.3" fill="none" stroke-linecap="round" transform="translate(-0.5,-1.2)"/><path d="M1029.3,187.6 Q1040.0,195.0 1043.4,182.4" stroke="#416a06" stroke-width="8.2" fill="none" stroke-linecap="round"/><path d="M1029.3,187.6 Q1040.0,195.0 1043.4,182.4" stroke="#7ab41a" stroke-width="6.6" fill="none" stroke-linecap="round"/><path d="M1029.3,187.6 Q1040.0,195.0 1043.4,182.4" stroke="#a8d64a" stroke-width="2.3" fill="none" stroke-linecap="round" transform="translate(-0.5,-1.2)"/><path d="M1033.0,197.6 Q1043.7,205.0 1047.0,192.4" stroke="#416a06" stroke-width="8.2" fill="none" stroke-linecap="round"/><path d="M1033.0,197.6 Q1043.7,205.0 1047.0,192.4" stroke="#7ab41a" stroke-width="6.6" fill="none" stroke-linecap="round"/><path d="M1033.0,197.6 Q1043.7,205.0 1047.0,192.4" stroke="#a8d64a" stroke-width="2.3" fill="none" stroke-linecap="round" transform="translate(-0.5,-1.2)"/><path d="M1031.2,191.8 Q1022.0,190.0 1017.6,198.2" stroke="#3a6006" stroke-width="6.9" fill="none" stroke-linecap="round"/><path d="M1031.2,191.8 Q1022.0,190.0 1017.6,198.2" stroke="#5e8f10" stroke-width="5.5" fill="none" stroke-linecap="round"/><path d="M1036.0,201.8 Q1026.8,200.0 1022.4,208.2" stroke="#3a6006" stroke-width="6.9" fill="none" stroke-linecap="round"/><path d="M1036.0,201.8 Q1026.8,200.0 1022.4,208.2" stroke="#5e8f10" stroke-width="5.5" fill="none" stroke-linecap="round"/><path d="M1040.8,211.8 Q1031.6,210.0 1027.2,218.2" stroke="#3a6006" stroke-width="6.9" fill="none" stroke-linecap="round"/><path d="M1040.8,211.8 Q1031.6,210.0 1027.2,218.2" stroke="#5e8f10" stroke-width="5.5" fill="none" stroke-linecap="round"/><path d="M1045.6,221.8 Q1036.4,220.0 1032.0,228.2" stroke="#3a6006" stroke-width="6.9" fill="none" stroke-linecap="round"/><path d="M1045.6,221.8 Q1036.4,220.0 1032.0,228.2" stroke="#5e8f10" stroke-width="5.5" fill="none" stroke-linecap="round"/><path d="M1050.4,231.8 Q1041.2,230.0 1036.8,238.2" stroke="#3a6006" stroke-width="6.9" fill="none" stroke-linecap="round"/><path d="M1050.4,231.8 Q1041.2,230.0 1036.8,238.2" stroke="#5e8f10" stroke-width="5.5" fill="none" stroke-linecap="round"/><path d="M1015.2,193.2 Q1026.8,200.0 1028.8,186.8" stroke="#416a06" stroke-width="8.5" fill="none" stroke-linecap="round"/><path d="M1015.2,193.2 Q1026.8,200.0 1028.8,186.8" stroke="#7ab41a" stroke-width="6.9" fill="none" stroke-linecap="round"/><path d="M1015.2,193.2 Q1026.8,200.0 1028.8,186.8" stroke="#a8d64a" stroke-width="2.4" fill="none" stroke-linecap="round" transform="translate(-0.6,-1.2)"/><path d="M1020.0,203.2 Q1031.6,210.0 1033.6,196.8" stroke="#416a06" stroke-width="8.5" fill="none" stroke-linecap="round"/><path d="M1020.0,203.2 Q1031.6,210.0 1033.6,196.8" stroke="#7ab41a" stroke-width="6.9" fill="none" stroke-linecap="round"/><path d="M1020.0,203.2 Q1031.6,210.0 1033.6,196.8" stroke="#a8d64a" stroke-width="2.4" fill="none" stroke-linecap="round" transform="translate(-0.6,-1.2)"/><path d="M1024.8,213.2 Q1036.4,220.0 1038.4,206.8" stroke="#416a06" stroke-width="8.5" fill="none" stroke-linecap="round"/><path d="M1024.8,213.2 Q1036.4,220.0 1038.4,206.8" stroke="#7ab41a" stroke-width="6.9" fill="none" stroke-linecap="round"/><path d="M1024.8,213.2 Q1036.4,220.0 1038.4,206.8" stroke="#a8d64a" stroke-width="2.4" fill="none" stroke-linecap="round" transform="translate(-0.6,-1.2)"/><path d="M1029.6,223.2 Q1041.2,230.0 1043.2,216.8" stroke="#416a06" stroke-width="8.5" fill="none" stroke-linecap="round"/><path d="M1029.6,223.2 Q1041.2,230.0 1043.2,216.8" stroke="#7ab41a" stroke-width="6.9" fill="none" stroke-linecap="round"/><path d="M1029.6,223.2 Q1041.2,230.0 1043.2,216.8" stroke="#a8d64a" stroke-width="2.4" fill="none" stroke-linecap="round" transform="translate(-0.6,-1.2)"/><path d="M1034.4,233.2 Q1046.0,240.0 1048.0,226.8" stroke="#416a06" stroke-width="8.5" fill="none" stroke-linecap="round"/><path d="M1034.4,233.2 Q1046.0,240.0 1048.0,226.8" stroke="#7ab41a" stroke-width="6.9" fill="none" stroke-linecap="round"/><path d="M1034.4,233.2 Q1046.0,240.0 1048.0,226.8" stroke="#a8d64a" stroke-width="2.4" fill="none" stroke-linecap="round" transform="translate(-0.6,-1.2)"/><path d="M1039.2,243.2 Q1050.8,250.0 1052.8,236.8" stroke="#416a06" stroke-width="8.5" fill="none" stroke-linecap="round"/><path d="M1039.2,243.2 Q1050.8,250.0 1052.8,236.8" stroke="#7ab41a" stroke-width="6.9" fill="none" stroke-linecap="round"/><path d="M1039.2,243.2 Q1050.8,250.0 1052.8,236.8" stroke="#a8d64a" stroke-width="2.4" fill="none" stroke-linecap="round" transform="translate(-0.6,-1.2)"/><path d="M922.5,241.3 Q914.0,243.0 916.0,251.4" stroke="#3a6006" stroke-width="7.6" fill="none" stroke-linecap="round"/><path d="M922.5,241.3 Q914.0,243.0 916.0,251.4" stroke="#5e8f10" stroke-width="6.2" fill="none" stroke-linecap="round"/><path d="M933.0,248.1 Q924.5,249.8 926.5,258.2" stroke="#3a6006" stroke-width="7.6" fill="none" stroke-linecap="round"/><path d="M933.0,248.1 Q924.5,249.8 926.5,258.2" stroke="#5e8f10" stroke-width="6.2" fill="none" stroke-linecap="round"/><path d="M943.5,254.8 Q935.0,256.5 937.0,264.9" stroke="#3a6006" stroke-width="7.6" fill="none" stroke-linecap="round"/><path d="M943.5,254.8 Q935.0,256.5 937.0,264.9" stroke="#5e8f10" stroke-width="6.2" fill="none" stroke-linecap="round"/><path d="M954.0,261.6 Q945.5,263.2 947.5,271.7" stroke="#3a6006" stroke-width="7.6" fill="none" stroke-linecap="round"/><path d="M954.0,261.6 Q945.5,263.2 947.5,271.7" stroke="#5e8f10" stroke-width="6.2" fill="none" stroke-linecap="round"/><path d="M910.8,248.0 Q924.5,249.8 917.2,238.0" stroke="#416a06" stroke-width="9.3" fill="none" stroke-linecap="round"/><path d="M910.8,248.0 Q924.5,249.8 917.2,238.0" stroke="#7ab41a" stroke-width="7.7" fill="none" stroke-linecap="round"/><path d="M910.8,248.0 Q924.5,249.8 917.2,238.0" stroke="#a8d64a" stroke-width="2.7" fill="none" stroke-linecap="round" transform="translate(-1.3,-0.8)"/><path d="M921.3,254.8 Q935.0,256.5 927.7,244.7" stroke="#416a06" stroke-width="9.3" fill="none" stroke-linecap="round"/><path d="M921.3,254.8 Q935.0,256.5 927.7,244.7" stroke="#7ab41a" stroke-width="7.7" fill="none" stroke-linecap="round"/><path d="M921.3,254.8 Q935.0,256.5 927.7,244.7" stroke="#a8d64a" stroke-width="2.7" fill="none" stroke-linecap="round" transform="translate(-1.3,-0.8)"/><path d="M931.8,261.5 Q945.5,263.2 938.2,251.5" stroke="#416a06" stroke-width="9.3" fill="none" stroke-linecap="round"/><path d="M931.8,261.5 Q945.5,263.2 938.2,251.5" stroke="#7ab41a" stroke-width="7.7" fill="none" stroke-linecap="round"/><path d="M931.8,261.5 Q945.5,263.2 938.2,251.5" stroke="#a8d64a" stroke-width="2.7" fill="none" stroke-linecap="round" transform="translate(-1.3,-0.8)"/><path d="M942.3,268.3 Q956.0,270.0 948.7,258.2" stroke="#416a06" stroke-width="9.3" fill="none" stroke-linecap="round"/><path d="M942.3,268.3 Q956.0,270.0 948.7,258.2" stroke="#7ab41a" stroke-width="7.7" fill="none" stroke-linecap="round"/><path d="M942.3,268.3 Q956.0,270.0 948.7,258.2" stroke="#a8d64a" stroke-width="2.7" fill="none" stroke-linecap="round" transform="translate(-1.3,-0.8)"/><path d="M952.8,275.0 Q966.5,276.8 959.2,265.0" stroke="#416a06" stroke-width="9.3" fill="none" stroke-linecap="round"/><path d="M952.8,275.0 Q966.5,276.8 959.2,265.0" stroke="#7ab41a" stroke-width="7.7" fill="none" stroke-linecap="round"/><path d="M952.8,275.0 Q966.5,276.8 959.2,265.0" stroke="#a8d64a" stroke-width="2.7" fill="none" stroke-linecap="round" transform="translate(-1.3,-0.8)"/><path d="M1056.7,167.4 Q1048.0,166.0 1045.9,174.6" stroke="#3a6006" stroke-width="7.4" fill="none" stroke-linecap="round"/><path d="M1056.7,167.4 Q1048.0,166.0 1045.9,174.6" stroke="#5e8f10" stroke-width="6.0" fill="none" stroke-linecap="round"/><path d="M1063.4,177.4 Q1054.7,176.0 1052.6,184.6" stroke="#3a6006" stroke-width="7.4" fill="none" stroke-linecap="round"/><path d="M1063.4,177.4 Q1054.7,176.0 1052.6,184.6" stroke="#5e8f10" stroke-width="6.0" fill="none" stroke-linecap="round"/><path d="M1070.1,187.4 Q1061.3,186.0 1059.3,194.6" stroke="#3a6006" stroke-width="7.4" fill="none" stroke-linecap="round"/><path d="M1070.1,187.4 Q1061.3,186.0 1059.3,194.6" stroke="#5e8f10" stroke-width="6.0" fill="none" stroke-linecap="round"/><path d="M1042.6,169.6 Q1054.7,176.0 1053.4,162.4" stroke="#416a06" stroke-width="9.1" fill="none" stroke-linecap="round"/><path d="M1042.6,169.6 Q1054.7,176.0 1053.4,162.4" stroke="#7ab41a" stroke-width="7.5" fill="none" stroke-linecap="round"/><path d="M1042.6,169.6 Q1054.7,176.0 1053.4,162.4" stroke="#a8d64a" stroke-width="2.6" fill="none" stroke-linecap="round" transform="translate(-0.8,-1.2)"/><path d="M1049.3,179.6 Q1061.3,186.0 1060.1,172.4" stroke="#416a06" stroke-width="9.1" fill="none" stroke-linecap="round"/><path d="M1049.3,179.6 Q1061.3,186.0 1060.1,172.4" stroke="#7ab41a" stroke-width="7.5" fill="none" stroke-linecap="round"/><path d="M1049.3,179.6 Q1061.3,186.0 1060.1,172.4" stroke="#a8d64a" stroke-width="2.6" fill="none" stroke-linecap="round" transform="translate(-0.8,-1.2)"/><path d="M1055.9,189.6 Q1068.0,196.0 1066.7,182.4" stroke="#416a06" stroke-width="9.1" fill="none" stroke-linecap="round"/><path d="M1055.9,189.6 Q1068.0,196.0 1066.7,182.4" stroke="#7ab41a" stroke-width="7.5" fill="none" stroke-linecap="round"/><path d="M1055.9,189.6 Q1068.0,196.0 1066.7,182.4" stroke="#a8d64a" stroke-width="2.6" fill="none" stroke-linecap="round" transform="translate(-0.8,-1.2)"/><path d="M1062.6,199.6 Q1074.7,206.0 1073.4,192.4" stroke="#416a06" stroke-width="9.1" fill="none" stroke-linecap="round"/><path d="M1062.6,199.6 Q1074.7,206.0 1073.4,192.4" stroke="#7ab41a" stroke-width="7.5" fill="none" stroke-linecap="round"/><path d="M1062.6,199.6 Q1074.7,206.0 1073.4,192.4" stroke="#a8d64a" stroke-width="2.6" fill="none" stroke-linecap="round" transform="translate(-0.8,-1.2)"/><path d="M1037.7,227.0 Q1030.0,225.0 1029.6,233.0" stroke="#3a6006" stroke-width="7.6" fill="none" stroke-linecap="round"/><path d="M1037.7,227.0 Q1030.0,225.0 1029.6,233.0" stroke="#5e8f10" stroke-width="6.2" fill="none" stroke-linecap="round"/><path d="M1045.0,237.0 Q1037.3,235.0 1037.0,243.0" stroke="#3a6006" stroke-width="7.6" fill="none" stroke-linecap="round"/><path d="M1045.0,237.0 Q1037.3,235.0 1037.0,243.0" stroke="#5e8f10" stroke-width="6.2" fill="none" stroke-linecap="round"/><path d="M1052.4,247.0 Q1044.7,245.0 1044.3,253.0" stroke="#3a6006" stroke-width="7.6" fill="none" stroke-linecap="round"/><path d="M1052.4,247.0 Q1044.7,245.0 1044.3,253.0" stroke="#5e8f10" stroke-width="6.2" fill="none" stroke-linecap="round"/><path d="M1026.0,228.0 Q1037.3,235.0 1034.0,222.0" stroke="#416a06" stroke-width="9.3" fill="none" stroke-linecap="round"/><path d="M1026.0,228.0 Q1037.3,235.0 1034.0,222.0" stroke="#7ab41a" stroke-width="7.7" fill="none" stroke-linecap="round"/><path d="M1026.0,228.0 Q1037.3,235.0 1034.0,222.0" stroke="#a8d64a" stroke-width="2.7" fill="none" stroke-linecap="round" transform="translate(-0.9,-1.2)"/><path d="M1033.3,238.0 Q1044.7,245.0 1041.4,232.0" stroke="#416a06" stroke-width="9.3" fill="none" stroke-linecap="round"/><path d="M1033.3,238.0 Q1044.7,245.0 1041.4,232.0" stroke="#7ab41a" stroke-width="7.7" fill="none" stroke-linecap="round"/><path d="M1033.3,238.0 Q1044.7,245.0 1041.4,232.0" stroke="#a8d64a" stroke-width="2.7" fill="none" stroke-linecap="round" transform="translate(-0.9,-1.2)"/><path d="M1040.6,248.0 Q1052.0,255.0 1048.7,242.0" stroke="#416a06" stroke-width="9.3" fill="none" stroke-linecap="round"/><path d="M1040.6,248.0 Q1052.0,255.0 1048.7,242.0" stroke="#7ab41a" stroke-width="7.7" fill="none" stroke-linecap="round"/><path d="M1040.6,248.0 Q1052.0,255.0 1048.7,242.0" stroke="#a8d64a" stroke-width="2.7" fill="none" stroke-linecap="round" transform="translate(-0.9,-1.2)"/><path d="M1048.0,258.0 Q1059.3,265.0 1056.0,252.0" stroke="#416a06" stroke-width="9.3" fill="none" stroke-linecap="round"/><path d="M1048.0,258.0 Q1059.3,265.0 1056.0,252.0" stroke="#7ab41a" stroke-width="7.7" fill="none" stroke-linecap="round"/><path d="M1048.0,258.0 Q1059.3,265.0 1056.0,252.0" stroke="#a8d64a" stroke-width="2.7" fill="none" stroke-linecap="round" transform="translate(-0.9,-1.2)"/><ellipse cx="916.0" cy="210.0" rx="11" ry="14.0" fill="none" stroke="#3e6606" stroke-width="3.2"/><ellipse cx="916.0" cy="210.0" rx="11" ry="14.0" fill="none" stroke="#7db51c" stroke-width="1.8"/><ellipse cx="917.5" cy="211.2" rx="9" ry="11.5" fill="none" stroke="#3e6606" stroke-width="3.2"/><ellipse cx="917.5" cy="211.2" rx="9" ry="11.5" fill="none" stroke="#7db51c" stroke-width="1.8"/><ellipse cx="919.0" cy="212.4" rx="7" ry="9.0" fill="none" stroke="#3e6606" stroke-width="3.2"/><ellipse cx="919.0" cy="212.4" rx="7" ry="9.0" fill="none" stroke="#7db51c" stroke-width="1.8"/><ellipse cx="987.0" cy="203.0" rx="8" ry="10.0" fill="none" stroke="#3e6606" stroke-width="3.2"/><ellipse cx="987.0" cy="203.0" rx="8" ry="10.0" fill="none" stroke="#7db51c" stroke-width="1.8"/><ellipse cx="988.5" cy="204.2" rx="6" ry="7.5" fill="none" stroke="#3e6606" stroke-width="3.2"/><ellipse cx="988.5" cy="204.2" rx="6" ry="7.5" fill="none" stroke="#7db51c" stroke-width="1.8"/><ellipse cx="990.0" cy="205.4" rx="4" ry="5.0" fill="none" stroke="#3e6606" stroke-width="3.2"/><ellipse cx="990.0" cy="205.4" rx="4" ry="5.0" fill="none" stroke="#7db51c" stroke-width="1.8"/><ellipse cx="990.0" cy="146.0" rx="9" ry="7.0" fill="none" stroke="#3e6606" stroke-width="3.2"/><ellipse cx="990.0" cy="146.0" rx="9" ry="7.0" fill="none" stroke="#7db51c" stroke-width="1.8"/><ellipse cx="991.5" cy="147.2" rx="7" ry="4.5" fill="none" stroke="#3e6606" stroke-width="3.2"/><ellipse cx="991.5" cy="147.2" rx="7" ry="4.5" fill="none" stroke="#7db51c" stroke-width="1.8"/><ellipse cx="993.0" cy="148.4" rx="5" ry="2.0" fill="none" stroke="#3e6606" stroke-width="3.2"/><ellipse cx="993.0" cy="148.4" rx="5" ry="2.0" fill="none" stroke="#7db51c" stroke-width="1.8"/><polygon points="965,245 971,243 982,268 976,271" fill="#6ea416" stroke="#3e6606" stroke-width="1"/><polygon points="975,241 981,240 978,272 972,272" fill="#6ea416" stroke="#3e6606" stroke-width="1"/><polygon points="877,173 893,175 892,180 877,178" fill="#6ea416"/><polygon points="889,183 894,181 898,198 893,199" fill="#6ea416"/><path d="M968,182 L972,205 L968,225" stroke="#d8c020" stroke-width="1.3" fill="none"/><path d="M978,176 L981,185" stroke="#c83a20" stroke-width="2"/></g>
<g filter="url(#blur4)"><path d="M917.7,609 L818,490 Q830,452 879.3,432 Q918,426 941,455 Z" fill="#fef3c8"/></g><g filter="url(#blur1)"><path d="M917.7,607.8 L821.6,490 Q832,455 879.3,436 Q915,430 938,456.4 Z" fill="#fde29c"/></g><line x1="918.3" y1="611.3" x2="893.7" y2="508.0" stroke="#e0642c" stroke-width="1.45" stroke-linecap="round" /><line x1="893.7" y1="508.0" x2="833.6" y2="488.8" stroke="#e0642c" stroke-width="1.45" stroke-linecap="round" /><line x1="893.7" y1="508.0" x2="834.8" y2="496.0" stroke="#e0642c" stroke-width="1.45" stroke-linecap="round" /><line x1="893.7" y1="508.0" x2="849.0" y2="473.2" stroke="#e0642c" stroke-width="1.45" stroke-linecap="round" /><line x1="893.7" y1="508.0" x2="872.0" y2="455.2" stroke="#e0642c" stroke-width="1.45" stroke-linecap="round" /><line x1="893.7" y1="508.0" x2="888.9" y2="463.6" stroke="#e0642c" stroke-width="1.45" stroke-linecap="round" /><line x1="893.7" y1="508.0" x2="903.3" y2="466.0" stroke="#e0642c" stroke-width="1.45" stroke-linecap="round" /><line x1="893.7" y1="508.0" x2="912.9" y2="463.6" stroke="#e0642c" stroke-width="1.45" stroke-linecap="round" /><line x1="893.7" y1="508.0" x2="923.7" y2="467.2" stroke="#e0642c" stroke-width="1.45" stroke-linecap="round" /><line x1="860.0" y1="501.0" x2="836.0" y2="497.5" stroke="#e0642c" stroke-width="1.45" stroke-linecap="round" /><line x1="918.3" y1="611.3" x2="845.0" y2="611.0" stroke="#505050" stroke-width="1.45" stroke-linecap="round" /><line x1="845.0" y1="611.0" x2="689.5" y2="607.5" stroke="#6c4cc2" stroke-width="1.6" stroke-linecap="round" /><line x1="845.0" y1="611.3" x2="716.0" y2="617.0" stroke="#c8379a" stroke-width="1.6" stroke-linecap="round" /><line x1="918.3" y1="611.3" x2="923.8" y2="631.5" stroke="#505050" stroke-width="1.45" stroke-linecap="round" /><line x1="923.8" y1="631.5" x2="930.7" y2="643.8" stroke="#505050" stroke-width="1.45" stroke-linecap="round" /><line x1="930.7" y1="643.8" x2="931.4" y2="652.8" stroke="#505050" stroke-width="1.45" stroke-linecap="round" /><line x1="915.0" y1="633.0" x2="757.0" y2="648.7" stroke="#c8379a" stroke-width="1.45" stroke-linecap="round" /><line x1="915.0" y1="633.0" x2="766.7" y2="658.2" stroke="#c8379a" stroke-width="1.45" stroke-linecap="round" /><line x1="923.8" y1="631.5" x2="915.0" y2="633.0" stroke="#c8379a" stroke-width="1.45" stroke-linecap="round" /><line x1="926.3" y1="640.2" x2="773.0" y2="683.6" stroke="#c8379a" stroke-width="1.45" stroke-linecap="round" /><line x1="926.3" y1="640.2" x2="739.2" y2="709.0" stroke="#c8379a" stroke-width="1.45" stroke-linecap="round" /><line x1="926.3" y1="640.2" x2="758.2" y2="715.3" stroke="#c8379a" stroke-width="1.45" stroke-linecap="round" /><line x1="930.7" y1="643.8" x2="946.3" y2="640.0" stroke="#505050" stroke-width="1.45" stroke-linecap="round" /><line x1="946.3" y1="640.0" x2="1040.1" y2="589.3" stroke="#c8379a" stroke-width="1.45" stroke-linecap="round" /><line x1="946.3" y1="640.0" x2="997.8" y2="631.0" stroke="#eaea2a" stroke-width="2" stroke-linecap="round" /><line x1="997.8" y1="631.0" x2="1135.0" y2="569.6" stroke="#eaea2a" stroke-width="1.8" stroke-linecap="round" /><line x1="997.8" y1="631.0" x2="1136.2" y2="582.9" stroke="#eaea2a" stroke-width="1.8" stroke-linecap="round" /><line x1="997.8" y1="631.0" x2="1130.5" y2="594.3" stroke="#eaea2a" stroke-width="1.8" stroke-linecap="round" /><line x1="997.8" y1="631.0" x2="1156.8" y2="599.4" stroke="#eaea2a" stroke-width="1.8" stroke-linecap="round" /><line x1="997.8" y1="631.0" x2="1150.0" y2="614.5" stroke="#eaea2a" stroke-width="1.8" stroke-linecap="round" /><line x1="997.8" y1="631.0" x2="1153.4" y2="622.9" stroke="#eaea2a" stroke-width="1.8" stroke-linecap="round" /><line x1="997.8" y1="631.0" x2="1161.4" y2="630.5" stroke="#eaea2a" stroke-width="1.8" stroke-linecap="round" /><line x1="997.8" y1="631.0" x2="1158.0" y2="632.0" stroke="#eaea2a" stroke-width="1.8" stroke-linecap="round" /><line x1="931.4" y1="652.8" x2="1112.2" y2="677.8" stroke="#d4923a" stroke-width="1.45" stroke-linecap="round" /><line x1="931.4" y1="652.8" x2="1122.5" y2="693.8" stroke="#d4923a" stroke-width="1.45" stroke-linecap="round" /><line x1="931.4" y1="652.8" x2="1137.4" y2="705.3" stroke="#d4923a" stroke-width="1.45" stroke-linecap="round" /><line x1="931.4" y1="652.8" x2="1137.4" y2="731.6" stroke="#c8379a" stroke-width="1.45" stroke-linecap="round" /><line x1="931.4" y1="652.8" x2="1145.4" y2="739.6" stroke="#c8379a" stroke-width="1.45" stroke-linecap="round" /><line x1="931.4" y1="652.8" x2="954.4" y2="692.2" stroke="#505050" stroke-width="1.45" stroke-linecap="round" /><line x1="940.6" y1="667.5" x2="1086.5" y2="738.2" stroke="#6c4cc2" stroke-width="1.45" stroke-linecap="round" /><line x1="940.6" y1="667.5" x2="1082.0" y2="747.7" stroke="#6c4cc2" stroke-width="1.45" stroke-linecap="round" /><line x1="940.6" y1="667.5" x2="1068.7" y2="750.6" stroke="#6c4cc2" stroke-width="1.45" stroke-linecap="round" /><line x1="940.6" y1="667.5" x2="1045.4" y2="750.6" stroke="#6c4cc2" stroke-width="1.45" stroke-linecap="round" /><line x1="954.4" y1="692.2" x2="1074.3" y2="799.9" stroke="#6c4cc2" stroke-width="1.45" stroke-linecap="round" /><line x1="954.4" y1="692.2" x2="1079.8" y2="845.4" stroke="#6c4cc2" stroke-width="1.45" stroke-linecap="round" /><line x1="954.4" y1="692.2" x2="1047.7" y2="782.0" stroke="#6c4cc2" stroke-width="1.45" stroke-linecap="round" /><line x1="954.4" y1="692.2" x2="999.9" y2="847.6" stroke="#d4923a" stroke-width="1.45" stroke-linecap="round" /><line x1="954.4" y1="692.2" x2="1011.0" y2="845.4" stroke="#d4923a" stroke-width="1.45" stroke-linecap="round" /><line x1="954.4" y1="692.2" x2="1015.5" y2="815.4" stroke="#d4923a" stroke-width="1.45" stroke-linecap="round" /><line x1="954.4" y1="692.2" x2="1033.2" y2="813.2" stroke="#d4923a" stroke-width="1.45" stroke-linecap="round" /><line x1="954.4" y1="692.2" x2="993.3" y2="822.0" stroke="#d4923a" stroke-width="1.45" stroke-linecap="round" /><line x1="931.4" y1="652.8" x2="913.8" y2="691.8" stroke="#8cc84a" stroke-width="1.45" stroke-linecap="round" /><line x1="913.8" y1="691.8" x2="901.6" y2="709.0" stroke="#8cc84a" stroke-width="1.45" stroke-linecap="round" /><line x1="913.8" y1="691.8" x2="923.6" y2="860.7" stroke="#8cc84a" stroke-width="1.45" stroke-linecap="round" /><line x1="913.8" y1="691.8" x2="935.8" y2="838.7" stroke="#8cc84a" stroke-width="1.45" stroke-linecap="round" /><line x1="913.8" y1="691.8" x2="927.3" y2="831.4" stroke="#8cc84a" stroke-width="1.45" stroke-linecap="round" /><line x1="901.6" y1="709.0" x2="869.7" y2="738.3" stroke="#8cc84a" stroke-width="1.45" stroke-linecap="round" /><line x1="869.7" y1="738.3" x2="795.0" y2="784.8" stroke="#8cc84a" stroke-width="1.45" stroke-linecap="round" /><line x1="869.7" y1="738.3" x2="811.0" y2="799.5" stroke="#8cc84a" stroke-width="1.45" stroke-linecap="round" /><line x1="869.7" y1="738.3" x2="813.4" y2="808.0" stroke="#8cc84a" stroke-width="1.45" stroke-linecap="round" /><line x1="869.7" y1="738.3" x2="801.0" y2="790.0" stroke="#8cc84a" stroke-width="1.45" stroke-linecap="round" /><line x1="869.7" y1="738.3" x2="815.0" y2="815.0" stroke="#8cc84a" stroke-width="1.45" stroke-linecap="round" /><line x1="901.6" y1="709.0" x2="896.0" y2="730.0" stroke="#8cc84a" stroke-width="1.45" stroke-linecap="round" /><line x1="896.0" y1="730.0" x2="886.9" y2="849.7" stroke="#8cc84a" stroke-width="1.45" stroke-linecap="round" /><line x1="896.0" y1="730.0" x2="895.5" y2="836.3" stroke="#8cc84a" stroke-width="1.45" stroke-linecap="round" /><line x1="896.0" y1="730.0" x2="884.4" y2="833.8" stroke="#8cc84a" stroke-width="1.45" stroke-linecap="round" /><line x1="896.0" y1="730.0" x2="866.0" y2="815.5" stroke="#8cc84a" stroke-width="1.45" stroke-linecap="round" /><line x1="896.0" y1="730.0" x2="872.0" y2="822.0" stroke="#8cc84a" stroke-width="1.45" stroke-linecap="round" /><line x1="901.6" y1="709.0" x2="888.0" y2="728.0" stroke="#8cc84a" stroke-width="1.45" stroke-linecap="round" /><line x1="888.0" y1="728.0" x2="845.3" y2="803.2" stroke="#8cc84a" stroke-width="1.45" stroke-linecap="round" /><line x1="888.0" y1="728.0" x2="833.0" y2="831.4" stroke="#8cc84a" stroke-width="1.45" stroke-linecap="round" /><line x1="888.0" y1="728.0" x2="850.0" y2="812.0" stroke="#8cc84a" stroke-width="1.45" stroke-linecap="round" /><text x="687" y="727.2" font-family="Liberation Sans, sans-serif" font-size="20.6" font-weight="bold" font-style="normal" fill="#111" textLength="184.4" lengthAdjust="spacingAndGlyphs" >Noncanonical TCs</text><text x="1036.6" y="663" font-family="Liberation Sans, sans-serif" font-size="20.6" font-weight="bold" font-style="normal" fill="#111" textLength="158.2" lengthAdjust="spacingAndGlyphs" >Octocoral DTCs</text><text x="1019.8" y="778.8" font-family="Liberation Sans, sans-serif" font-size="20.6" font-weight="bold" font-style="normal" fill="#111" textLength="141.5" lengthAdjust="spacingAndGlyphs" >Bacteria DTCs</text><text x="759.6" y="833.8" font-family="Liberation Sans, sans-serif" font-size="20.6" font-weight="bold" font-style="normal" fill="#111" textLength="111.8" lengthAdjust="spacingAndGlyphs" >Plant DTCs</text><text x="943.2" y="837.6" font-family="Liberation Sans, sans-serif" font-size="20.6" font-weight="bold" font-style="normal" fill="#111" textLength="116" lengthAdjust="spacingAndGlyphs" >Fungi DTCs</text>
<text x="213.8" y="626.2" font-family="Liberation Sans, sans-serif" font-size="27" font-weight="bold" font-style="normal" fill="#111" textLength="358.6" lengthAdjust="spacingAndGlyphs" >Fungi resistant propagules</text>
<text x="135.6" y="663.8" font-family="Liberation Sans, sans-serif" font-size="26" font-weight="normal" font-style="normal" fill="#333" textLength="200.8" lengthAdjust="spacingAndGlyphs" >chlamydospore</text>
<text x="457.6" y="664.4" font-family="Liberation Sans, sans-serif" font-size="26" font-weight="normal" font-style="normal" fill="#333" textLength="257.4" lengthAdjust="spacingAndGlyphs" >sclerotia (<tspan font-style="italic">A. oryzae</tspan>)</text>
<g clip-path="url(#cm1)"><rect x="36" y="680" width="195" height="185" fill="#d2d9ae"/><g filter="url(#blur1)"><path d="M90.7,680 C80,700 66,720 64,750 C62,780 68,810 74,865" stroke="#a3af7c" stroke-width="7.5" fill="none"/><path d="M90.7,680 C80,700 66,720 64,750 C62,780 68,810 74,865" stroke="#e6eacb" stroke-width="4.8" fill="none"/><path d="M149,681 C144,710 135,735 100,766" stroke="#a3af7c" stroke-width="7.5" fill="none"/><path d="M149,681 C144,710 135,735 100,766" stroke="#e6eacb" stroke-width="4.8" fill="none"/><path d="M193.3,681 C205,710 212,750 202,782 C190,800 160,820 128,865" stroke="#a3af7c" stroke-width="7.5" fill="none"/><path d="M193.3,681 C205,710 212,750 202,782 C190,800 160,820 128,865" stroke="#e6eacb" stroke-width="4.8" fill="none"/><path d="M150,748 C142,770 140,800 145,820 C150,840 155,855 158,865" stroke="#a3af7c" stroke-width="7.5" fill="none"/><path d="M150,748 C142,770 140,800 145,820 C150,840 155,855 158,865" stroke="#e6eacb" stroke-width="4.8" fill="none"/><path d="M36,787 C80,800 110,812 150,825 C180,835 210,820 231,795" stroke="#a3af7c" stroke-width="7.5" fill="none"/><path d="M36,787 C80,800 110,812 150,825 C180,835 210,820 231,795" stroke="#e6eacb" stroke-width="4.8" fill="none"/><path d="M36,835 C70,825 110,815 150,805 C190,795 210,790 231,785" stroke="#a3af7c" stroke-width="7.5" fill="none"/><path d="M36,835 C70,825 110,815 150,805 C190,795 210,790 231,785" stroke="#e6eacb" stroke-width="4.8" fill="none"/><path d="M36,760 C60,780 80,810 95,865" stroke="#a3af7c" stroke-width="7.5" fill="none"/><path d="M36,760 C60,780 80,810 95,865" stroke="#e6eacb" stroke-width="4.8" fill="none"/><path d="M165,718 C190,730 210,745 231,755" stroke="#a3af7c" stroke-width="7.5" fill="none"/><path d="M165,718 C190,730 210,745 231,755" stroke="#e6eacb" stroke-width="4.8" fill="none"/><path d="M200,842 C210,848 220,852 231,855" stroke="#a3af7c" stroke-width="7.5" fill="none"/><path d="M200,842 C210,848 220,852 231,855" stroke="#e6eacb" stroke-width="4.8" fill="none"/><path d="M36,812 C70,830 100,850 110,865" stroke="#a3af7c" stroke-width="7.5" fill="none"/><path d="M36,812 C70,830 100,850 110,865" stroke="#e6eacb" stroke-width="4.8" fill="none"/><path d="M110,865 C130,830 160,810 190,800" stroke="#a3af7c" stroke-width="7.5" fill="none"/><path d="M110,865 C130,830 160,810 190,800" stroke="#e6eacb" stroke-width="4.8" fill="none"/><path d="M36,800 C60,805 90,815 120,840 C130,850 135,858 138,865" stroke="#a3af7c" stroke-width="7.5" fill="none"/><path d="M36,800 C60,805 90,815 120,840 C130,850 135,858 138,865" stroke="#e6eacb" stroke-width="4.8" fill="none"/><path d="M60,865 C80,840 100,825 130,818 C160,812 200,815 231,830" stroke="#a3af7c" stroke-width="7.5" fill="none"/><path d="M60,865 C80,840 100,825 130,818 C160,812 200,815 231,830" stroke="#e6eacb" stroke-width="4.8" fill="none"/><path d="M36,740 C45,760 52,790 50,865" stroke="#a3af7c" stroke-width="7.5" fill="none"/><path d="M36,740 C45,760 52,790 50,865" stroke="#e6eacb" stroke-width="4.8" fill="none"/><path d="M175,865 C180,840 190,820 205,805" stroke="#a3af7c" stroke-width="7.5" fill="none"/><path d="M175,865 C180,840 190,820 205,805" stroke="#e6eacb" stroke-width="4.8" fill="none"/><path d="M120,790 C140,800 160,815 175,840" stroke="#a3af7c" stroke-width="7.5" fill="none"/><path d="M120,790 C140,800 160,815 175,840" stroke="#e6eacb" stroke-width="4.8" fill="none"/></g><circle cx="165.3" cy="714.3" r="5.8" fill="#f2f4e0" stroke="#3a3a2a" stroke-width="1.8"/><circle cx="144.3" cy="742.3" r="5.2" fill="#f2f4e0" stroke="#3a3a2a" stroke-width="1.8"/><circle cx="152.5" cy="778.5" r="5.2" fill="#f2f4e0" stroke="#3a3a2a" stroke-width="1.8"/><circle cx="77.8" cy="803" r="6" fill="#f2f4e0" stroke="#3a3a2a" stroke-width="1.8"/><circle cx="58" cy="859" r="5" fill="#f2f4e0" stroke="#3a3a2a" stroke-width="1.8"/></g>
<g clip-path="url(#cm2)"><rect x="236" y="680" width="195" height="185" fill="#c0c3a2"/><g filter="url(#blur4)"><ellipse cx="300" cy="700" rx="55" ry="18" fill="#cdd0b0"/><ellipse cx="395" cy="770" rx="30" ry="45" fill="#adb28e"/><ellipse cx="265" cy="845" rx="40" ry="20" fill="#c8cba9"/><ellipse cx="340" cy="740" rx="25" ry="25" fill="#c3c6a4"/></g><g filter="url(#blur1)"><line x1="412.0" y1="684.0" x2="418.0" y2="700.0" stroke="#8f9376" stroke-width="8.0" stroke-linecap="round" /><line x1="418.0" y1="700.0" x2="418.0" y2="730.0" stroke="#8f9376" stroke-width="6.85" stroke-linecap="round" /><ellipse cx="412" cy="684" rx="5.7" ry="7.7" transform="rotate(0 412 684)" fill="#8f9376"/><ellipse cx="418" cy="700" rx="5.7" ry="9.7" transform="rotate(0 418 700)" fill="#8f9376"/><ellipse cx="418" cy="730" rx="4.7" ry="11.7" transform="rotate(0 418 730)" fill="#8f9376"/><line x1="412.0" y1="684.0" x2="418.0" y2="700.0" stroke="#dcdfbf" stroke-width="4.6" stroke-linecap="round" /><line x1="418.0" y1="700.0" x2="418.0" y2="730.0" stroke="#dcdfbf" stroke-width="3.4499999999999997" stroke-linecap="round" /><ellipse cx="412" cy="684" rx="4" ry="6" transform="rotate(0 412 684)" fill="#dcdfbf"/><ellipse cx="418" cy="700" rx="4" ry="8" transform="rotate(0 418 700)" fill="#dcdfbf"/><ellipse cx="418" cy="730" rx="3" ry="10" transform="rotate(0 418 730)" fill="#dcdfbf"/><line x1="390.0" y1="700.0" x2="398.0" y2="712.0" stroke="#8f9376" stroke-width="8.0" stroke-linecap="round" /><ellipse cx="390" cy="700" rx="5.7" ry="8.7" transform="rotate(-30 390 700)" fill="#8f9376"/><ellipse cx="398" cy="712" rx="5.7" ry="7.7" transform="rotate(-30 398 712)" fill="#8f9376"/><line x1="390.0" y1="700.0" x2="398.0" y2="712.0" stroke="#dcdfbf" stroke-width="4.6" stroke-linecap="round" /><ellipse cx="390" cy="700" rx="4" ry="7" transform="rotate(-30 390 700)" fill="#dcdfbf"/><ellipse cx="398" cy="712" rx="4" ry="6" transform="rotate(-30 398 712)" fill="#dcdfbf"/><ellipse cx="392" cy="788" rx="7.7" ry="11.7" transform="rotate(-30 392 788)" fill="#8f9376"/><ellipse cx="392" cy="788" rx="6" ry="10" transform="rotate(-30 392 788)" fill="#dcdfbf"/><line x1="345.0" y1="752.0" x2="360.0" y2="740.0" stroke="#8f9376" stroke-width="8.0" stroke-linecap="round" /><line x1="360.0" y1="740.0" x2="372.0" y2="725.0" stroke="#8f9376" stroke-width="8.0" stroke-linecap="round" /><ellipse cx="345" cy="752" rx="5.7" ry="10.7" transform="rotate(40 345 752)" fill="#8f9376"/><ellipse cx="360" cy="740" rx="5.7" ry="9.7" transform="rotate(40 360 740)" fill="#8f9376"/><ellipse cx="372" cy="725" rx="5.7" ry="9.7" transform="rotate(40 372 725)" fill="#8f9376"/><line x1="345.0" y1="752.0" x2="360.0" y2="740.0" stroke="#dcdfbf" stroke-width="4.6" stroke-linecap="round" /><line x1="360.0" y1="740.0" x2="372.0" y2="725.0" stroke="#dcdfbf" stroke-width="4.6" stroke-linecap="round" /><ellipse cx="345" cy="752" rx="4" ry="9" transform="rotate(40 345 752)" fill="#dcdfbf"/><ellipse cx="360" cy="740" rx="4" ry="8" transform="rotate(40 360 740)" fill="#dcdfbf"/><ellipse cx="372" cy="725" rx="4" ry="8" transform="rotate(40 372 725)" fill="#dcdfbf"/><line x1="240.0" y1="690.0" x2="250.0" y2="684.0" stroke="#8f9376" stroke-width="6.85" stroke-linecap="round" /><ellipse cx="240" cy="690" rx="4.7" ry="9.7" transform="rotate(30 240 690)" fill="#8f9376"/><ellipse cx="250" cy="684" rx="4.7" ry="7.7" transform="rotate(30 250 684)" fill="#8f9376"/><line x1="240.0" y1="690.0" x2="250.0" y2="684.0" stroke="#dcdfbf" stroke-width="3.4499999999999997" stroke-linecap="round" /><ellipse cx="240" cy="690" rx="3" ry="8" transform="rotate(30 240 690)" fill="#dcdfbf"/><ellipse cx="250" cy="684" rx="3" ry="6" transform="rotate(30 250 684)" fill="#dcdfbf"/><ellipse cx="278" cy="842" rx="9.7" ry="7.7" transform="rotate(0 278 842)" fill="#8f9376"/><ellipse cx="278" cy="842" rx="8" ry="6" transform="rotate(0 278 842)" fill="#dcdfbf"/></g><line x1="238.0" y1="717.0" x2="252.0" y2="717.0" stroke="#3a3c28" stroke-width="10.299999999999999" stroke-linecap="round" /><line x1="252.0" y1="717.0" x2="268.0" y2="718.0" stroke="#3a3c28" stroke-width="10.299999999999999" stroke-linecap="round" /><line x1="268.0" y1="718.0" x2="286.0" y2="716.0" stroke="#3a3c28" stroke-width="10.299999999999999" stroke-linecap="round" /><line x1="286.0" y1="716.0" x2="305.0" y2="715.0" stroke="#3a3c28" stroke-width="10.875" stroke-linecap="round" /><line x1="305.0" y1="715.0" x2="323.0" y2="714.5" stroke="#3a3c28" stroke-width="10.875" stroke-linecap="round" /><line x1="323.0" y1="714.5" x2="340.0" y2="714.0" stroke="#3a3c28" stroke-width="10.875" stroke-linecap="round" /><line x1="340.0" y1="714.0" x2="358.0" y2="714.0" stroke="#3a3c28" stroke-width="10.875" stroke-linecap="round" /><ellipse cx="238" cy="717" rx="7.7" ry="7.7" transform="rotate(0 238 717)" fill="#3a3c28"/><ellipse cx="252" cy="717" rx="9.7" ry="7.7" transform="rotate(0 252 717)" fill="#3a3c28"/><ellipse cx="268" cy="718" rx="9.7" ry="7.7" transform="rotate(0 268 718)" fill="#3a3c28"/><ellipse cx="286" cy="716" rx="10.7" ry="8.2" transform="rotate(0 286 716)" fill="#3a3c28"/><ellipse cx="305" cy="715" rx="11.7" ry="8.7" transform="rotate(0 305 715)" fill="#3a3c28"/><ellipse cx="323" cy="714.5" rx="10.7" ry="8.2" transform="rotate(0 323 714.5)" fill="#3a3c28"/><ellipse cx="340" cy="714" rx="10.7" ry="8.2" transform="rotate(0 340 714)" fill="#3a3c28"/><ellipse cx="358" cy="714" rx="11.7" ry="9.7" transform="rotate(0 358 714)" fill="#3a3c28"/><line x1="238.0" y1="717.0" x2="252.0" y2="717.0" stroke="#eef0d0" stroke-width="6.8999999999999995" stroke-linecap="round" /><line x1="252.0" y1="717.0" x2="268.0" y2="718.0" stroke="#eef0d0" stroke-width="6.8999999999999995" stroke-linecap="round" /><line x1="268.0" y1="718.0" x2="286.0" y2="716.0" stroke="#eef0d0" stroke-width="6.8999999999999995" stroke-linecap="round" /><line x1="286.0" y1="716.0" x2="305.0" y2="715.0" stroke="#eef0d0" stroke-width="7.475" stroke-linecap="round" /><line x1="305.0" y1="715.0" x2="323.0" y2="714.5" stroke="#eef0d0" stroke-width="7.475" stroke-linecap="round" /><line x1="323.0" y1="714.5" x2="340.0" y2="714.0" stroke="#eef0d0" stroke-width="7.475" stroke-linecap="round" /><line x1="340.0" y1="714.0" x2="358.0" y2="714.0" stroke="#eef0d0" stroke-width="7.475" stroke-linecap="round" /><ellipse cx="238" cy="717" rx="6" ry="6" transform="rotate(0 238 717)" fill="#eef0d0"/><ellipse cx="252" cy="717" rx="8" ry="6" transform="rotate(0 252 717)" fill="#eef0d0"/><ellipse cx="268" cy="718" rx="8" ry="6" transform="rotate(0 268 718)" fill="#eef0d0"/><ellipse cx="286" cy="716" rx="9" ry="6.5" transform="rotate(0 286 716)" fill="#eef0d0"/><ellipse cx="305" cy="715" rx="10" ry="7" transform="rotate(0 305 715)" fill="#eef0d0"/><ellipse cx="323" cy="714.5" rx="9" ry="6.5" transform="rotate(0 323 714.5)" fill="#eef0d0"/><ellipse cx="340" cy="714" rx="9" ry="6.5" transform="rotate(0 340 714)" fill="#eef0d0"/><ellipse cx="358" cy="714" rx="10" ry="8" transform="rotate(0 358 714)" fill="#eef0d0"/><line x1="281.0" y1="734.0" x2="286.0" y2="748.0" stroke="#3a3c28" stroke-width="8.575" stroke-linecap="round" /><line x1="286.0" y1="748.0" x2="293.0" y2="762.0" stroke="#3a3c28" stroke-width="8.575" stroke-linecap="round" /><line x1="293.0" y1="762.0" x2="302.0" y2="778.0" stroke="#3a3c28" stroke-width="9.15" stroke-linecap="round" /><ellipse cx="281" cy="734" rx="6.2" ry="9.7" transform="rotate(-15 281 734)" fill="#3a3c28"/><ellipse cx="286" cy="748" rx="6.2" ry="9.7" transform="rotate(-20 286 748)" fill="#3a3c28"/><ellipse cx="293" cy="762" rx="6.7" ry="9.7" transform="rotate(-25 293 762)" fill="#3a3c28"/><ellipse cx="302" cy="778" rx="7.7" ry="9.7" transform="rotate(-30 302 778)" fill="#3a3c28"/><line x1="281.0" y1="734.0" x2="286.0" y2="748.0" stroke="#eef0d0" stroke-width="5.175" stroke-linecap="round" /><line x1="286.0" y1="748.0" x2="293.0" y2="762.0" stroke="#eef0d0" stroke-width="5.175" stroke-linecap="round" /><line x1="293.0" y1="762.0" x2="302.0" y2="778.0" stroke="#eef0d0" stroke-width="5.75" stroke-linecap="round" /><ellipse cx="281" cy="734" rx="4.5" ry="8" transform="rotate(-15 281 734)" fill="#eef0d0"/><ellipse cx="286" cy="748" rx="4.5" ry="8" transform="rotate(-20 286 748)" fill="#eef0d0"/><ellipse cx="293" cy="762" rx="5" ry="8" transform="rotate(-25 293 762)" fill="#eef0d0"/><ellipse cx="302" cy="778" rx="6" ry="8" transform="rotate(-30 302 778)" fill="#eef0d0"/><line x1="238.0" y1="778.0" x2="254.0" y2="777.0" stroke="#3a3c28" stroke-width="9.725" stroke-linecap="round" /><line x1="254.0" y1="777.0" x2="272.0" y2="776.0" stroke="#3a3c28" stroke-width="10.299999999999999" stroke-linecap="round" /><line x1="272.0" y1="776.0" x2="290.0" y2="775.0" stroke="#3a3c28" stroke-width="10.299999999999999" stroke-linecap="round" /><line x1="290.0" y1="775.0" x2="306.0" y2="773.0" stroke="#3a3c28" stroke-width="9.725" stroke-linecap="round" /><ellipse cx="238" cy="778" rx="7.7" ry="7.2" transform="rotate(0 238 778)" fill="#3a3c28"/><ellipse cx="254" cy="777" rx="9.7" ry="7.7" transform="rotate(0 254 777)" fill="#3a3c28"/><ellipse cx="272" cy="776" rx="9.7" ry="7.7" transform="rotate(0 272 776)" fill="#3a3c28"/><ellipse cx="290" cy="775" rx="9.7" ry="7.7" transform="rotate(0 290 775)" fill="#3a3c28"/><ellipse cx="306" cy="773" rx="8.7" ry="7.2" transform="rotate(0 306 773)" fill="#3a3c28"/><line x1="238.0" y1="778.0" x2="254.0" y2="777.0" stroke="#eef0d0" stroke-width="6.324999999999999" stroke-linecap="round" /><line x1="254.0" y1="777.0" x2="272.0" y2="776.0" stroke="#eef0d0" stroke-width="6.8999999999999995" stroke-linecap="round" /><line x1="272.0" y1="776.0" x2="290.0" y2="775.0" stroke="#eef0d0" stroke-width="6.8999999999999995" stroke-linecap="round" /><line x1="290.0" y1="775.0" x2="306.0" y2="773.0" stroke="#eef0d0" stroke-width="6.324999999999999" stroke-linecap="round" /><ellipse cx="238" cy="778" rx="6" ry="5.5" transform="rotate(0 238 778)" fill="#eef0d0"/><ellipse cx="254" cy="777" rx="8" ry="6" transform="rotate(0 254 777)" fill="#eef0d0"/><ellipse cx="272" cy="776" rx="8" ry="6" transform="rotate(0 272 776)" fill="#eef0d0"/><ellipse cx="290" cy="775" rx="8" ry="6" transform="rotate(0 290 775)" fill="#eef0d0"/><ellipse cx="306" cy="773" rx="7" ry="5.5" transform="rotate(0 306 773)" fill="#eef0d0"/><ellipse cx="263" cy="766" rx="7.7" ry="7.7" transform="rotate(0 263 766)" fill="#3a3c28"/><ellipse cx="263" cy="766" rx="6" ry="6" transform="rotate(0 263 766)" fill="#eef0d0"/><line x1="320.0" y1="808.0" x2="333.0" y2="800.0" stroke="#3a3c28" stroke-width="10.299999999999999" stroke-linecap="round" /><line x1="333.0" y1="800.0" x2="346.0" y2="789.0" stroke="#3a3c28" stroke-width="10.299999999999999" stroke-linecap="round" /><line x1="346.0" y1="789.0" x2="358.0" y2="775.0" stroke="#3a3c28" stroke-width="9.15" stroke-linecap="round" /><line x1="358.0" y1="775.0" x2="369.0" y2="760.0" stroke="#3a3c28" stroke-width="9.15" stroke-linecap="round" /><ellipse cx="320" cy="808" rx="8.7" ry="10.7" transform="rotate(10 320 808)" fill="#3a3c28"/><ellipse cx="333" cy="800" rx="7.7" ry="8.7" transform="rotate(40 333 800)" fill="#3a3c28"/><ellipse cx="346" cy="789" rx="7.7" ry="9.7" transform="rotate(40 346 789)" fill="#3a3c28"/><ellipse cx="358" cy="775" rx="6.7" ry="9.7" transform="rotate(40 358 775)" fill="#3a3c28"/><ellipse cx="369" cy="760" rx="6.7" ry="9.7" transform="rotate(40 369 760)" fill="#3a3c28"/><line x1="320.0" y1="808.0" x2="333.0" y2="800.0" stroke="#eef0d0" stroke-width="6.8999999999999995" stroke-linecap="round" /><line x1="333.0" y1="800.0" x2="346.0" y2="789.0" stroke="#eef0d0" stroke-width="6.8999999999999995" stroke-linecap="round" /><line x1="346.0" y1="789.0" x2="358.0" y2="775.0" stroke="#eef0d0" stroke-width="5.75" stroke-linecap="round" /><line x1="358.0" y1="775.0" x2="369.0" y2="760.0" stroke="#eef0d0" stroke-width="5.75" stroke-linecap="round" /><ellipse cx="320" cy="808" rx="7" ry="9" transform="rotate(10 320 808)" fill="#eef0d0"/><ellipse cx="333" cy="800" rx="6" ry="7" transform="rotate(40 333 800)" fill="#eef0d0"/><ellipse cx="346" cy="789" rx="6" ry="8" transform="rotate(40 346 789)" fill="#eef0d0"/><ellipse cx="358" cy="775" rx="5" ry="8" transform="rotate(40 358 775)" fill="#eef0d0"/><ellipse cx="369" cy="760" rx="5" ry="8" transform="rotate(40 369 760)" fill="#eef0d0"/><line x1="419.0" y1="752.0" x2="420.0" y2="770.0" stroke="#3a3c28" stroke-width="7.424999999999999" stroke-linecap="round" /><line x1="420.0" y1="770.0" x2="420.0" y2="788.0" stroke="#3a3c28" stroke-width="7.424999999999999" stroke-linecap="round" /><line x1="420.0" y1="788.0" x2="420.0" y2="805.0" stroke="#3a3c28" stroke-width="7.424999999999999" stroke-linecap="round" /><line x1="420.0" y1="805.0" x2="420.0" y2="826.0" stroke="#3a3c28" stroke-width="7.424999999999999" stroke-linecap="round" /><ellipse cx="419" cy="752" rx="5.2" ry="9.7" transform="rotate(0 419 752)" fill="#3a3c28"/><ellipse cx="420" cy="770" rx="5.2" ry="9.7" transform="rotate(0 420 770)" fill="#3a3c28"/><ellipse cx="420" cy="788" rx="5.2" ry="9.7" transform="rotate(0 420 788)" fill="#3a3c28"/><ellipse cx="420" cy="805" rx="5.2" ry="9.7" transform="rotate(0 420 805)" fill="#3a3c28"/><ellipse cx="420" cy="826" rx="8.7" ry="11.7" transform="rotate(0 420 826)" fill="#3a3c28"/><line x1="419.0" y1="752.0" x2="420.0" y2="770.0" stroke="#eef0d0" stroke-width="4.0249999999999995" stroke-linecap="round" /><line x1="420.0" y1="770.0" x2="420.0" y2="788.0" stroke="#eef0d0" stroke-width="4.0249999999999995" stroke-linecap="round" /><line x1="420.0" y1="788.0" x2="420.0" y2="805.0" stroke="#eef0d0" stroke-width="4.0249999999999995" stroke-linecap="round" /><line x1="420.0" y1="805.0" x2="420.0" y2="826.0" stroke="#eef0d0" stroke-width="4.0249999999999995" stroke-linecap="round" /><ellipse cx="419" cy="752" rx="3.5" ry="8" transform="rotate(0 419 752)" fill="#eef0d0"/><ellipse cx="420" cy="770" rx="3.5" ry="8" transform="rotate(0 420 770)" fill="#eef0d0"/><ellipse cx="420" cy="788" rx="3.5" ry="8" transform="rotate(0 420 788)" fill="#eef0d0"/><ellipse cx="420" cy="805" rx="3.5" ry="8" transform="rotate(0 420 805)" fill="#eef0d0"/><ellipse cx="420" cy="826" rx="7" ry="10" transform="rotate(0 420 826)" fill="#eef0d0"/><line x1="420.0" y1="768.0" x2="429.0" y2="766.0" stroke="#3a3c28" stroke-width="6.85" stroke-linecap="round" /><ellipse cx="420" cy="768" rx="4.7" ry="4.7" transform="rotate(0 420 768)" fill="#3a3c28"/><ellipse cx="429" cy="766" rx="5.7" ry="5.2" transform="rotate(0 429 766)" fill="#3a3c28"/><line x1="420.0" y1="768.0" x2="429.0" y2="766.0" stroke="#eef0d0" stroke-width="3.4499999999999997" stroke-linecap="round" /><ellipse cx="420" cy="768" rx="3" ry="3" transform="rotate(0 420 768)" fill="#eef0d0"/><ellipse cx="429" cy="766" rx="4" ry="3.5" transform="rotate(0 429 766)" fill="#eef0d0"/><line x1="316.0" y1="812.0" x2="323.0" y2="830.0" stroke="#3a3c28" stroke-width="9.15" stroke-linecap="round" /><line x1="323.0" y1="830.0" x2="330.0" y2="848.0" stroke="#3a3c28" stroke-width="9.15" stroke-linecap="round" /><ellipse cx="316" cy="812" rx="7.7" ry="9.7" transform="rotate(0 316 812)" fill="#3a3c28"/><ellipse cx="323" cy="830" rx="6.7" ry="9.7" transform="rotate(-10 323 830)" fill="#3a3c28"/><ellipse cx="330" cy="848" rx="6.7" ry="10.7" transform="rotate(-10 330 848)" fill="#3a3c28"/><line x1="316.0" y1="812.0" x2="323.0" y2="830.0" stroke="#eef0d0" stroke-width="5.75" stroke-linecap="round" /><line x1="323.0" y1="830.0" x2="330.0" y2="848.0" stroke="#eef0d0" stroke-width="5.75" stroke-linecap="round" /><ellipse cx="316" cy="812" rx="6" ry="8" transform="rotate(0 316 812)" fill="#eef0d0"/><ellipse cx="323" cy="830" rx="5" ry="8" transform="rotate(-10 323 830)" fill="#eef0d0"/><ellipse cx="330" cy="848" rx="5" ry="9" transform="rotate(-10 330 848)" fill="#eef0d0"/><ellipse cx="340" cy="838" rx="6.7" ry="8.7" transform="rotate(20 340 838)" fill="#3a3c28"/><ellipse cx="340" cy="838" rx="5" ry="7" transform="rotate(20 340 838)" fill="#eef0d0"/><ellipse cx="345" cy="826" rx="6.7" ry="8.7" transform="rotate(0 345 826)" fill="#3a3c28"/><ellipse cx="345" cy="826" rx="5" ry="7" transform="rotate(0 345 826)" fill="#eef0d0"/></g>
<path d="M229.5,686.5 Q234.5,690.5 230.5,695.5" stroke="#111" stroke-width="2.2" fill="none"/>
<circle cx="577.2" cy="773.2" r="97.5" fill="url(#scler)"/><g clip-path="url(#cscl)"><circle cx="618.4" cy="842.9" r="2.4" fill="#f7f7f5" opacity="0.85"/><circle cx="595.6" cy="858.0" r="1.8" fill="#fbfbfa" opacity="0.85"/><circle cx="491.9" cy="758.3" r="2.2" fill="#f4f4f2" opacity="0.85"/><circle cx="555.1" cy="760.1" r="2.1" fill="#cbc7a6" opacity="0.85"/><circle cx="555.0" cy="712.7" r="2.7" fill="#f6f6f2" opacity="0.85"/><circle cx="523.2" cy="809.0" r="2.3" fill="#e0e0d6" opacity="0.85"/><circle cx="550.1" cy="699.5" r="1.5" fill="#f7f7f5" opacity="0.85"/><circle cx="575.6" cy="744.2" r="1.5" fill="#f0efe0" opacity="0.85"/><circle cx="523.1" cy="754.9" r="1.7" fill="#e0e0d6" opacity="0.85"/><circle cx="543.2" cy="715.6" r="1.6" fill="#f3f3ee" opacity="0.85"/><circle cx="603.2" cy="848.9" r="3.4" fill="#fbfbfa" opacity="0.85"/><circle cx="643.0" cy="804.7" r="3.1" fill="#fbfbfa" opacity="0.85"/><circle cx="605.5" cy="862.5" r="2.3" fill="#fbfbfa" opacity="0.85"/><circle cx="533.8" cy="822.3" r="2.0" fill="#e0e0d6" opacity="0.85"/><circle cx="527.2" cy="778.1" r="1.7" fill="#f3f3ee" opacity="0.85"/><circle cx="556.7" cy="678.8" r="2.4" fill="#f4f4f2" opacity="0.85"/><circle cx="497.1" cy="746.9" r="2.6" fill="#c4c4c2" opacity="0.85"/><circle cx="536.9" cy="860.9" r="1.8" fill="#f4f4f2" opacity="0.85"/><circle cx="604.9" cy="823.6" r="2.0" fill="#e0e0d6" opacity="0.85"/><circle cx="533.0" cy="742.2" r="1.8" fill="#f3f3ee" opacity="0.85"/><circle cx="613.2" cy="754.3" r="2.1" fill="#e0e0d6" opacity="0.85"/><circle cx="544.6" cy="700.0" r="2.3" fill="#c4c4c2" opacity="0.85"/><circle cx="672.6" cy="766.7" r="1.5" fill="#fbfbfa" opacity="0.85"/><circle cx="537.6" cy="830.2" r="1.9" fill="#f6f6f2" opacity="0.85"/><circle cx="605.2" cy="745.6" r="2.2" fill="#f3f3ee" opacity="0.85"/><circle cx="507.0" cy="819.3" r="3.1" fill="#f4f4f2" opacity="0.85"/><circle cx="624.1" cy="789.1" r="1.6" fill="#e0e0d6" opacity="0.85"/><circle cx="577.7" cy="834.4" r="2.5" fill="#e0e0d6" opacity="0.85"/><circle cx="600.2" cy="803.3" r="2.2" fill="#f6f6f2" opacity="0.85"/><circle cx="575.9" cy="868.7" r="3.2" fill="#fbfbfa" opacity="0.85"/><circle cx="482.8" cy="785.7" r="3.0" fill="#f7f7f5" opacity="0.85"/><circle cx="632.8" cy="721.9" r="2.4" fill="#e8e8e6" opacity="0.85"/><circle cx="632.3" cy="734.5" r="2.3" fill="#f3f3ee" opacity="0.85"/><circle cx="563.3" cy="857.5" r="2.2" fill="#f4f4f2" opacity="0.85"/><circle cx="635.2" cy="831.8" r="2.6" fill="#f7f7f5" opacity="0.85"/><circle cx="521.5" cy="702.5" r="2.3" fill="#fbfbfa" opacity="0.85"/><circle cx="542.7" cy="696.0" r="1.8" fill="#c4c4c2" opacity="0.85"/><circle cx="601.9" cy="790.0" r="1.8" fill="#f0efe0" opacity="0.85"/><circle cx="583.1" cy="747.7" r="1.8" fill="#f0efe0" opacity="0.85"/><circle cx="627.3" cy="824.3" r="2.1" fill="#e0e0d6" opacity="0.85"/><circle cx="635.8" cy="723.5" r="1.8" fill="#c4c4c2" opacity="0.85"/><circle cx="518.1" cy="830.3" r="2.9" fill="#fbfbfa" opacity="0.85"/><circle cx="522.2" cy="731.1" r="2.7" fill="#f6f6f2" opacity="0.85"/><circle cx="579.4" cy="764.9" r="2.0" fill="#f5f4ea" opacity="0.85"/><circle cx="518.4" cy="817.1" r="2.0" fill="#c4c4c2" opacity="0.85"/><circle cx="559.3" cy="721.6" r="1.9" fill="#f3f3ee" opacity="0.85"/><circle cx="623.4" cy="842.3" r="3.1" fill="#f7f7f5" opacity="0.85"/><circle cx="599.5" cy="708.7" r="1.6" fill="#f6f6f2" opacity="0.85"/><circle cx="521.3" cy="731.9" r="2.0" fill="#f6f6f2" opacity="0.85"/><circle cx="524.8" cy="767.6" r="2.3" fill="#f6f6f2" opacity="0.85"/><circle cx="554.4" cy="764.0" r="2.2" fill="#c2bd98" opacity="0.85"/><circle cx="543.4" cy="816.6" r="1.7" fill="#e0e0d6" opacity="0.85"/><circle cx="600.6" cy="785.4" r="1.6" fill="#f5f4ea" opacity="0.85"/><circle cx="653.2" cy="746.9" r="2.4" fill="#e8e8e6" opacity="0.85"/><circle cx="486.3" cy="765.8" r="1.9" fill="#f4f4f2" opacity="0.85"/><circle cx="638.4" cy="792.6" r="1.9" fill="#f3f3ee" opacity="0.85"/><circle cx="524.7" cy="740.2" r="2.2" fill="#e0e0d6" opacity="0.85"/><circle cx="582.4" cy="833.5" r="1.8" fill="#e0e0d6" opacity="0.85"/><circle cx="645.0" cy="732.9" r="2.4" fill="#f4f4f2" opacity="0.85"/><circle cx="494.7" cy="777.4" r="3.0" fill="#c4c4c2" opacity="0.85"/><circle cx="517.8" cy="712.5" r="2.8" fill="#fbfbfa" opacity="0.85"/><circle cx="557.5" cy="729.1" r="2.1" fill="#e0e0d6" opacity="0.85"/><circle cx="510.7" cy="714.8" r="1.8" fill="#f4f4f2" opacity="0.85"/><circle cx="604.3" cy="860.3" r="1.7" fill="#c4c4c2" opacity="0.85"/><circle cx="609.1" cy="836.1" r="2.9" fill="#f6f6f2" opacity="0.85"/><circle cx="574.0" cy="707.0" r="3.0" fill="#f3f3ee" opacity="0.85"/><circle cx="609.4" cy="828.7" r="2.0" fill="#f6f6f2" opacity="0.85"/><circle cx="526.5" cy="710.7" r="1.7" fill="#f7f7f5" opacity="0.85"/><circle cx="646.0" cy="785.7" r="2.8" fill="#f3f3ee" opacity="0.85"/><circle cx="529.6" cy="771.1" r="1.9" fill="#f6f6f2" opacity="0.85"/><circle cx="508.7" cy="838.4" r="2.3" fill="#e8e8e6" opacity="0.85"/><circle cx="500.1" cy="792.6" r="2.8" fill="#c4c4c2" opacity="0.85"/><circle cx="555.1" cy="752.0" r="1.0" fill="#cbc7a6" opacity="0.85"/><circle cx="612.1" cy="685.6" r="1.5" fill="#f7f7f5" opacity="0.85"/><circle cx="557.9" cy="773.1" r="1.8" fill="#f5f4ea" opacity="0.85"/><circle cx="577.7" cy="781.7" r="1.1" fill="#cbc7a6" opacity="0.85"/><circle cx="553.4" cy="834.4" r="2.1" fill="#f3f3ee" opacity="0.85"/><circle cx="634.6" cy="838.3" r="2.5" fill="#e8e8e6" opacity="0.85"/><circle cx="617.4" cy="786.0" r="2.8" fill="#e0e0d6" opacity="0.85"/><circle cx="579.8" cy="847.1" r="3.3" fill="#fbfbfa" opacity="0.85"/><circle cx="586.8" cy="764.6" r="1.1" fill="#f0efe0" opacity="0.85"/><circle cx="645.3" cy="723.5" r="1.8" fill="#c4c4c2" opacity="0.85"/><circle cx="506.5" cy="774.4" r="2.4" fill="#f6f6f2" opacity="0.85"/><circle cx="491.4" cy="788.9" r="1.8" fill="#f7f7f5" opacity="0.85"/><circle cx="607.0" cy="816.2" r="2.4" fill="#f6f6f2" opacity="0.85"/><circle cx="597.2" cy="756.7" r="1.2" fill="#f0efe0" opacity="0.85"/><circle cx="649.6" cy="824.5" r="2.0" fill="#f7f7f5" opacity="0.85"/><circle cx="594.7" cy="780.0" r="1.3" fill="#f5f4ea" opacity="0.85"/><circle cx="592.3" cy="713.4" r="1.7" fill="#f3f3ee" opacity="0.85"/><circle cx="642.1" cy="743.1" r="1.8" fill="#e0e0d6" opacity="0.85"/><circle cx="610.3" cy="862.5" r="1.6" fill="#e8e8e6" opacity="0.85"/><circle cx="598.2" cy="733.3" r="2.6" fill="#f3f3ee" opacity="0.85"/><circle cx="516.4" cy="725.0" r="1.5" fill="#c4c4c2" opacity="0.85"/><circle cx="531.5" cy="822.8" r="2.7" fill="#e0e0d6" opacity="0.85"/><circle cx="644.1" cy="728.6" r="2.8" fill="#c4c4c2" opacity="0.85"/><circle cx="531.4" cy="711.9" r="3.2" fill="#fbfbfa" opacity="0.85"/><circle cx="637.0" cy="761.9" r="2.9" fill="#e0e0d6" opacity="0.85"/><circle cx="580.0" cy="763.3" r="1.2" fill="#c2bd98" opacity="0.85"/><circle cx="575.7" cy="788.5" r="1.8" fill="#f5f4ea" opacity="0.85"/><circle cx="626.9" cy="853.1" r="2.5" fill="#fbfbfa" opacity="0.85"/><circle cx="537.6" cy="797.4" r="2.3" fill="#f6f6f2" opacity="0.85"/><circle cx="590.6" cy="690.4" r="3.2" fill="#f7f7f5" opacity="0.85"/><circle cx="582.0" cy="848.5" r="2.5" fill="#f7f7f5" opacity="0.85"/><circle cx="600.5" cy="719.3" r="3.0" fill="#f3f3ee" opacity="0.85"/><circle cx="658.2" cy="723.0" r="3.4" fill="#f4f4f2" opacity="0.85"/><circle cx="572.0" cy="689.4" r="3.3" fill="#c4c4c2" opacity="0.85"/><circle cx="485.9" cy="759.9" r="2.1" fill="#fbfbfa" opacity="0.85"/><circle cx="619.3" cy="840.5" r="2.7" fill="#fbfbfa" opacity="0.85"/><circle cx="588.3" cy="689.4" r="2.0" fill="#c4c4c2" opacity="0.85"/><circle cx="522.9" cy="798.7" r="2.2" fill="#e0e0d6" opacity="0.85"/><circle cx="664.6" cy="795.9" r="1.6" fill="#c4c4c2" opacity="0.85"/><circle cx="610.2" cy="706.2" r="2.9" fill="#f7f7f5" opacity="0.85"/><circle cx="565.5" cy="676.7" r="1.8" fill="#e8e8e6" opacity="0.85"/><circle cx="661.4" cy="790.8" r="2.1" fill="#fbfbfa" opacity="0.85"/><circle cx="609.9" cy="715.9" r="1.8" fill="#e0e0d6" opacity="0.85"/><circle cx="568.5" cy="685.8" r="2.8" fill="#e8e8e6" opacity="0.85"/><circle cx="669.2" cy="789.0" r="2.4" fill="#c4c4c2" opacity="0.85"/><circle cx="518.1" cy="787.8" r="2.2" fill="#f6f6f2" opacity="0.85"/><circle cx="572.1" cy="747.8" r="1.9" fill="#c2bd98" opacity="0.85"/><circle cx="542.7" cy="807.7" r="2.7" fill="#e0e0d6" opacity="0.85"/><circle cx="616.3" cy="754.2" r="2.8" fill="#e0e0d6" opacity="0.85"/><circle cx="625.1" cy="798.4" r="1.7" fill="#f6f6f2" opacity="0.85"/><circle cx="578.2" cy="678.9" r="2.8" fill="#f4f4f2" opacity="0.85"/><circle cx="564.3" cy="816.9" r="1.7" fill="#f3f3ee" opacity="0.85"/><circle cx="586.3" cy="705.2" r="2.5" fill="#f3f3ee" opacity="0.85"/><circle cx="537.2" cy="840.8" r="1.5" fill="#f7f7f5" opacity="0.85"/><circle cx="605.8" cy="729.8" r="2.5" fill="#e0e0d6" opacity="0.85"/><circle cx="547.9" cy="790.9" r="2.2" fill="#f0efe0" opacity="0.85"/><circle cx="586.2" cy="854.5" r="2.5" fill="#e8e8e6" opacity="0.85"/><circle cx="635.1" cy="759.2" r="1.5" fill="#f6f6f2" opacity="0.85"/><circle cx="612.3" cy="762.1" r="2.6" fill="#e0e0d6" opacity="0.85"/><circle cx="533.9" cy="723.6" r="2.4" fill="#f6f6f2" opacity="0.85"/><circle cx="533.6" cy="790.7" r="2.8" fill="#f6f6f2" opacity="0.85"/><circle cx="624.8" cy="701.8" r="2.9" fill="#fbfbfa" opacity="0.85"/><circle cx="555.7" cy="804.9" r="2.7" fill="#f3f3ee" opacity="0.85"/><circle cx="551.2" cy="822.7" r="2.9" fill="#f3f3ee" opacity="0.85"/><circle cx="535.0" cy="785.0" r="2.4" fill="#f3f3ee" opacity="0.85"/><circle cx="603.5" cy="735.7" r="1.8" fill="#f3f3ee" opacity="0.85"/><circle cx="529.2" cy="712.6" r="2.9" fill="#f4f4f2" opacity="0.85"/><circle cx="600.9" cy="851.2" r="1.5" fill="#fbfbfa" opacity="0.85"/><circle cx="585.7" cy="728.3" r="1.6" fill="#f6f6f2" opacity="0.85"/><circle cx="598.4" cy="844.1" r="2.8" fill="#fbfbfa" opacity="0.85"/><circle cx="600.8" cy="716.3" r="2.7" fill="#e0e0d6" opacity="0.85"/><circle cx="541.9" cy="688.6" r="1.6" fill="#e8e8e6" opacity="0.85"/><circle cx="485.1" cy="774.1" r="2.4" fill="#fbfbfa" opacity="0.85"/><circle cx="653.0" cy="791.6" r="3.0" fill="#f7f7f5" opacity="0.85"/><circle cx="563.8" cy="703.5" r="1.9" fill="#f3f3ee" opacity="0.85"/><circle cx="530.1" cy="822.7" r="2.1" fill="#e0e0d6" opacity="0.85"/><circle cx="584.3" cy="751.8" r="1.7" fill="#c2bd98" opacity="0.85"/><circle cx="489.2" cy="780.5" r="2.9" fill="#c4c4c2" opacity="0.85"/><circle cx="609.2" cy="816.9" r="1.9" fill="#f3f3ee" opacity="0.85"/><circle cx="536.2" cy="689.9" r="2.2" fill="#f4f4f2" opacity="0.85"/><circle cx="619.3" cy="725.6" r="1.7" fill="#f6f6f2" opacity="0.85"/><circle cx="622.0" cy="765.3" r="2.6" fill="#e0e0d6" opacity="0.85"/><circle cx="651.1" cy="795.5" r="2.1" fill="#fbfbfa" opacity="0.85"/><circle cx="613.4" cy="859.1" r="2.5" fill="#e8e8e6" opacity="0.85"/><circle cx="600.9" cy="812.0" r="2.8" fill="#f3f3ee" opacity="0.85"/><circle cx="535.9" cy="841.3" r="3.1" fill="#c4c4c2" opacity="0.85"/><circle cx="624.6" cy="762.3" r="2.3" fill="#e0e0d6" opacity="0.85"/><circle cx="540.6" cy="809.6" r="2.8" fill="#f6f6f2" opacity="0.85"/><circle cx="601.9" cy="827.0" r="2.0" fill="#f3f3ee" opacity="0.85"/><circle cx="646.8" cy="716.7" r="2.0" fill="#c4c4c2" opacity="0.85"/><circle cx="577.2" cy="691.8" r="3.2" fill="#f4f4f2" opacity="0.85"/><circle cx="579.6" cy="870.5" r="2.6" fill="#f7f7f5" opacity="0.85"/><circle cx="614.5" cy="695.4" r="1.6" fill="#e8e8e6" opacity="0.85"/><circle cx="494.8" cy="729.3" r="3.0" fill="#c4c4c2" opacity="0.85"/><circle cx="513.3" cy="718.6" r="3.2" fill="#f4f4f2" opacity="0.85"/><circle cx="646.6" cy="718.4" r="2.4" fill="#c4c4c2" opacity="0.85"/><circle cx="556.3" cy="706.5" r="2.5" fill="#f3f3ee" opacity="0.85"/><circle cx="505.2" cy="806.8" r="3.0" fill="#f7f7f5" opacity="0.85"/><circle cx="555.9" cy="770.6" r="1.9" fill="#f0efe0" opacity="0.85"/><circle cx="593.6" cy="801.3" r="1.1" fill="#f5f4ea" opacity="0.85"/><circle cx="555.9" cy="748.6" r="1.8" fill="#c2bd98" opacity="0.85"/><circle cx="613.8" cy="735.3" r="2.9" fill="#e0e0d6" opacity="0.85"/><circle cx="528.6" cy="756.0" r="2.6" fill="#f3f3ee" opacity="0.85"/><circle cx="626.3" cy="690.1" r="2.4" fill="#f7f7f5" opacity="0.85"/><circle cx="653.7" cy="723.0" r="3.1" fill="#f7f7f5" opacity="0.85"/><circle cx="615.1" cy="816.2" r="2.0" fill="#f6f6f2" opacity="0.85"/><circle cx="517.7" cy="708.1" r="3.0" fill="#f7f7f5" opacity="0.85"/><circle cx="627.8" cy="854.7" r="1.8" fill="#f4f4f2" opacity="0.85"/><circle cx="551.7" cy="810.3" r="1.6" fill="#f3f3ee" opacity="0.85"/><circle cx="631.8" cy="783.3" r="2.3" fill="#f6f6f2" opacity="0.85"/><circle cx="629.7" cy="700.4" r="2.9" fill="#fbfbfa" opacity="0.85"/><circle cx="543.3" cy="746.1" r="2.9" fill="#f3f3ee" opacity="0.85"/><circle cx="559.6" cy="819.0" r="2.6" fill="#f3f3ee" opacity="0.85"/><circle cx="512.3" cy="831.1" r="2.9" fill="#f7f7f5" opacity="0.85"/><circle cx="571.0" cy="725.4" r="1.8" fill="#e0e0d6" opacity="0.85"/><circle cx="614.3" cy="696.1" r="3.4" fill="#c4c4c2" opacity="0.85"/><circle cx="660.0" cy="821.3" r="2.4" fill="#e8e8e6" opacity="0.85"/><circle cx="546.8" cy="692.4" r="2.9" fill="#c4c4c2" opacity="0.85"/><circle cx="557.0" cy="781.5" r="2.1" fill="#f5f4ea" opacity="0.85"/><circle cx="648.2" cy="815.0" r="3.2" fill="#e8e8e6" opacity="0.85"/><circle cx="657.6" cy="737.1" r="2.7" fill="#f4f4f2" opacity="0.85"/><circle cx="662.4" cy="778.0" r="2.5" fill="#f7f7f5" opacity="0.85"/><circle cx="576.4" cy="769.0" r="2.0" fill="#f0efe0" opacity="0.85"/><circle cx="672.3" cy="764.9" r="2.6" fill="#f4f4f2" opacity="0.85"/><circle cx="527.6" cy="830.6" r="3.0" fill="#e8e8e6" opacity="0.85"/><circle cx="527.1" cy="776.8" r="1.9" fill="#f6f6f2" opacity="0.85"/><circle cx="581.2" cy="727.1" r="2.9" fill="#f3f3ee" opacity="0.85"/><circle cx="635.7" cy="846.0" r="2.6" fill="#f7f7f5" opacity="0.85"/><circle cx="584.5" cy="712.6" r="1.7" fill="#f6f6f2" opacity="0.85"/><circle cx="555.6" cy="768.6" r="1.8" fill="#f0efe0" opacity="0.85"/><circle cx="627.8" cy="730.6" r="1.9" fill="#e0e0d6" opacity="0.85"/><circle cx="618.3" cy="705.6" r="2.0" fill="#e8e8e6" opacity="0.85"/><circle cx="602.2" cy="842.6" r="2.7" fill="#f7f7f5" opacity="0.85"/><circle cx="575.2" cy="702.0" r="2.4" fill="#f3f3ee" opacity="0.85"/><circle cx="622.3" cy="751.3" r="1.8" fill="#f6f6f2" opacity="0.85"/><circle cx="484.8" cy="749.0" r="1.7" fill="#c4c4c2" opacity="0.85"/><circle cx="568.9" cy="723.7" r="2.1" fill="#e0e0d6" opacity="0.85"/><circle cx="529.8" cy="762.6" r="1.6" fill="#e0e0d6" opacity="0.85"/><circle cx="507.9" cy="719.4" r="3.1" fill="#f4f4f2" opacity="0.85"/><circle cx="554.7" cy="763.8" r="1.8" fill="#cbc7a6" opacity="0.85"/><circle cx="504.8" cy="768.4" r="2.7" fill="#c4c4c2" opacity="0.85"/><circle cx="546.3" cy="680.9" r="2.0" fill="#e8e8e6" opacity="0.85"/><circle cx="554.5" cy="713.3" r="2.6" fill="#f3f3ee" opacity="0.85"/><circle cx="639.0" cy="760.8" r="2.5" fill="#f6f6f2" opacity="0.85"/><circle cx="571.6" cy="855.8" r="2.4" fill="#e8e8e6" opacity="0.85"/><circle cx="498.3" cy="725.5" r="2.8" fill="#f4f4f2" opacity="0.85"/><circle cx="576.1" cy="868.8" r="2.3" fill="#fbfbfa" opacity="0.85"/><circle cx="652.4" cy="801.4" r="3.1" fill="#c4c4c2" opacity="0.85"/><circle cx="640.1" cy="820.9" r="1.8" fill="#c4c4c2" opacity="0.85"/><circle cx="529.4" cy="746.5" r="2.6" fill="#f6f6f2" opacity="0.85"/><circle cx="564.2" cy="748.0" r="2.0" fill="#f0efe0" opacity="0.85"/><circle cx="487.5" cy="784.0" r="1.8" fill="#fbfbfa" opacity="0.85"/><circle cx="635.2" cy="758.4" r="2.2" fill="#e0e0d6" opacity="0.85"/><circle cx="615.5" cy="783.5" r="2.9" fill="#f3f3ee" opacity="0.85"/><circle cx="521.0" cy="826.0" r="2.3" fill="#c4c4c2" opacity="0.85"/><circle cx="632.7" cy="760.0" r="2.5" fill="#f6f6f2" opacity="0.85"/><circle cx="522.6" cy="703.2" r="1.7" fill="#f4f4f2" opacity="0.85"/><circle cx="560.1" cy="801.5" r="2.0" fill="#f5f4ea" opacity="0.85"/><circle cx="545.1" cy="825.9" r="2.2" fill="#f6f6f2" opacity="0.85"/><circle cx="649.0" cy="815.1" r="1.6" fill="#e8e8e6" opacity="0.85"/><circle cx="586.6" cy="680.5" r="2.0" fill="#fbfbfa" opacity="0.85"/><circle cx="534.0" cy="826.8" r="2.8" fill="#e0e0d6" opacity="0.85"/><circle cx="517.0" cy="790.2" r="2.7" fill="#e0e0d6" opacity="0.85"/><circle cx="583.9" cy="681.8" r="2.3" fill="#f4f4f2" opacity="0.85"/><circle cx="563.2" cy="755.3" r="1.3" fill="#c2bd98" opacity="0.85"/><circle cx="570.9" cy="846.8" r="2.3" fill="#fbfbfa" opacity="0.85"/><circle cx="595.3" cy="681.2" r="2.2" fill="#e8e8e6" opacity="0.85"/><circle cx="525.2" cy="852.5" r="2.1" fill="#c4c4c2" opacity="0.85"/><circle cx="605.3" cy="729.5" r="2.5" fill="#e0e0d6" opacity="0.85"/><circle cx="653.6" cy="785.9" r="1.6" fill="#f7f7f5" opacity="0.85"/><circle cx="628.1" cy="819.5" r="2.2" fill="#f6f6f2" opacity="0.85"/><circle cx="601.3" cy="680.1" r="2.2" fill="#f7f7f5" opacity="0.85"/><circle cx="550.7" cy="768.8" r="1.2" fill="#cbc7a6" opacity="0.85"/><circle cx="577.2" cy="746.1" r="1.8" fill="#c2bd98" opacity="0.85"/><circle cx="483.0" cy="755.3" r="2.3" fill="#fbfbfa" opacity="0.85"/><circle cx="632.2" cy="816.6" r="1.6" fill="#f3f3ee" opacity="0.85"/><circle cx="507.2" cy="709.2" r="1.9" fill="#e8e8e6" opacity="0.85"/><circle cx="590.6" cy="728.6" r="1.5" fill="#f3f3ee" opacity="0.85"/><circle cx="551.1" cy="737.9" r="2.4" fill="#e0e0d6" opacity="0.85"/><circle cx="508.9" cy="725.0" r="1.7" fill="#fbfbfa" opacity="0.85"/><circle cx="504.4" cy="824.9" r="3.2" fill="#fbfbfa" opacity="0.85"/><circle cx="638.2" cy="713.9" r="2.8" fill="#f4f4f2" opacity="0.85"/><circle cx="601.4" cy="731.5" r="2.7" fill="#e0e0d6" opacity="0.85"/><circle cx="555.8" cy="784.5" r="1.9" fill="#f5f4ea" opacity="0.85"/><circle cx="575.3" cy="786.7" r="1.0" fill="#cbc7a6" opacity="0.85"/><circle cx="482.5" cy="782.3" r="2.1" fill="#e8e8e6" opacity="0.85"/><circle cx="554.6" cy="694.2" r="2.6" fill="#f4f4f2" opacity="0.85"/><circle cx="567.6" cy="849.9" r="2.0" fill="#f4f4f2" opacity="0.85"/><circle cx="560.0" cy="811.3" r="1.7" fill="#f3f3ee" opacity="0.85"/><circle cx="544.4" cy="750.1" r="2.7" fill="#f3f3ee" opacity="0.85"/><circle cx="538.1" cy="770.3" r="2.3" fill="#f6f6f2" opacity="0.85"/><circle cx="601.4" cy="679.8" r="2.3" fill="#f7f7f5" opacity="0.85"/><circle cx="558.6" cy="751.2" r="1.5" fill="#c2bd98" opacity="0.85"/><circle cx="485.3" cy="787.6" r="2.4" fill="#f4f4f2" opacity="0.85"/><circle cx="517.1" cy="706.3" r="2.5" fill="#c4c4c2" opacity="0.85"/><circle cx="576.0" cy="775.2" r="1.8" fill="#f5f4ea" opacity="0.85"/><circle cx="536.6" cy="727.3" r="1.7" fill="#f6f6f2" opacity="0.85"/><circle cx="510.9" cy="760.4" r="2.9" fill="#e0e0d6" opacity="0.85"/><circle cx="614.5" cy="791.2" r="1.7" fill="#f3f3ee" opacity="0.85"/><circle cx="640.2" cy="734.4" r="3.3" fill="#e8e8e6" opacity="0.85"/><circle cx="548.2" cy="740.4" r="2.8" fill="#e0e0d6" opacity="0.85"/><circle cx="541.8" cy="856.7" r="2.7" fill="#c4c4c2" opacity="0.85"/><circle cx="560.9" cy="851.4" r="2.1" fill="#f7f7f5" opacity="0.85"/><circle cx="543.8" cy="802.4" r="1.8" fill="#f6f6f2" opacity="0.85"/><circle cx="610.0" cy="726.7" r="1.5" fill="#f6f6f2" opacity="0.85"/><circle cx="587.6" cy="726.0" r="2.5" fill="#e0e0d6" opacity="0.85"/><circle cx="522.2" cy="744.0" r="2.4" fill="#f6f6f2" opacity="0.85"/><circle cx="538.8" cy="834.6" r="1.6" fill="#fbfbfa" opacity="0.85"/><circle cx="641.6" cy="788.4" r="2.5" fill="#e0e0d6" opacity="0.85"/><circle cx="509.6" cy="793.6" r="2.2" fill="#f6f6f2" opacity="0.85"/><circle cx="558.6" cy="730.5" r="2.8" fill="#f6f6f2" opacity="0.85"/><circle cx="557.2" cy="771.0" r="1.1" fill="#f5f4ea" opacity="0.85"/><circle cx="512.6" cy="748.3" r="1.9" fill="#e0e0d6" opacity="0.85"/><circle cx="625.1" cy="753.0" r="1.9" fill="#f3f3ee" opacity="0.85"/><circle cx="547.2" cy="856.4" r="1.6" fill="#c4c4c2" opacity="0.85"/><circle cx="535.2" cy="845.0" r="2.3" fill="#f7f7f5" opacity="0.85"/><circle cx="667.1" cy="763.6" r="2.8" fill="#f7f7f5" opacity="0.85"/><circle cx="489.7" cy="781.9" r="1.9" fill="#fbfbfa" opacity="0.85"/><circle cx="538.8" cy="744.1" r="2.2" fill="#f6f6f2" opacity="0.85"/><circle cx="531.0" cy="735.2" r="2.0" fill="#f3f3ee" opacity="0.85"/><circle cx="615.3" cy="825.9" r="2.8" fill="#f6f6f2" opacity="0.85"/><circle cx="484.9" cy="742.6" r="2.2" fill="#e8e8e6" opacity="0.85"/><circle cx="559.9" cy="813.0" r="2.4" fill="#e0e0d6" opacity="0.85"/><circle cx="606.5" cy="709.2" r="2.1" fill="#e0e0d6" opacity="0.85"/><circle cx="538.7" cy="695.2" r="2.7" fill="#fbfbfa" opacity="0.85"/><circle cx="616.4" cy="848.4" r="2.1" fill="#e8e8e6" opacity="0.85"/><circle cx="641.2" cy="829.4" r="2.8" fill="#c4c4c2" opacity="0.85"/><circle cx="574.4" cy="756.2" r="1.8" fill="#cbc7a6" opacity="0.85"/><circle cx="600.4" cy="761.3" r="1.2" fill="#f5f4ea" opacity="0.85"/><circle cx="595.9" cy="835.4" r="1.6" fill="#f6f6f2" opacity="0.85"/><circle cx="630.1" cy="730.0" r="1.6" fill="#f6f6f2" opacity="0.85"/><circle cx="513.6" cy="780.1" r="1.8" fill="#f6f6f2" opacity="0.85"/><circle cx="594.4" cy="685.0" r="2.6" fill="#f4f4f2" opacity="0.85"/><circle cx="542.1" cy="728.0" r="2.0" fill="#f3f3ee" opacity="0.85"/><circle cx="522.1" cy="719.1" r="1.7" fill="#fbfbfa" opacity="0.85"/><circle cx="603.0" cy="825.5" r="1.6" fill="#e0e0d6" opacity="0.85"/><circle cx="505.6" cy="726.8" r="2.4" fill="#fbfbfa" opacity="0.85"/><circle cx="550.6" cy="846.7" r="1.9" fill="#e8e8e6" opacity="0.85"/><circle cx="628.3" cy="790.2" r="2.5" fill="#e0e0d6" opacity="0.85"/><circle cx="550.9" cy="780.1" r="1.5" fill="#c2bd98" opacity="0.85"/><circle cx="513.8" cy="705.1" r="3.1" fill="#fbfbfa" opacity="0.85"/><circle cx="551.6" cy="835.7" r="2.8" fill="#e0e0d6" opacity="0.85"/><circle cx="613.1" cy="726.2" r="2.0" fill="#f3f3ee" opacity="0.85"/><circle cx="589.4" cy="770.5" r="2.0" fill="#cbc7a6" opacity="0.85"/><circle cx="539.8" cy="826.3" r="1.7" fill="#f3f3ee" opacity="0.85"/><circle cx="611.5" cy="786.8" r="1.7" fill="#f3f3ee" opacity="0.85"/><circle cx="642.2" cy="734.7" r="2.5" fill="#e8e8e6" opacity="0.85"/><circle cx="572.9" cy="846.3" r="1.8" fill="#c4c4c2" opacity="0.85"/><circle cx="635.1" cy="764.6" r="1.6" fill="#e0e0d6" opacity="0.85"/><circle cx="596.6" cy="697.3" r="1.9" fill="#f4f4f2" opacity="0.85"/><circle cx="585.7" cy="841.7" r="1.8" fill="#e0e0d6" opacity="0.85"/><circle cx="558.2" cy="860.8" r="2.3" fill="#c4c4c2" opacity="0.85"/><circle cx="583.9" cy="709.6" r="1.5" fill="#e0e0d6" opacity="0.85"/><circle cx="636.2" cy="709.6" r="1.9" fill="#f7f7f5" opacity="0.85"/><circle cx="524.1" cy="725.1" r="1.7" fill="#f6f6f2" opacity="0.85"/><circle cx="514.9" cy="707.7" r="1.7" fill="#c4c4c2" opacity="0.85"/><circle cx="596.8" cy="710.8" r="2.2" fill="#f6f6f2" opacity="0.85"/><circle cx="661.0" cy="728.0" r="2.7" fill="#f7f7f5" opacity="0.85"/><circle cx="572.1" cy="815.8" r="2.6" fill="#f6f6f2" opacity="0.85"/><circle cx="582.6" cy="775.6" r="2.1" fill="#c2bd98" opacity="0.85"/><circle cx="648.9" cy="727.8" r="3.0" fill="#fbfbfa" opacity="0.85"/><circle cx="502.2" cy="759.2" r="3.1" fill="#f4f4f2" opacity="0.85"/><circle cx="547.7" cy="863.6" r="1.5" fill="#e8e8e6" opacity="0.85"/><circle cx="564.9" cy="696.9" r="3.2" fill="#e8e8e6" opacity="0.85"/><circle cx="612.3" cy="768.4" r="3.0" fill="#f3f3ee" opacity="0.85"/><circle cx="639.3" cy="740.9" r="2.7" fill="#e0e0d6" opacity="0.85"/><circle cx="606.1" cy="855.4" r="1.9" fill="#f7f7f5" opacity="0.85"/><circle cx="649.6" cy="723.1" r="1.8" fill="#c4c4c2" opacity="0.85"/><circle cx="550.9" cy="856.4" r="2.6" fill="#c4c4c2" opacity="0.85"/><circle cx="620.0" cy="720.1" r="2.6" fill="#f3f3ee" opacity="0.85"/><circle cx="611.9" cy="806.8" r="2.7" fill="#f6f6f2" opacity="0.85"/><circle cx="522.0" cy="792.4" r="2.2" fill="#e0e0d6" opacity="0.85"/><circle cx="643.8" cy="739.9" r="2.8" fill="#fbfbfa" opacity="0.85"/><circle cx="543.5" cy="775.1" r="1.7" fill="#f0efe0" opacity="0.85"/><circle cx="570.4" cy="779.3" r="1.0" fill="#cbc7a6" opacity="0.85"/><circle cx="588.6" cy="732.8" r="1.9" fill="#f6f6f2" opacity="0.85"/><circle cx="542.1" cy="835.8" r="2.6" fill="#f3f3ee" opacity="0.85"/><circle cx="601.4" cy="705.8" r="2.5" fill="#e0e0d6" opacity="0.85"/><circle cx="576.8" cy="771.1" r="1.7" fill="#f0efe0" opacity="0.85"/><circle cx="542.3" cy="688.5" r="2.4" fill="#e8e8e6" opacity="0.85"/><circle cx="634.2" cy="815.2" r="3.0" fill="#f3f3ee" opacity="0.85"/><circle cx="535.6" cy="856.6" r="2.4" fill="#e8e8e6" opacity="0.85"/><circle cx="567.3" cy="818.0" r="1.9" fill="#f3f3ee" opacity="0.85"/><circle cx="664.8" cy="778.8" r="1.6" fill="#f4f4f2" opacity="0.85"/><circle cx="563.4" cy="708.8" r="2.9" fill="#f6f6f2" opacity="0.85"/><circle cx="630.5" cy="742.4" r="2.1" fill="#e0e0d6" opacity="0.85"/><circle cx="492.3" cy="812.2" r="1.8" fill="#c4c4c2" opacity="0.85"/><circle cx="607.4" cy="762.9" r="1.6" fill="#cbc7a6" opacity="0.85"/><circle cx="552.5" cy="757.3" r="1.6" fill="#cbc7a6" opacity="0.85"/><circle cx="580.3" cy="855.5" r="2.9" fill="#f4f4f2" opacity="0.85"/><circle cx="503.3" cy="813.0" r="1.5" fill="#e8e8e6" opacity="0.85"/><circle cx="611.8" cy="729.7" r="2.1" fill="#f6f6f2" opacity="0.85"/><circle cx="586.2" cy="739.1" r="1.6" fill="#f6f6f2" opacity="0.85"/><circle cx="488.4" cy="812.1" r="2.5" fill="#f4f4f2" opacity="0.85"/><circle cx="608.3" cy="770.3" r="2.2" fill="#f5f4ea" opacity="0.85"/><circle cx="550.9" cy="782.1" r="1.1" fill="#f5f4ea" opacity="0.85"/><circle cx="529.0" cy="789.6" r="2.7" fill="#f3f3ee" opacity="0.85"/><circle cx="633.8" cy="823.5" r="3.2" fill="#c4c4c2" opacity="0.85"/><circle cx="568.7" cy="683.7" r="2.8" fill="#f7f7f5" opacity="0.85"/><circle cx="531.2" cy="765.4" r="1.5" fill="#f3f3ee" opacity="0.85"/><circle cx="593.8" cy="724.2" r="2.4" fill="#f6f6f2" opacity="0.85"/><circle cx="533.4" cy="784.8" r="2.8" fill="#f6f6f2" opacity="0.85"/><circle cx="649.8" cy="754.9" r="2.0" fill="#f7f7f5" opacity="0.85"/><circle cx="500.8" cy="786.2" r="2.6" fill="#fbfbfa" opacity="0.85"/><circle cx="638.9" cy="704.8" r="1.9" fill="#c4c4c2" opacity="0.85"/><circle cx="562.7" cy="797.7" r="1.4" fill="#c2bd98" opacity="0.85"/><circle cx="519.1" cy="812.9" r="1.7" fill="#f6f6f2" opacity="0.85"/><circle cx="658.6" cy="726.9" r="2.7" fill="#c4c4c2" opacity="0.85"/><circle cx="517.6" cy="775.3" r="1.5" fill="#f6f6f2" opacity="0.85"/><circle cx="653.0" cy="818.7" r="2.9" fill="#f4f4f2" opacity="0.85"/><circle cx="555.5" cy="791.1" r="1.4" fill="#f5f4ea" opacity="0.85"/><circle cx="510.8" cy="805.5" r="1.8" fill="#e8e8e6" opacity="0.85"/><circle cx="609.3" cy="785.5" r="1.1" fill="#c2bd98" opacity="0.85"/><circle cx="638.3" cy="766.5" r="2.0" fill="#f3f3ee" opacity="0.85"/><circle cx="559.9" cy="799.5" r="2.0" fill="#f0efe0" opacity="0.85"/><circle cx="617.4" cy="787.4" r="3.0" fill="#f6f6f2" opacity="0.85"/><circle cx="621.4" cy="794.2" r="2.5" fill="#e0e0d6" opacity="0.85"/><circle cx="594.2" cy="752.4" r="1.8" fill="#f5f4ea" opacity="0.85"/><circle cx="609.3" cy="750.0" r="1.9" fill="#f3f3ee" opacity="0.85"/><circle cx="602.6" cy="827.2" r="1.7" fill="#f6f6f2" opacity="0.85"/><circle cx="525.3" cy="705.8" r="3.2" fill="#e8e8e6" opacity="0.85"/><circle cx="640.2" cy="846.8" r="1.6" fill="#f7f7f5" opacity="0.85"/><circle cx="665.6" cy="806.2" r="2.8" fill="#f4f4f2" opacity="0.85"/><circle cx="615.5" cy="768.6" r="2.4" fill="#e0e0d6" opacity="0.85"/><circle cx="533.4" cy="700.7" r="2.5" fill="#f7f7f5" opacity="0.85"/><circle cx="665.4" cy="770.3" r="1.5" fill="#f7f7f5" opacity="0.85"/><circle cx="641.7" cy="798.0" r="1.6" fill="#f3f3ee" opacity="0.85"/><circle cx="516.0" cy="798.7" r="2.1" fill="#f3f3ee" opacity="0.85"/><circle cx="580.9" cy="735.0" r="1.8" fill="#e0e0d6" opacity="0.85"/><circle cx="493.1" cy="759.1" r="2.5" fill="#f7f7f5" opacity="0.85"/><circle cx="486.6" cy="793.2" r="1.8" fill="#f4f4f2" opacity="0.85"/><circle cx="529.9" cy="726.3" r="2.1" fill="#f6f6f2" opacity="0.85"/><circle cx="672.3" cy="761.6" r="1.9" fill="#f4f4f2" opacity="0.85"/><circle cx="641.8" cy="813.8" r="2.9" fill="#c4c4c2" opacity="0.85"/><circle cx="520.4" cy="702.8" r="3.0" fill="#f7f7f5" opacity="0.85"/><circle cx="556.3" cy="792.6" r="1.2" fill="#f0efe0" opacity="0.85"/><circle cx="613.0" cy="728.5" r="3.0" fill="#f3f3ee" opacity="0.85"/><circle cx="630.6" cy="758.8" r="1.7" fill="#f6f6f2" opacity="0.85"/><circle cx="616.9" cy="835.8" r="1.6" fill="#f7f7f5" opacity="0.85"/><circle cx="567.2" cy="765.2" r="1.4" fill="#f0efe0" opacity="0.85"/><circle cx="513.7" cy="724.2" r="3.3" fill="#f4f4f2" opacity="0.85"/><circle cx="496.5" cy="815.0" r="1.5" fill="#f7f7f5" opacity="0.85"/><circle cx="575.4" cy="790.2" r="2.1" fill="#cbc7a6" opacity="0.85"/><circle cx="592.8" cy="744.8" r="1.2" fill="#cbc7a6" opacity="0.85"/><circle cx="503.0" cy="817.7" r="3.3" fill="#e8e8e6" opacity="0.85"/><circle cx="546.4" cy="810.1" r="2.2" fill="#e0e0d6" opacity="0.85"/><circle cx="551.1" cy="797.2" r="2.4" fill="#e0e0d6" opacity="0.85"/><circle cx="626.9" cy="829.8" r="2.2" fill="#f4f4f2" opacity="0.85"/><circle cx="492.1" cy="786.1" r="2.3" fill="#fbfbfa" opacity="0.85"/><circle cx="543.7" cy="783.7" r="2.6" fill="#f6f6f2" opacity="0.85"/><circle cx="556.0" cy="758.4" r="1.1" fill="#cbc7a6" opacity="0.85"/><circle cx="512.4" cy="792.5" r="2.5" fill="#f3f3ee" opacity="0.85"/><circle cx="615.2" cy="751.7" r="2.6" fill="#e0e0d6" opacity="0.85"/><circle cx="573.4" cy="698.3" r="1.6" fill="#f4f4f2" opacity="0.85"/><circle cx="602.2" cy="855.8" r="1.8" fill="#c4c4c2" opacity="0.85"/><circle cx="600.0" cy="859.7" r="3.2" fill="#c4c4c2" opacity="0.85"/><circle cx="504.4" cy="828.5" r="2.6" fill="#c4c4c2" opacity="0.85"/><circle cx="622.4" cy="806.8" r="1.9" fill="#e0e0d6" opacity="0.85"/><circle cx="540.4" cy="749.7" r="2.8" fill="#f6f6f2" opacity="0.85"/><circle cx="578.8" cy="735.6" r="1.7" fill="#e0e0d6" opacity="0.85"/><circle cx="598.3" cy="702.3" r="3.2" fill="#fbfbfa" opacity="0.85"/><circle cx="615.7" cy="849.0" r="2.8" fill="#e8e8e6" opacity="0.85"/><circle cx="516.2" cy="706.3" r="2.6" fill="#fbfbfa" opacity="0.85"/><circle cx="531.1" cy="757.2" r="1.7" fill="#f6f6f2" opacity="0.85"/><circle cx="490.0" cy="795.1" r="2.0" fill="#fbfbfa" opacity="0.85"/><circle cx="638.1" cy="737.1" r="1.8" fill="#e0e0d6" opacity="0.85"/><circle cx="546.1" cy="688.1" r="2.8" fill="#fbfbfa" opacity="0.85"/><circle cx="652.8" cy="750.0" r="2.8" fill="#c4c4c2" opacity="0.85"/><circle cx="622.3" cy="691.5" r="3.3" fill="#f7f7f5" opacity="0.85"/><circle cx="599.2" cy="709.8" r="2.4" fill="#f3f3ee" opacity="0.85"/><circle cx="602.0" cy="759.3" r="1.9" fill="#f5f4ea" opacity="0.85"/><circle cx="515.1" cy="756.4" r="2.1" fill="#e0e0d6" opacity="0.85"/><circle cx="629.2" cy="791.4" r="2.3" fill="#f6f6f2" opacity="0.85"/><circle cx="642.2" cy="845.3" r="2.9" fill="#e8e8e6" opacity="0.85"/><circle cx="493.4" cy="761.5" r="3.0" fill="#e8e8e6" opacity="0.85"/><circle cx="556.3" cy="773.1" r="1.0" fill="#cbc7a6" opacity="0.85"/><circle cx="579.0" cy="816.0" r="2.2" fill="#e0e0d6" opacity="0.85"/><circle cx="567.7" cy="812.0" r="2.1" fill="#f6f6f2" opacity="0.85"/><circle cx="549.2" cy="703.8" r="3.0" fill="#f7f7f5" opacity="0.85"/><circle cx="501.8" cy="754.9" r="2.4" fill="#fbfbfa" opacity="0.85"/><circle cx="566.4" cy="734.6" r="2.4" fill="#e0e0d6" opacity="0.85"/><circle cx="605.1" cy="845.0" r="2.1" fill="#e8e8e6" opacity="0.85"/><circle cx="567.2" cy="751.3" r="2.2" fill="#c2bd98" opacity="0.85"/><circle cx="552.3" cy="836.4" r="1.9" fill="#e0e0d6" opacity="0.85"/><circle cx="565.8" cy="854.9" r="1.7" fill="#e8e8e6" opacity="0.85"/><circle cx="606.6" cy="838.5" r="1.8" fill="#f3f3ee" opacity="0.85"/><circle cx="587.0" cy="795.9" r="1.7" fill="#c2bd98" opacity="0.85"/><circle cx="595.8" cy="754.8" r="2.1" fill="#f5f4ea" opacity="0.85"/><circle cx="641.6" cy="743.9" r="2.9" fill="#f3f3ee" opacity="0.85"/><circle cx="546.6" cy="771.9" r="1.2" fill="#c2bd98" opacity="0.85"/><circle cx="555.9" cy="831.4" r="1.9" fill="#f3f3ee" opacity="0.85"/><circle cx="569.2" cy="740.4" r="1.7" fill="#cbc7a6" opacity="0.85"/><circle cx="573.8" cy="699.5" r="3.2" fill="#c4c4c2" opacity="0.85"/><circle cx="519.1" cy="766.2" r="2.4" fill="#f6f6f2" opacity="0.85"/><circle cx="559.5" cy="690.0" r="2.0" fill="#e8e8e6" opacity="0.85"/><circle cx="558.3" cy="850.2" r="2.8" fill="#f4f4f2" opacity="0.85"/><circle cx="561.2" cy="806.1" r="2.4" fill="#e0e0d6" opacity="0.85"/><circle cx="589.1" cy="850.2" r="2.2" fill="#f7f7f5" opacity="0.85"/><circle cx="557.5" cy="805.4" r="1.7" fill="#e0e0d6" opacity="0.85"/><circle cx="605.4" cy="770.7" r="1.5" fill="#f0efe0" opacity="0.85"/><circle cx="585.8" cy="688.3" r="2.7" fill="#e8e8e6" opacity="0.85"/><circle cx="661.4" cy="772.9" r="2.6" fill="#f7f7f5" opacity="0.85"/><circle cx="499.7" cy="760.9" r="3.3" fill="#f4f4f2" opacity="0.85"/><circle cx="525.8" cy="841.1" r="2.1" fill="#f7f7f5" opacity="0.85"/><circle cx="597.7" cy="774.3" r="1.3" fill="#c2bd98" opacity="0.85"/><circle cx="624.7" cy="795.9" r="2.3" fill="#f3f3ee" opacity="0.85"/><circle cx="615.3" cy="691.2" r="2.5" fill="#f4f4f2" opacity="0.85"/><circle cx="537.9" cy="745.8" r="2.8" fill="#e0e0d6" opacity="0.85"/><circle cx="593.6" cy="725.0" r="1.8" fill="#f3f3ee" opacity="0.85"/><circle cx="485.7" cy="786.0" r="2.0" fill="#c4c4c2" opacity="0.85"/><circle cx="542.8" cy="811.9" r="2.0" fill="#f6f6f2" opacity="0.85"/><circle cx="619.6" cy="703.8" r="2.5" fill="#c4c4c2" opacity="0.85"/><circle cx="561.1" cy="852.4" r="2.3" fill="#e8e8e6" opacity="0.85"/><circle cx="658.2" cy="754.0" r="2.1" fill="#f4f4f2" opacity="0.85"/><circle cx="591.2" cy="707.8" r="2.9" fill="#e0e0d6" opacity="0.85"/><circle cx="629.8" cy="807.0" r="1.9" fill="#e0e0d6" opacity="0.85"/><circle cx="630.4" cy="704.5" r="3.0" fill="#e8e8e6" opacity="0.85"/><circle cx="544.4" cy="788.8" r="2.9" fill="#f3f3ee" opacity="0.85"/><circle cx="649.8" cy="831.1" r="3.4" fill="#c4c4c2" opacity="0.85"/><circle cx="641.5" cy="752.0" r="1.7" fill="#f3f3ee" opacity="0.85"/><circle cx="517.9" cy="697.9" r="3.1" fill="#c4c4c2" opacity="0.85"/><circle cx="608.0" cy="820.7" r="2.9" fill="#f3f3ee" opacity="0.85"/><circle cx="565.7" cy="847.8" r="2.0" fill="#f4f4f2" opacity="0.85"/><circle cx="506.8" cy="744.4" r="2.4" fill="#fbfbfa" opacity="0.85"/><circle cx="599.9" cy="793.9" r="1.3" fill="#cbc7a6" opacity="0.85"/><circle cx="587.5" cy="760.9" r="1.2" fill="#f5f4ea" opacity="0.85"/><circle cx="657.0" cy="795.0" r="2.6" fill="#e8e8e6" opacity="0.85"/><circle cx="526.6" cy="718.7" r="2.7" fill="#f4f4f2" opacity="0.85"/><circle cx="626.5" cy="848.0" r="1.7" fill="#f4f4f2" opacity="0.85"/><circle cx="512.8" cy="704.7" r="3.4" fill="#e8e8e6" opacity="0.85"/><circle cx="606.5" cy="803.1" r="1.5" fill="#e0e0d6" opacity="0.85"/><circle cx="566.0" cy="684.2" r="3.2" fill="#f7f7f5" opacity="0.85"/><circle cx="579.8" cy="791.6" r="1.1" fill="#cbc7a6" opacity="0.85"/><circle cx="592.5" cy="787.4" r="1.0" fill="#f0efe0" opacity="0.85"/><circle cx="539.1" cy="737.7" r="2.1" fill="#f6f6f2" opacity="0.85"/><circle cx="619.8" cy="700.1" r="1.7" fill="#f7f7f5" opacity="0.85"/><circle cx="595.4" cy="703.1" r="2.3" fill="#f7f7f5" opacity="0.85"/><circle cx="617.2" cy="831.3" r="2.2" fill="#f6f6f2" opacity="0.85"/><circle cx="577.6" cy="762.5" r="1.1" fill="#cbc7a6" opacity="0.85"/><circle cx="538.2" cy="757.0" r="2.6" fill="#e0e0d6" opacity="0.85"/><circle cx="615.7" cy="713.8" r="1.6" fill="#f3f3ee" opacity="0.85"/><circle cx="644.7" cy="707.2" r="2.2" fill="#c4c4c2" opacity="0.85"/><circle cx="500.5" cy="754.4" r="1.7" fill="#c4c4c2" opacity="0.85"/><circle cx="532.7" cy="770.2" r="2.3" fill="#f6f6f2" opacity="0.85"/><circle cx="638.0" cy="731.9" r="1.6" fill="#e8e8e6" opacity="0.85"/><circle cx="539.8" cy="687.3" r="3.3" fill="#f4f4f2" opacity="0.85"/><circle cx="580.4" cy="690.0" r="2.4" fill="#fbfbfa" opacity="0.85"/><circle cx="650.9" cy="796.6" r="2.4" fill="#c4c4c2" opacity="0.85"/><circle cx="529.8" cy="826.9" r="2.0" fill="#f6f6f2" opacity="0.85"/><circle cx="612.0" cy="689.2" r="2.2" fill="#c4c4c2" opacity="0.85"/><circle cx="594.6" cy="798.9" r="1.8" fill="#cbc7a6" opacity="0.85"/><circle cx="514.1" cy="790.8" r="2.6" fill="#f3f3ee" opacity="0.85"/><circle cx="558.9" cy="793.8" r="1.5" fill="#c2bd98" opacity="0.85"/><circle cx="639.2" cy="763.3" r="2.6" fill="#f6f6f2" opacity="0.85"/><circle cx="585.2" cy="861.4" r="1.9" fill="#e8e8e6" opacity="0.85"/><circle cx="590.4" cy="840.4" r="2.1" fill="#f3f3ee" opacity="0.85"/><circle cx="550.0" cy="739.2" r="2.7" fill="#f3f3ee" opacity="0.85"/><circle cx="623.6" cy="703.9" r="3.0" fill="#e8e8e6" opacity="0.85"/><circle cx="511.3" cy="716.2" r="2.9" fill="#f4f4f2" opacity="0.85"/><circle cx="624.6" cy="776.6" r="2.4" fill="#f6f6f2" opacity="0.85"/><circle cx="554.1" cy="686.6" r="2.4" fill="#f4f4f2" opacity="0.85"/><circle cx="644.3" cy="752.1" r="2.2" fill="#f3f3ee" opacity="0.85"/><circle cx="543.4" cy="721.7" r="2.3" fill="#f6f6f2" opacity="0.85"/><circle cx="493.1" cy="796.8" r="2.0" fill="#e8e8e6" opacity="0.85"/><circle cx="572.6" cy="870.3" r="3.4" fill="#f7f7f5" opacity="0.85"/><circle cx="517.6" cy="813.6" r="2.2" fill="#f3f3ee" opacity="0.85"/><circle cx="567.1" cy="837.2" r="2.6" fill="#f3f3ee" opacity="0.85"/><circle cx="662.3" cy="732.9" r="3.2" fill="#f7f7f5" opacity="0.85"/><circle cx="540.5" cy="715.8" r="2.9" fill="#e0e0d6" opacity="0.85"/><circle cx="549.1" cy="821.3" r="1.7" fill="#e0e0d6" opacity="0.85"/><circle cx="554.8" cy="800.9" r="2.7" fill="#f6f6f2" opacity="0.85"/><circle cx="643.2" cy="747.0" r="2.9" fill="#e0e0d6" opacity="0.85"/><circle cx="612.4" cy="762.9" r="1.5" fill="#e0e0d6" opacity="0.85"/><circle cx="590.6" cy="842.5" r="2.6" fill="#f6f6f2" opacity="0.85"/><circle cx="589.5" cy="868.2" r="3.2" fill="#f7f7f5" opacity="0.85"/><circle cx="584.9" cy="704.4" r="2.6" fill="#f6f6f2" opacity="0.85"/><circle cx="492.1" cy="771.4" r="1.7" fill="#e8e8e6" opacity="0.85"/><circle cx="588.3" cy="740.8" r="1.8" fill="#f0efe0" opacity="0.85"/><circle cx="559.2" cy="792.1" r="1.6" fill="#f5f4ea" opacity="0.85"/><circle cx="518.6" cy="724.3" r="2.8" fill="#f7f7f5" opacity="0.85"/><circle cx="535.9" cy="775.0" r="1.6" fill="#e0e0d6" opacity="0.85"/><circle cx="582.7" cy="755.1" r="1.6" fill="#c2bd98" opacity="0.85"/><circle cx="586.0" cy="802.9" r="1.8" fill="#cbc7a6" opacity="0.85"/><circle cx="635.8" cy="783.0" r="2.6" fill="#e0e0d6" opacity="0.85"/><circle cx="640.3" cy="720.5" r="1.7" fill="#c4c4c2" opacity="0.85"/><circle cx="599.4" cy="828.3" r="2.9" fill="#f6f6f2" opacity="0.85"/><circle cx="543.7" cy="694.9" r="1.7" fill="#f7f7f5" opacity="0.85"/><circle cx="605.5" cy="860.1" r="1.9" fill="#c4c4c2" opacity="0.85"/><circle cx="577.9" cy="819.6" r="2.7" fill="#f3f3ee" opacity="0.85"/><circle cx="591.9" cy="740.3" r="1.6" fill="#f6f6f2" opacity="0.85"/><circle cx="595.5" cy="702.1" r="1.7" fill="#e8e8e6" opacity="0.85"/><circle cx="483.5" cy="793.7" r="3.3" fill="#f7f7f5" opacity="0.85"/><circle cx="658.1" cy="817.9" r="2.8" fill="#e8e8e6" opacity="0.85"/><circle cx="559.8" cy="868.4" r="2.2" fill="#f4f4f2" opacity="0.85"/><circle cx="577.6" cy="866.6" r="3.0" fill="#fbfbfa" opacity="0.85"/><circle cx="660.8" cy="724.5" r="2.9" fill="#f7f7f5" opacity="0.85"/><circle cx="483.3" cy="791.5" r="2.2" fill="#f4f4f2" opacity="0.85"/><circle cx="649.4" cy="723.9" r="1.7" fill="#fbfbfa" opacity="0.85"/><circle cx="516.5" cy="792.3" r="1.7" fill="#e0e0d6" opacity="0.85"/><circle cx="596.9" cy="789.2" r="1.8" fill="#f5f4ea" opacity="0.85"/><circle cx="608.2" cy="760.2" r="1.5" fill="#f0efe0" opacity="0.85"/><circle cx="658.5" cy="727.6" r="2.9" fill="#fbfbfa" opacity="0.85"/><circle cx="639.8" cy="784.6" r="1.8" fill="#f6f6f2" opacity="0.85"/><circle cx="624.7" cy="849.2" r="2.1" fill="#fbfbfa" opacity="0.85"/><circle cx="582.0" cy="770.7" r="2.1" fill="#c2bd98" opacity="0.85"/><circle cx="509.8" cy="755.3" r="2.3" fill="#f6f6f2" opacity="0.85"/><circle cx="604.5" cy="807.0" r="2.8" fill="#e0e0d6" opacity="0.85"/><circle cx="636.3" cy="808.3" r="2.1" fill="#e0e0d6" opacity="0.85"/><circle cx="635.4" cy="836.7" r="2.4" fill="#e8e8e6" opacity="0.85"/><circle cx="605.3" cy="719.9" r="2.5" fill="#f6f6f2" opacity="0.85"/><circle cx="510.4" cy="832.2" r="3.3" fill="#fbfbfa" opacity="0.85"/><circle cx="505.5" cy="723.1" r="1.6" fill="#c4c4c2" opacity="0.85"/><circle cx="638.1" cy="801.3" r="2.3" fill="#e0e0d6" opacity="0.85"/><circle cx="649.6" cy="750.7" r="2.3" fill="#f4f4f2" opacity="0.85"/><circle cx="548.4" cy="807.5" r="2.9" fill="#f6f6f2" opacity="0.85"/><circle cx="499.7" cy="760.5" r="2.6" fill="#fbfbfa" opacity="0.85"/><circle cx="556.7" cy="694.4" r="2.8" fill="#f4f4f2" opacity="0.85"/><circle cx="580.2" cy="786.3" r="1.4" fill="#f0efe0" opacity="0.85"/><circle cx="561.5" cy="761.8" r="1.6" fill="#f5f4ea" opacity="0.85"/><circle cx="632.2" cy="742.9" r="1.8" fill="#f3f3ee" opacity="0.85"/><circle cx="528.1" cy="754.4" r="1.8" fill="#f3f3ee" opacity="0.85"/><circle cx="643.2" cy="815.8" r="1.8" fill="#f7f7f5" opacity="0.85"/><circle cx="528.7" cy="712.6" r="2.9" fill="#f7f7f5" opacity="0.85"/><circle cx="564.8" cy="778.8" r="1.7" fill="#c2bd98" opacity="0.85"/><circle cx="526.2" cy="837.3" r="2.6" fill="#e8e8e6" opacity="0.85"/><circle cx="550.7" cy="704.6" r="2.8" fill="#c4c4c2" opacity="0.85"/><circle cx="499.8" cy="750.5" r="2.0" fill="#c4c4c2" opacity="0.85"/><circle cx="598.0" cy="837.4" r="2.8" fill="#e0e0d6" opacity="0.85"/><circle cx="619.1" cy="777.9" r="2.5" fill="#f3f3ee" opacity="0.85"/><circle cx="587.9" cy="807.1" r="1.8" fill="#f6f6f2" opacity="0.85"/><circle cx="525.4" cy="731.2" r="2.6" fill="#f6f6f2" opacity="0.85"/><circle cx="651.9" cy="816.9" r="1.5" fill="#e8e8e6" opacity="0.85"/><circle cx="548.1" cy="740.4" r="2.4" fill="#f6f6f2" opacity="0.85"/><circle cx="674.0" cy="766.5" r="1.6" fill="#e8e8e6" opacity="0.85"/><circle cx="643.7" cy="706.6" r="1.6" fill="#f4f4f2" opacity="0.85"/><circle cx="593.4" cy="678.7" r="2.3" fill="#fbfbfa" opacity="0.85"/><circle cx="487.4" cy="745.7" r="3.0" fill="#e8e8e6" opacity="0.85"/><circle cx="523.4" cy="817.7" r="3.0" fill="#f6f6f2" opacity="0.85"/><circle cx="536.2" cy="694.7" r="3.1" fill="#c4c4c2" opacity="0.85"/><circle cx="498.4" cy="764.5" r="2.0" fill="#e8e8e6" opacity="0.85"/><circle cx="541.3" cy="735.5" r="2.0" fill="#e0e0d6" opacity="0.85"/><circle cx="656.1" cy="754.2" r="3.3" fill="#fbfbfa" opacity="0.85"/><circle cx="552.2" cy="805.1" r="2.4" fill="#f3f3ee" opacity="0.85"/><circle cx="497.4" cy="754.6" r="1.9" fill="#f7f7f5" opacity="0.85"/><circle cx="603.2" cy="866.1" r="1.9" fill="#e8e8e6" opacity="0.85"/><circle cx="510.6" cy="729.3" r="2.8" fill="#c4c4c2" opacity="0.85"/><circle cx="496.9" cy="807.2" r="1.9" fill="#f4f4f2" opacity="0.85"/><circle cx="503.4" cy="748.1" r="2.8" fill="#c4c4c2" opacity="0.85"/><circle cx="590.2" cy="748.7" r="1.5" fill="#c2bd98" opacity="0.85"/><circle cx="585.7" cy="733.5" r="2.7" fill="#e0e0d6" opacity="0.85"/><circle cx="555.3" cy="685.9" r="1.7" fill="#f7f7f5" opacity="0.85"/><circle cx="527.2" cy="695.0" r="1.6" fill="#f4f4f2" opacity="0.85"/><circle cx="586.5" cy="705.1" r="1.7" fill="#f3f3ee" opacity="0.85"/><circle cx="534.7" cy="784.8" r="2.7" fill="#f6f6f2" opacity="0.85"/><circle cx="579.9" cy="760.6" r="2.1" fill="#f5f4ea" opacity="0.85"/><circle cx="505.1" cy="754.0" r="2.2" fill="#c4c4c2" opacity="0.85"/><circle cx="559.6" cy="678.9" r="2.4" fill="#fbfbfa" opacity="0.85"/><circle cx="623.2" cy="771.1" r="2.0" fill="#f3f3ee" opacity="0.85"/><circle cx="525.1" cy="774.6" r="1.9" fill="#e0e0d6" opacity="0.85"/><circle cx="540.4" cy="772.4" r="2.0" fill="#f3f3ee" opacity="0.85"/><circle cx="624.2" cy="762.1" r="1.8" fill="#e0e0d6" opacity="0.85"/><circle cx="613.5" cy="832.6" r="2.7" fill="#f6f6f2" opacity="0.85"/><circle cx="543.9" cy="801.7" r="2.1" fill="#f3f3ee" opacity="0.85"/><circle cx="527.6" cy="811.4" r="3.0" fill="#f6f6f2" opacity="0.85"/><circle cx="629.1" cy="719.1" r="2.7" fill="#f4f4f2" opacity="0.85"/><circle cx="556.4" cy="811.4" r="1.5" fill="#e0e0d6" opacity="0.85"/><circle cx="543.6" cy="822.3" r="2.1" fill="#e0e0d6" opacity="0.85"/><circle cx="572.5" cy="715.1" r="1.6" fill="#f6f6f2" opacity="0.85"/><circle cx="564.1" cy="760.9" r="1.1" fill="#cbc7a6" opacity="0.85"/><circle cx="535.2" cy="717.8" r="2.3" fill="#e0e0d6" opacity="0.85"/><circle cx="622.5" cy="723.2" r="2.1" fill="#f3f3ee" opacity="0.85"/><circle cx="518.6" cy="839.2" r="1.6" fill="#c4c4c2" opacity="0.85"/><circle cx="563.3" cy="854.9" r="1.6" fill="#f7f7f5" opacity="0.85"/><circle cx="518.2" cy="739.3" r="2.7" fill="#e0e0d6" opacity="0.85"/><circle cx="648.4" cy="772.2" r="2.2" fill="#e0e0d6" opacity="0.85"/><circle cx="625.0" cy="845.4" r="2.8" fill="#e8e8e6" opacity="0.85"/><circle cx="599.7" cy="733.2" r="1.6" fill="#f3f3ee" opacity="0.85"/><circle cx="599.2" cy="828.9" r="2.2" fill="#f3f3ee" opacity="0.85"/><circle cx="550.1" cy="812.9" r="2.5" fill="#e0e0d6" opacity="0.85"/><circle cx="602.2" cy="853.6" r="1.7" fill="#fbfbfa" opacity="0.85"/><circle cx="557.0" cy="679.7" r="2.9" fill="#fbfbfa" opacity="0.85"/><circle cx="515.2" cy="758.9" r="2.0" fill="#e0e0d6" opacity="0.85"/><circle cx="491.7" cy="799.3" r="2.6" fill="#c4c4c2" opacity="0.85"/><circle cx="528.8" cy="836.5" r="2.3" fill="#fbfbfa" opacity="0.85"/><circle cx="517.1" cy="804.1" r="1.7" fill="#e0e0d6" opacity="0.85"/><circle cx="515.5" cy="788.9" r="2.8" fill="#f6f6f2" opacity="0.85"/><circle cx="562.2" cy="826.1" r="2.7" fill="#f3f3ee" opacity="0.85"/><circle cx="581.1" cy="765.4" r="1.8" fill="#c2bd98" opacity="0.85"/><circle cx="542.3" cy="703.7" r="3.2" fill="#c4c4c2" opacity="0.85"/><circle cx="497.4" cy="822.9" r="2.5" fill="#c4c4c2" opacity="0.85"/><circle cx="492.9" cy="740.8" r="2.1" fill="#f7f7f5" opacity="0.85"/><circle cx="569.1" cy="681.4" r="2.6" fill="#f4f4f2" opacity="0.85"/><circle cx="597.5" cy="750.0" r="2.1" fill="#c2bd98" opacity="0.85"/><circle cx="622.5" cy="720.2" r="2.6" fill="#f6f6f2" opacity="0.85"/><circle cx="502.6" cy="755.3" r="2.3" fill="#e8e8e6" opacity="0.85"/><circle cx="591.3" cy="797.6" r="2.0" fill="#cbc7a6" opacity="0.85"/><circle cx="572.0" cy="761.2" r="1.2" fill="#f5f4ea" opacity="0.85"/><circle cx="618.3" cy="766.9" r="2.5" fill="#f3f3ee" opacity="0.85"/><circle cx="545.5" cy="703.5" r="2.6" fill="#e8e8e6" opacity="0.85"/><circle cx="491.1" cy="790.1" r="2.1" fill="#f4f4f2" opacity="0.85"/><circle cx="516.9" cy="808.1" r="2.2" fill="#f3f3ee" opacity="0.85"/><circle cx="595.1" cy="723.9" r="2.9" fill="#f6f6f2" opacity="0.85"/><circle cx="601.3" cy="820.3" r="1.8" fill="#e0e0d6" opacity="0.85"/><circle cx="501.1" cy="758.4" r="2.3" fill="#fbfbfa" opacity="0.85"/><circle cx="526.3" cy="749.6" r="2.9" fill="#e0e0d6" opacity="0.85"/><circle cx="634.6" cy="832.2" r="2.0" fill="#e8e8e6" opacity="0.85"/><circle cx="553.6" cy="866.7" r="1.9" fill="#c4c4c2" opacity="0.85"/><circle cx="603.8" cy="779.2" r="1.7" fill="#c2bd98" opacity="0.85"/><circle cx="576.1" cy="819.9" r="2.2" fill="#f6f6f2" opacity="0.85"/><circle cx="540.4" cy="785.4" r="1.9" fill="#f6f6f2" opacity="0.85"/><circle cx="584.8" cy="799.6" r="1.2" fill="#f0efe0" opacity="0.85"/><circle cx="495.4" cy="795.7" r="1.6" fill="#e8e8e6" opacity="0.85"/><circle cx="624.8" cy="712.4" r="2.4" fill="#c4c4c2" opacity="0.85"/><circle cx="510.4" cy="827.5" r="1.5" fill="#c4c4c2" opacity="0.85"/><circle cx="584.4" cy="682.3" r="2.4" fill="#c4c4c2" opacity="0.85"/><circle cx="546.6" cy="825.2" r="2.4" fill="#e0e0d6" opacity="0.85"/><circle cx="514.9" cy="704.4" r="2.8" fill="#f4f4f2" opacity="0.85"/><circle cx="635.1" cy="785.9" r="1.6" fill="#e0e0d6" opacity="0.85"/><circle cx="543.0" cy="690.3" r="2.6" fill="#f4f4f2" opacity="0.85"/><circle cx="565.1" cy="831.7" r="2.8" fill="#f3f3ee" opacity="0.85"/><circle cx="598.9" cy="773.5" r="1.5" fill="#f0efe0" opacity="0.85"/><circle cx="583.8" cy="772.7" r="1.6" fill="#cbc7a6" opacity="0.85"/><circle cx="637.3" cy="809.8" r="2.8" fill="#e0e0d6" opacity="0.85"/><circle cx="543.4" cy="706.4" r="2.7" fill="#fbfbfa" opacity="0.85"/><circle cx="555.9" cy="845.4" r="1.9" fill="#f4f4f2" opacity="0.85"/><circle cx="610.9" cy="791.3" r="2.3" fill="#f3f3ee" opacity="0.85"/><circle cx="656.1" cy="719.1" r="3.1" fill="#f4f4f2" opacity="0.85"/><circle cx="553.7" cy="826.7" r="1.9" fill="#e0e0d6" opacity="0.85"/></g>
</svg>
</body></html>
